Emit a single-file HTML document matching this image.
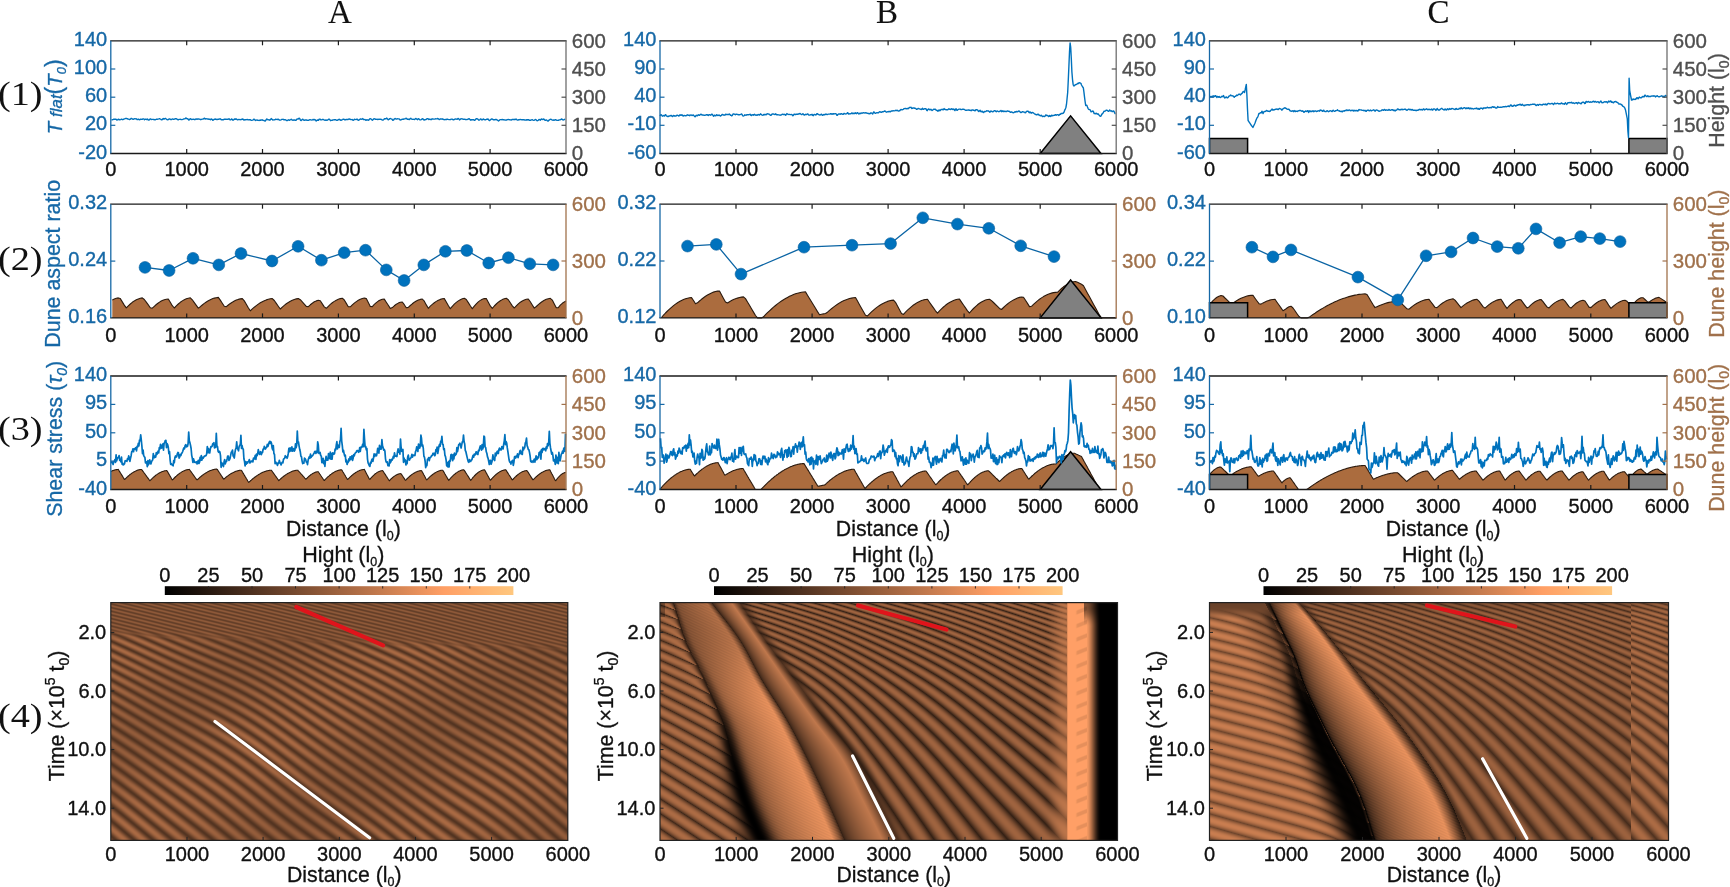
<!DOCTYPE html>
<html><head><meta charset="utf-8"><title>Dune figure</title>
<style>html,body{margin:0;padding:0;background:#fff;} #wrap{position:relative;width:1730px;height:887px;overflow:hidden;background:#fff;font-family:"Liberation Sans", sans-serif;} svg{position:absolute;left:0;top:0;}</style>
</head><body><div id="wrap">
<svg width="1730" height="887" viewBox="0 0 1730 887"><defs><filter id="fbl" x="-20%" y="-20%" width="140%" height="140%"><feGaussianBlur stdDeviation="3"/></filter><clipPath id="cpB"><rect x="660" y="603" width="458" height="238"/></clipPath><clipPath id="cpC"><rect x="1210" y="603" width="458" height="238"/></clipPath></defs><defs><linearGradient id="fbs" gradientUnits="userSpaceOnUse" x1="0" y1="0" x2="-4.6" y2="8.4" spreadMethod="repeat"><stop offset="0" stop-color="rgb(159,99,63)"/><stop offset="0.35" stop-color="rgb(143,89,57)"/><stop offset="0.6" stop-color="rgb(76,47,30)"/><stop offset="0.8" stop-color="rgb(133,83,53)"/><stop offset="1" stop-color="rgb(159,99,63)"/></linearGradient></defs><rect x="110.8" y="602.6" width="457" height="237.8" fill="url(#fbs)"/><rect x="660" y="602.6" width="457.5" height="237.8" fill="url(#fbs)"/><rect x="1209.5" y="602.6" width="459" height="237.8" fill="url(#fbs)"/><g clip-path="url(#cpB)"><g filter="url(#fbl)"><polygon points="674,603 687,642 701,670 714,699 724,724 733,760 744,798 755,826 763,843 846,843 827,800 808,760 787,720 762,680 740,640 712,603" fill="rgb(216,135,86)" /><polygon points="712,603 740,640 762,680 787,720 808,760 827,800 846,843 900,843 878,800 855,756 825,720 795,680 765,640 740,603" fill="rgb(159,99,63)" /><polygon points="718,724 727,760 738,798 749,826 757,843 767,843 759,826 748,798 737,760 728,724" fill="rgb(25,15,10)" /></g><rect x="1065" y="603" width="23" height="238" fill="rgb(255,183,116)"/><defs><linearGradient id="fbg" x1="0" x2="1"><stop offset="0" stop-color="rgb(255,175,111)"/><stop offset="1" stop-color="#000"/></linearGradient></defs><rect x="1088" y="603" width="14" height="238" fill="url(#fbg)"/><rect x="1102" y="603" width="16" height="238" fill="#000"/></g><g clip-path="url(#cpC)"><g filter="url(#fbl)"><polygon points="1268,603 1282,630 1295,656 1306,685 1320,713 1332,738 1359,793 1375,843 1460,843 1438,793 1402,738 1358,683 1314,628 1292,603" fill="rgb(229,143,91)" /><polygon points="1262,603 1274,630 1285,656 1292,685 1300,713 1306,738 1327,793 1349,843 1375,843 1359,793 1332,738 1320,713 1306,685 1295,656 1282,630 1268,603" fill="rgb(15,9,6)" /></g></g></svg>
<canvas id="hmA" width="457" height="238" style="position:absolute;left:111px;top:603px;width:457px;height:238px"></canvas><canvas id="hmB" width="458" height="238" style="position:absolute;left:660px;top:603px;width:458px;height:238px"></canvas><canvas id="hmC" width="458" height="238" style="position:absolute;left:1210px;top:603px;width:458px;height:238px"></canvas>
<svg width="1730" height="887" viewBox="0 0 1730 887"><defs><linearGradient id="cop" x1="0" x2="1" y1="0" y2="0"><stop offset="0.0" stop-color="rgb(0,0,0)"/><stop offset="0.1" stop-color="rgb(31,19,12)"/><stop offset="0.2" stop-color="rgb(63,39,25)"/><stop offset="0.3" stop-color="rgb(95,59,38)"/><stop offset="0.4" stop-color="rgb(127,79,50)"/><stop offset="0.5" stop-color="rgb(159,99,63)"/><stop offset="0.6" stop-color="rgb(191,119,76)"/><stop offset="0.7" stop-color="rgb(223,139,88)"/><stop offset="0.8" stop-color="rgb(255,159,101)"/><stop offset="0.9" stop-color="rgb(255,179,114)"/><stop offset="1.0" stop-color="rgb(255,199,126)"/></linearGradient></defs>
<text x="340" y="23" font-size="33" text-anchor="middle" fill="#111" stroke="#111" stroke-width="0.1" font-family='"Liberation Serif", serif' >A</text>
<text x="887" y="23" font-size="33" text-anchor="middle" fill="#111" stroke="#111" stroke-width="0.1" font-family='"Liberation Serif", serif' >B</text>
<text x="1438.5" y="23" font-size="33" text-anchor="middle" fill="#111" stroke="#111" stroke-width="0.1" font-family='"Liberation Serif", serif' >C</text>
<text transform="translate(20.3,104.6) scale(1.16,1)" font-size="33" text-anchor="middle" fill="#111" font-family='"Liberation Serif", serif'>(1)</text>
<text transform="translate(20.3,269.7) scale(1.16,1)" font-size="33" text-anchor="middle" fill="#111" font-family='"Liberation Serif", serif'>(2)</text>
<text transform="translate(20.3,440.4) scale(1.16,1)" font-size="33" text-anchor="middle" fill="#111" font-family='"Liberation Serif", serif'>(3)</text>
<text transform="translate(20.3,727) scale(1.16,1)" font-size="33" text-anchor="middle" fill="#111" font-family='"Liberation Serif", serif'>(4)</text>
<polyline points="111.5,119.7 112.2,119.7 113,119.6 113.8,119.2 114.5,119.2 115.2,119.1 116,119.3 116.8,120.1 117.5,119.9 118.2,119.2 119,119.5 119.8,119.9 120.5,119.7 121.2,119.3 122,119.2 122.8,119.8 123.5,119.3 124.2,118.9 125,118.7 125.8,118.4 126.5,118.4 127.2,118.8 128,119 128.8,119.1 129.5,119.6 130.2,119.4 131,118.5 131.8,118.4 132.5,119.2 133.2,119.4 134,118.9 134.8,118.7 135.5,118.9 136.2,118.8 137,119.5 137.8,119.5 138.5,119.1 139.2,119.7 140,119.5 140.8,119.1 141.5,119.3 142.2,119.4 143,118.9 143.8,118.9 144.5,119.8 145.2,119.3 146,119.1 146.8,119.6 147.5,119.1 148.2,119.8 149,120.2 149.8,119.1 150.5,118.9 151.2,119.5 152,119.4 152.8,119.4 153.5,119.5 154.2,119.5 155,120 155.8,119.5 156.5,119.1 157.2,119.2 158,119.1 158.8,118.9 159.5,118.6 160.2,119 161,119.5 161.8,119.9 162.5,119.2 163.2,118.5 164,119.2 164.8,118.7 165.5,118.4 166.2,119 167,119.6 167.8,119.9 168.5,119.3 169.2,119 170,119 170.8,119.6 171.5,119.6 172.2,118.9 173,119.2 173.8,119.3 174.5,119.1 175.2,118.7 176,118.8 176.8,119 177.5,119.5 178.2,119.8 179,119.4 179.8,119.4 180.5,119.3 181.2,119.5 182,119.6 182.8,119.4 183.5,119 184.2,118.9 185,118.8 185.8,117.9 186.5,118.4 187.2,118.8 188,119 188.8,120.1 189.5,119.7 190.2,118.7 191,119.1 191.8,119.5 192.5,119.4 193.2,119.1 194,119.4 194.8,119.7 195.5,119.1 196.2,118.9 197,119.3 197.8,118.9 198.5,119 199.2,119.1 200,119.3 200.8,119.7 201.5,119.4 202.2,119.1 203,119.1 203.8,118.6 204.5,118.2 205.2,119.1 206,118.7 206.8,118.9 207.5,119 208.2,119 209,119.3 209.8,119.3 210.5,119.7 211.2,118.9 212,119.3 212.8,120.3 213.5,119.9 214.2,119.3 215,119.3 215.8,119 216.5,119.5 217.2,119.6 218,119.2 218.8,119.2 219.5,119 220.2,118.8 221,119.5 221.8,119.9 222.5,119.8 223.2,119.8 224,119.3 224.8,119.2 225.5,119.2 226.2,119.3 227,119.4 227.8,119.3 228.5,119 229.2,118.8 230,119.9 230.8,119.9 231.5,119 232.2,119.3 233,120.2 233.8,119.6 234.5,119 235.2,119.3 236,118.8 236.8,119.3 237.5,119.9 238.2,119.7 239,119.4 239.8,119.6 240.5,119.7 241.2,119.5 242,119.3 242.8,118.9 243.5,119.8 244.2,120 245,119.7 245.8,119.8 246.5,119.6 247.2,119.4 248,119.8 248.8,119.9 249.5,119.6 250.2,119.7 251,120.2 251.8,120.4 252.5,120.2 253.2,119.8 254,119.1 254.8,119.7 255.5,120.5 256.2,120.1 257,120 257.8,120.3 258.5,120.4 259.2,120.5 260,120 260.8,120.2 261.5,120 262.2,119.8 263,120.4 263.8,120.4 264.5,120.9 265.2,121.1 266,120 266.8,118.9 267.5,119.6 268.2,119.9 269,119.6 269.8,120.2 270.5,119.7 271.2,118.6 272,119.3 272.8,120.1 273.5,119.9 274.2,119.9 275,119.7 275.8,119.1 276.5,119.4 277.2,119.6 278,119.1 278.8,119.6 279.5,120.1 280.2,120.1 281,119.8 281.8,119.4 282.5,119.4 283.2,119.3 284,119.8 284.8,119.8 285.5,119.8 286.2,120.2 287,120.8 287.8,120.2 288.5,119.8 289.2,120.3 290,120 290.8,119.5 291.5,119.3 292.2,120.1 293,120.2 293.8,120 294.5,119.9 295.2,120.3 296,120.4 296.8,119.2 297.5,119 298.2,119.1 299,118.2 299.8,118.7 300.5,120.3 301.2,120.5 302,119.6 302.8,119.2 303.5,120 304.2,120.4 305,120 305.8,120 306.5,120 307.2,120.3 308,120.4 308.8,120.2 309.5,119.7 310.2,119.8 311,119.9 311.8,120.1 312.5,119.9 313.2,119.4 314,119.9 314.8,119.5 315.5,120.1 316.2,121 317,120.2 317.8,120 318.5,120.3 319.2,119.1 320,119.1 320.8,119.9 321.5,119.9 322.2,119.5 323,119.4 323.8,119.7 324.5,120.2 325.2,120.4 326,119.9 326.8,120.4 327.5,120.2 328.2,119.5 329,119 329.8,119.7 330.5,120.7 331.2,120.4 332,120.3 332.8,120 333.5,119.9 334.2,119.7 335,119.6 335.8,119.7 336.5,120.3 337.2,120.4 338,119.9 338.8,119.5 339.5,119.3 340.2,120 341,120.4 341.8,119.9 342.5,119.6 343.2,119.2 344,119.2 344.8,119.9 345.5,119.8 346.2,119.4 347,119.5 347.8,119.6 348.5,119.1 349.2,119 350,119.2 350.8,119.6 351.5,119.6 352.2,119.5 353,120.3 353.8,120 354.5,119.2 355.2,119.4 356,119.6 356.8,119.2 357.5,119.3 358.2,120.4 359,120.1 359.8,119.3 360.5,119 361.2,119.2 362,119.1 362.8,118.6 363.5,119.5 364.2,119.6 365,119.5 365.8,120.3 366.5,120 367.2,119.7 368,120.3 368.8,120 369.5,119.1 370.2,118.7 371,118.9 371.8,119.9 372.5,120.2 373.2,119.4 374,118.7 374.8,118.9 375.5,119.3 376.2,119.4 377,119.3 377.8,119.5 378.5,119.3 379.2,119.2 380,119.4 380.8,119.3 381.5,119.4 382.2,120.1 383,120.1 383.8,119.5 384.5,118.7 385.2,118.8 386,118.7 386.8,118.1 387.5,119.1 388.2,119.8 389,119.4 389.8,118.6 390.5,118.5 391.2,118.9 392,119.2 392.8,120.2 393.5,120.1 394.2,119 395,118.5 395.8,118.8 396.5,119.1 397.2,118.8 398,118.9 398.8,118.9 399.5,119.2 400.2,120 401,119.9 401.8,119.4 402.5,119.2 403.2,119.3 404,119 404.8,118.9 405.5,118.6 406.2,118.2 407,119 407.8,119.4 408.5,119.2 409.2,119.6 410,118.9 410.8,118.3 411.5,119 412.2,119.4 413,119.2 413.8,119.4 414.5,119.6 415.2,118.9 416,118.5 416.8,119.2 417.5,119.7 418.2,118.7 419,119 419.8,119.9 420.5,119.9 421.2,119.6 422,119 422.8,118.7 423.5,119.7 424.2,120.1 425,119.7 425.8,119.6 426.5,119.1 427.2,118.7 428,118.6 428.8,119.5 429.5,119.2 430.2,119.2 431,119.8 431.8,119 432.5,118.8 433.2,119 434,119.1 434.8,119.1 435.5,118.8 436.2,118.9 437,118.9 437.8,118.5 438.5,118.9 439.2,119.6 440,119.1 440.8,118.8 441.5,119.1 442.2,118.8 443,119.3 443.8,119.5 444.5,119.7 445.2,119.6 446,119.3 446.8,119.5 447.5,119.1 448.2,119.4 449,119.6 449.8,119.6 450.5,119.6 451.2,119.1 452,119.1 452.8,119.5 453.5,119.8 454.2,119.5 455,119.2 455.8,118.9 456.5,119.1 457.2,119.4 458,118.5 458.8,118.9 459.5,119.9 460.2,119.4 461,118.7 461.8,118.9 462.5,118.9 463.2,119.3 464,119.4 464.8,119.1 465.5,119.6 466.2,119.6 467,119.5 467.8,119.4 468.5,118.9 469.2,118.6 470,119.7 470.8,120.2 471.5,119.6 472.2,119.8 473,119.7 473.8,119.8 474.5,120.4 475.2,120 476,118.8 476.8,118.8 477.5,118.9 478.2,119.5 479,120.3 479.8,119.7 480.5,118.9 481.2,119.2 482,120.1 482.8,119.3 483.5,119 484.2,119.6 485,119.8 485.8,119.8 486.5,119.3 487.2,119.2 488,119 488.8,120 489.5,120.6 490.2,120 491,119.4 491.8,118.9 492.5,119.1 493.2,119.7 494,119.8 494.8,119.8 495.5,119.5 496.2,119.5 497,119.9 497.8,120.3 498.5,121 499.2,120.5 500,119.6 500.8,119.6 501.5,119.7 502.2,119.5 503,119.7 503.8,119.6 504.5,119.8 505.2,120.1 506,120 506.8,120 507.5,119.6 508.2,119.4 509,119.6 509.8,119.7 510.5,119.9 511.2,120.1 512,119.5 512.8,119.5 513.5,119.5 514.2,119.3 515,119.7 515.8,119.2 516.5,119.3 517.2,120.1 518,120 518.8,119.8 519.5,119.7 520.2,119.5 521,119.6 521.8,119.7 522.5,119.8 523.2,119.6 524,119.7 524.8,120.1 525.5,120 526.2,119.8 527,120 527.8,119.6 528.5,119.6 529.2,120.2 530,120.2 530.8,120.2 531.5,119.9 532.2,119.7 533,120.1 533.8,120.4 534.5,120.2 535.2,119.5 536,119.6 536.8,120.6 537.5,120.7 538.2,120.4 539,119.5 539.8,119.7 540.5,120.2 541.2,119 542,119.2 542.8,119.6 543.5,119 544.2,119.3 545,120.2 545.8,120.2 546.5,119.9 547.2,120.6 548,121.1 548.8,120.4 549.5,119.8 550.2,119.4 551,119.2 551.8,119.8 552.5,120.2 553.2,120 554,120.3 554.8,119.9 555.5,119.6 556.2,120.1 557,120.3 557.8,120.4 558.5,120.3 559.2,119.9 560,119.8 560.8,119.6 561.5,118.9 562.2,119.4 563,120 563.8,119.9 564.5,119.3 565.2,119.1" fill="none" stroke="#0072BD" stroke-width="1.4" stroke-linejoin="round" />
<line x1="110.2" y1="40.8" x2="566.6" y2="40.8" stroke="#1a1a1a" stroke-width="1.3"/>
<line x1="110.2" y1="153.5" x2="566.6" y2="153.5" stroke="#1a1a1a" stroke-width="1.3"/>
<line x1="110.8" y1="40.8" x2="110.8" y2="153.5" stroke="#1668a6" stroke-width="1.3"/>
<line x1="566" y1="40.8" x2="566" y2="153.5" stroke="#6e6e6e" stroke-width="1.3"/>
<text x="110.8" y="176.1" font-size="20" text-anchor="middle" fill="#111" stroke="#111" stroke-width="0.35" font-family='"Liberation Sans", sans-serif' >0</text>
<line x1="186.7" y1="153.5" x2="186.7" y2="149" stroke="#1a1a1a" stroke-width="1.2"/>
<line x1="186.7" y1="40.8" x2="186.7" y2="45.3" stroke="#1a1a1a" stroke-width="1.2"/>
<text x="186.7" y="176.1" font-size="20" text-anchor="middle" fill="#111" stroke="#111" stroke-width="0.35" font-family='"Liberation Sans", sans-serif' >1000</text>
<line x1="262.5" y1="153.5" x2="262.5" y2="149" stroke="#1a1a1a" stroke-width="1.2"/>
<line x1="262.5" y1="40.8" x2="262.5" y2="45.3" stroke="#1a1a1a" stroke-width="1.2"/>
<text x="262.5" y="176.1" font-size="20" text-anchor="middle" fill="#111" stroke="#111" stroke-width="0.35" font-family='"Liberation Sans", sans-serif' >2000</text>
<line x1="338.4" y1="153.5" x2="338.4" y2="149" stroke="#1a1a1a" stroke-width="1.2"/>
<line x1="338.4" y1="40.8" x2="338.4" y2="45.3" stroke="#1a1a1a" stroke-width="1.2"/>
<text x="338.4" y="176.1" font-size="20" text-anchor="middle" fill="#111" stroke="#111" stroke-width="0.35" font-family='"Liberation Sans", sans-serif' >3000</text>
<line x1="414.3" y1="153.5" x2="414.3" y2="149" stroke="#1a1a1a" stroke-width="1.2"/>
<line x1="414.3" y1="40.8" x2="414.3" y2="45.3" stroke="#1a1a1a" stroke-width="1.2"/>
<text x="414.3" y="176.1" font-size="20" text-anchor="middle" fill="#111" stroke="#111" stroke-width="0.35" font-family='"Liberation Sans", sans-serif' >4000</text>
<line x1="490.1" y1="153.5" x2="490.1" y2="149" stroke="#1a1a1a" stroke-width="1.2"/>
<line x1="490.1" y1="40.8" x2="490.1" y2="45.3" stroke="#1a1a1a" stroke-width="1.2"/>
<text x="490.1" y="176.1" font-size="20" text-anchor="middle" fill="#111" stroke="#111" stroke-width="0.35" font-family='"Liberation Sans", sans-serif' >5000</text>
<text x="566" y="176.1" font-size="20" text-anchor="middle" fill="#111" stroke="#111" stroke-width="0.35" font-family='"Liberation Sans", sans-serif' >6000</text>
<text x="107.2" y="45.8" font-size="20" text-anchor="end" fill="#1668a6" stroke="#1668a6" stroke-width="0.35" font-family='"Liberation Sans", sans-serif' >140</text>
<line x1="110.8" y1="69" x2="115.3" y2="69" stroke="#1668a6" stroke-width="1.2"/>
<text x="107.2" y="74" font-size="20" text-anchor="end" fill="#1668a6" stroke="#1668a6" stroke-width="0.35" font-family='"Liberation Sans", sans-serif' >100</text>
<line x1="110.8" y1="97.2" x2="115.3" y2="97.2" stroke="#1668a6" stroke-width="1.2"/>
<text x="107.2" y="102.2" font-size="20" text-anchor="end" fill="#1668a6" stroke="#1668a6" stroke-width="0.35" font-family='"Liberation Sans", sans-serif' >60</text>
<line x1="110.8" y1="125.3" x2="115.3" y2="125.3" stroke="#1668a6" stroke-width="1.2"/>
<text x="107.2" y="130.3" font-size="20" text-anchor="end" fill="#1668a6" stroke="#1668a6" stroke-width="0.35" font-family='"Liberation Sans", sans-serif' >20</text>
<text x="107.2" y="158.5" font-size="20" text-anchor="end" fill="#1668a6" stroke="#1668a6" stroke-width="0.35" font-family='"Liberation Sans", sans-serif' >-20</text>
<text x="571.8" y="47.6" font-size="20.5" text-anchor="start" fill="#4f4f4f" stroke="#4f4f4f" stroke-width="0.35" font-family='"Liberation Sans", sans-serif' >600</text>
<line x1="566" y1="69" x2="561.5" y2="69" stroke="#4f4f4f" stroke-width="1.2"/>
<text x="571.8" y="75.8" font-size="20.5" text-anchor="start" fill="#4f4f4f" stroke="#4f4f4f" stroke-width="0.35" font-family='"Liberation Sans", sans-serif' >450</text>
<line x1="566" y1="97.2" x2="561.5" y2="97.2" stroke="#4f4f4f" stroke-width="1.2"/>
<text x="571.8" y="104" font-size="20.5" text-anchor="start" fill="#4f4f4f" stroke="#4f4f4f" stroke-width="0.35" font-family='"Liberation Sans", sans-serif' >300</text>
<line x1="566" y1="125.3" x2="561.5" y2="125.3" stroke="#4f4f4f" stroke-width="1.2"/>
<text x="571.8" y="132.1" font-size="20.5" text-anchor="start" fill="#4f4f4f" stroke="#4f4f4f" stroke-width="0.35" font-family='"Liberation Sans", sans-serif' >150</text>
<text x="571.8" y="160.3" font-size="20.5" text-anchor="start" fill="#4f4f4f" stroke="#4f4f4f" stroke-width="0.35" font-family='"Liberation Sans", sans-serif' >0</text>
<path d="M1040.2,153.5 L1070.6,115.9 L1101,153.5 Z" fill="#808080" stroke="#000" stroke-width="1.5" stroke-linejoin="miter"/>
<polyline points="659.7,115.6 660.3,115.3 660.9,114.7 661.5,114.9 662.1,115.9 662.7,116.2 663.3,115.7 663.9,115.5 664.5,116 665.1,115 665.7,114.7 666.3,115.8 666.9,116.1 667.5,116.5 668.1,116.6 668.7,116.1 669.3,115.9 669.9,116 670.5,115.7 671.1,115.4 671.7,115.9 672.3,116.6 672.9,116.2 673.5,115.5 674.1,115.6 674.7,116.1 675.3,116 675.9,116 676.5,115.7 677.1,115.1 677.7,115.4 678.3,115.7 678.9,116.1 679.5,115.3 680.1,114.7 680.7,115.3 681.3,115.4 681.9,114.7 682.5,115.3 683.1,116 683.7,115.8 684.3,115.4 684.9,115.6 685.5,115.7 686.1,115.7 686.7,115.5 687.3,114.8 687.9,115.1 688.5,115.2 689.1,115.3 689.7,115.7 690.3,115.1 690.9,115 691.5,115.2 692.1,115.5 692.7,115.4 693.3,114.9 693.9,115.5 694.5,116.5 695.1,116.7 695.7,116 696.3,115.3 696.9,115.8 697.5,115.7 698.1,114.8 698.7,114.9 699.3,115.4 699.9,115.1 700.5,114.3 701.1,114.1 701.7,114.9 702.3,115.1 702.9,114.8 703.5,115.2 704.1,115.4 704.7,115.2 705.3,115.2 705.9,115 706.5,114.7 707.1,114.6 707.7,115.1 708.3,115.5 708.9,114.8 709.5,114.7 710.1,114.8 710.7,115.2 711.3,114.7 711.9,114.1 712.5,114.5 713.1,115.7 713.7,116.2 714.3,115.3 714.9,115.2 715.5,115.9 716.1,115.6 716.7,114.7 717.3,115.2 717.9,115.5 718.5,115.3 719.1,115 719.7,115.4 720.3,116.1 720.9,115.7 721.5,115.3 722.1,114.4 722.7,114.4 723.3,115 723.9,114.9 724.5,115.2 725.1,115 725.7,114.2 726.3,114.4 726.9,114.7 727.5,114.5 728.1,114.5 728.7,114.5 729.3,113.9 729.9,114.5 730.5,115.3 731.1,115.3 731.7,115.9 732.3,115.5 732.9,114.2 733.5,113.9 734.1,114.1 734.7,114.2 735.3,114.7 735.9,114.2 736.5,114.2 737.1,114.4 737.7,114.4 738.3,114.9 738.9,114.7 739.5,114.7 740.1,114.6 740.7,114.4 741.3,114 741.9,114.2 742.5,115.4 743.1,116.1 743.7,115.9 744.3,115.5 744.9,114.8 745.5,115.1 746.1,115.3 746.7,114.7 747.3,114.7 747.9,114.7 748.5,114.7 749.1,114.6 749.7,114.4 750.3,114.3 750.9,115.4 751.5,115.5 752.1,114.7 752.7,114.9 753.3,115.2 753.9,114.6 754.5,114.3 755.1,115 755.7,115.2 756.3,114.9 756.9,115.3 757.5,115 758.1,114.5 758.7,114.6 759.3,115.1 759.9,114.6 760.5,113.8 761.1,114.3 761.7,114.8 762.3,115.2 762.9,115.4 763.5,114.7 764.1,114.4 764.7,114.9 765.3,114.4 765.9,114.7 766.5,114.6 767.1,113.7 767.7,113.9 768.3,114.1 768.9,114 769.5,114.6 770.1,114.9 770.7,115.4 771.3,115.2 771.9,114.1 772.5,113.9 773.1,114.1 773.7,114 774.3,114.4 774.9,114.6 775.5,113.8 776.1,114.2 776.7,114.9 777.3,114.8 777.9,114.8 778.5,114.9 779.1,114.9 779.7,115.1 780.3,115.2 780.9,115 781.5,114.9 782.1,114.3 782.7,114.1 783.3,114.5 783.9,114.6 784.5,114.3 785.1,114.8 785.7,115.3 786.3,114.3 786.9,113.6 787.5,114 788.1,114.5 788.7,114.4 789.3,114.4 789.9,114.5 790.5,114.6 791.1,114.6 791.7,114.4 792.3,115 792.9,115.8 793.5,115.2 794.1,114.1 794.7,114.2 795.3,114.6 795.9,114.5 796.5,114.1 797.1,114.4 797.7,114.3 798.3,113.9 798.9,114.1 799.5,113.7 800.1,113.4 800.7,114 801.3,114.5 801.9,114.6 802.5,113.9 803.1,113.8 803.7,114.7 804.3,115.1 804.9,114.8 805.5,114.3 806.1,114.5 806.7,114.6 807.3,114 807.9,113.9 808.5,114.8 809.1,115.1 809.7,115 810.3,114.8 810.9,114.7 811.5,114.7 812.1,114.3 812.7,115.4 813.3,115.7 813.9,114.7 814.5,114.4 815.1,114.6 815.7,115 816.3,114.7 816.9,113.7 817.5,113.8 818.1,114.4 818.7,114.5 819.3,114.9 819.9,115 820.5,114.8 821.1,114.3 821.7,114.3 822.3,115.3 822.9,115.3 823.5,114.6 824.1,114.4 824.7,114.9 825.3,114.5 825.9,113.9 826.5,114.3 827.1,114.6 827.7,114.3 828.3,114.1 828.9,114.1 829.5,114.1 830.1,114.1 830.7,113.6 831.3,113.7 831.9,114.3 832.5,114 833.1,113.6 833.7,114.1 834.3,113.8 834.9,113.6 835.5,113.6 836.1,113.9 836.7,115.1 837.3,115.4 837.9,114.5 838.5,114 839.1,114.1 839.7,113.9 840.3,114.3 840.9,113.8 841.5,113.7 842.1,114.1 842.7,114.2 843.3,114.2 843.9,113.5 844.5,113.5 845.1,114 845.7,113.9 846.3,113.8 846.9,113.6 847.5,112.7 848.1,113.1 848.7,114.1 849.3,113.8 849.9,113.6 850.5,113.9 851.1,113.7 851.7,113 852.3,113.1 852.9,113.7 853.5,113.3 854.1,113.3 854.7,113.5 855.3,112.7 855.9,113.4 856.5,113.7 857.1,112.8 857.7,112.7 858.3,113.4 858.9,114 859.5,113.5 860.1,113.2 860.7,113.6 861.3,113.2 861.9,113 862.5,113.2 863.1,112.9 863.7,112.7 864.3,112.9 864.9,113.1 865.5,112.8 866.1,112.7 866.7,113.2 867.3,113.4 867.9,113.3 868.5,113.7 869.1,113.5 869.7,113.9 870.3,113.4 870.9,112.9 871.5,113 872.1,113.4 872.7,114 873.3,112.7 873.9,111.8 874.5,112.7 875.1,113.2 875.7,113.2 876.3,112.9 876.9,112.7 877.5,112.9 878.1,112.7 878.7,112.7 879.3,111.9 879.9,111.7 880.5,112.1 881.1,112.2 881.7,112.4 882.3,111.7 882.9,111.8 883.5,111.8 884.1,111.3 884.7,111 885.3,111.2 885.9,111.9 886.5,112.2 887.1,111.9 887.7,111.8 888.3,111.8 888.9,111.4 889.5,111.5 890.1,111.8 890.7,111.5 891.3,110.9 891.9,110.9 892.5,111 893.1,110.6 893.7,110.9 894.3,110.9 894.9,110.7 895.5,110.4 896.1,110.3 896.7,110.6 897.3,110.3 897.9,110.8 898.5,111 899.1,110.8 899.7,110.9 900.3,110 900.9,109.4 901.5,109.7 902.1,109.8 902.7,109.6 903.3,109.4 903.9,108.7 904.5,108.6 905.1,108.4 905.7,108.5 906.3,108.9 906.9,108.5 907.5,108.5 908.1,108.8 908.7,108.3 909.3,107.5 909.9,107.5 910.5,107.4 911.1,107.3 911.7,108.5 912.3,108.3 912.9,108 913.5,108 914.1,107.9 914.7,108.3 915.3,108.3 915.9,108.6 916.5,109.3 917.1,109.3 917.7,108.8 918.3,108.4 918.9,108.6 919.5,108.9 920.1,109.1 920.7,109.2 921.3,109.5 921.9,108.9 922.5,108.3 923.1,109.3 923.7,109.3 924.3,108.8 924.9,108.9 925.5,108.7 926.1,108.9 926.7,110.3 927.3,110.7 927.9,109.5 928.5,108.9 929.1,109.2 929.7,109.9 930.3,109.8 930.9,109.2 931.5,109.9 932.1,110.5 932.7,110.1 933.3,109.5 933.9,109.1 934.5,109.3 935.1,109.1 935.7,109.7 936.3,110.3 936.9,110.2 937.5,111 938.1,111.2 938.7,110.2 939.3,110 939.9,110.8 940.5,110.2 941.1,109.4 941.7,109.6 942.3,109.3 942.9,109.8 943.5,109.5 944.1,108.6 944.7,109.3 945.3,109.5 945.9,109.7 946.5,109.8 947.1,109.6 947.7,109.9 948.3,109.2 948.9,108.7 949.5,109.2 950.1,109.2 950.7,109.5 951.3,109.1 951.9,108.7 952.5,109.3 953.1,109.6 953.7,109 954.3,109.6 954.9,110.6 955.5,109.3 956.1,108.7 956.7,110.1 957.3,110.3 957.9,109.6 958.5,109.3 959.1,109.1 959.7,109.1 960.3,109.2 960.9,109.5 961.5,109.6 962.1,109.3 962.7,109.1 963.3,109.2 963.9,109.4 964.5,109.4 965.1,110.1 965.7,110.3 966.3,110.2 966.9,110.2 967.5,110.1 968.1,110 968.7,109.9 969.3,110.3 969.9,110.1 970.5,110.3 971.1,110.7 971.7,110.1 972.3,109.9 972.9,110 973.5,110.3 974.1,110.3 974.7,110.7 975.3,110.7 975.9,109.6 976.5,109.7 977.1,109.8 977.7,110.1 978.3,111.2 978.9,111.5 979.5,110.7 980.1,110.2 980.7,111.4 981.3,111.8 981.9,111.2 982.5,111.5 983.1,112.4 983.7,112.5 984.3,111.7 984.9,111.4 985.5,111.6 986.1,111.3 986.7,110.7 987.3,110.9 987.9,111 988.5,111 989.1,111.3 989.7,112.2 990.3,111.8 990.9,111 991.5,111.3 992.1,111.5 992.7,111.9 993.3,111.6 993.9,111 994.5,110.6 995.1,110.6 995.7,111.3 996.3,111.7 996.9,111.1 997.5,111 998.1,111.4 998.7,111.7 999.3,111.5 999.9,111.2 1000.5,110.8 1001.1,110.5 1001.7,111.7 1002.3,111.4 1002.9,110.7 1003.5,111.6 1004.1,111.6 1004.7,111.2 1005.3,111.3 1005.9,111.6 1006.5,111.6 1007.1,111 1007.7,111 1008.3,111.4 1008.9,111.2 1009.5,111.6 1010.1,112 1010.7,112.3 1011.3,111.9 1011.9,111.9 1012.5,112.5 1013.1,112.6 1013.7,112.7 1014.3,112.2 1014.9,111.7 1015.5,112.1 1016.1,111.7 1016.7,111.5 1017.3,111.8 1017.9,111.6 1018.5,111.2 1019.1,111 1019.7,111.6 1020.3,112.2 1020.9,112.6 1021.5,112.3 1022.1,111.9 1022.7,111.6 1023.3,111.8 1023.9,112.1 1024.5,112.1 1025.1,112.8 1025.7,112.6 1026.3,111.5 1026.9,111.3 1027.5,111.3 1028.1,111.2 1028.7,112.1 1029.3,112.7 1029.9,111.9 1030.5,112.1 1031.1,113.2 1031.7,113 1032.3,112.4 1032.9,112.6 1033.5,113 1034.1,113.5 1034.7,113.9 1035.3,114.3 1035.9,114.5 1036.5,114.8 1037.1,114.9 1037.7,114.1 1038.3,114.1 1038.9,115 1039.5,115.1 1040.1,115.6 1040.7,115.8 1041.3,115.3 1041.9,116 1042.5,116.6 1043.1,116.2 1043.7,116.3 1044.3,116.6 1044.9,116.4 1045.5,115.2 1046.1,114.9 1046.7,115.6 1047.3,115.5 1047.9,115.7 1048.5,116.5 1049.1,116.3 1049.7,115.5 1050.3,116.4 1050.9,116.5 1051.5,115.3 1052.1,115.4 1052.7,115.8 1053.3,115.4 1053.9,115.4 1054.5,115.4 1055.1,114.7 1055.7,114.8 1056.3,115.2 1056.9,114.8 1057.5,114.6 1058.1,114.6 1058.7,115.4 1059.3,115 1059.9,114.3 1060.5,114.3 1061.1,113.5 1061.7,113.4 1062.3,113.5 1062.9,113.4 1063.5,112.9 1064.1,112 1064.7,110.2 1065.3,109.1 1065.9,107.5 1066.5,104.2 1067.1,98.2 1067.7,92.2 1068.3,79.8 1068.9,66.3 1069.5,52 1070.1,42.9 1070.7,47.3 1071.3,58.5 1071.9,72 1072.5,79.3 1073.1,84.2 1073.7,85.9 1074.3,85.9 1074.9,85.1 1075.5,84.6 1076.1,84.5 1076.7,84.4 1077.3,83.7 1077.9,83.2 1078.5,83.5 1079.1,82.8 1079.7,82.6 1080.3,83.1 1080.9,83.3 1081.5,85 1082.1,86 1082.7,87.1 1083.3,87.7 1083.9,91.9 1084.5,96.9 1085.1,101.5 1085.7,105.5 1086.3,105.1 1086.9,105.4 1087.5,107.1 1088.1,108.6 1088.7,109.3 1089.3,109.5 1089.9,109.6 1090.5,110.4 1091.1,111.9 1091.7,111.7 1092.3,111.3 1092.9,111 1093.5,111.7 1094.1,113.5 1094.7,113.7 1095.3,113.5 1095.9,113.8 1096.5,113.3 1097.1,113.9 1097.7,114.2 1098.3,114 1098.9,114.9 1099.5,115.7 1100.1,116.1 1100.7,116.3 1101.3,115.4 1101.9,114.1 1102.5,113.6 1103.1,113 1103.7,111.7 1104.3,111.1 1104.9,111.2 1105.5,110.8 1106.1,110.3 1106.7,110.2 1107.3,110.5 1107.9,111 1108.5,111.4 1109.1,110.8 1109.7,110 1110.3,110.9 1110.9,111.1 1111.5,110.8 1112.1,111.5 1112.7,111.6 1113.3,110.9 1113.9,111.2 1114.5,112.4 1115.1,113.6 1115.7,113.6" fill="none" stroke="#0072BD" stroke-width="1.4" stroke-linejoin="round" />
<line x1="659.4" y1="40.8" x2="1116.8" y2="40.8" stroke="#1a1a1a" stroke-width="1.3"/>
<line x1="659.4" y1="153.5" x2="1116.8" y2="153.5" stroke="#1a1a1a" stroke-width="1.3"/>
<line x1="660" y1="40.8" x2="660" y2="153.5" stroke="#1668a6" stroke-width="1.3"/>
<line x1="1116.2" y1="40.8" x2="1116.2" y2="153.5" stroke="#6e6e6e" stroke-width="1.3"/>
<text x="660" y="176.1" font-size="20" text-anchor="middle" fill="#111" stroke="#111" stroke-width="0.35" font-family='"Liberation Sans", sans-serif' >0</text>
<line x1="736" y1="153.5" x2="736" y2="149" stroke="#1a1a1a" stroke-width="1.2"/>
<line x1="736" y1="40.8" x2="736" y2="45.3" stroke="#1a1a1a" stroke-width="1.2"/>
<text x="736" y="176.1" font-size="20" text-anchor="middle" fill="#111" stroke="#111" stroke-width="0.35" font-family='"Liberation Sans", sans-serif' >1000</text>
<line x1="812.1" y1="153.5" x2="812.1" y2="149" stroke="#1a1a1a" stroke-width="1.2"/>
<line x1="812.1" y1="40.8" x2="812.1" y2="45.3" stroke="#1a1a1a" stroke-width="1.2"/>
<text x="812.1" y="176.1" font-size="20" text-anchor="middle" fill="#111" stroke="#111" stroke-width="0.35" font-family='"Liberation Sans", sans-serif' >2000</text>
<line x1="888.1" y1="153.5" x2="888.1" y2="149" stroke="#1a1a1a" stroke-width="1.2"/>
<line x1="888.1" y1="40.8" x2="888.1" y2="45.3" stroke="#1a1a1a" stroke-width="1.2"/>
<text x="888.1" y="176.1" font-size="20" text-anchor="middle" fill="#111" stroke="#111" stroke-width="0.35" font-family='"Liberation Sans", sans-serif' >3000</text>
<line x1="964.1" y1="153.5" x2="964.1" y2="149" stroke="#1a1a1a" stroke-width="1.2"/>
<line x1="964.1" y1="40.8" x2="964.1" y2="45.3" stroke="#1a1a1a" stroke-width="1.2"/>
<text x="964.1" y="176.1" font-size="20" text-anchor="middle" fill="#111" stroke="#111" stroke-width="0.35" font-family='"Liberation Sans", sans-serif' >4000</text>
<line x1="1040.2" y1="153.5" x2="1040.2" y2="149" stroke="#1a1a1a" stroke-width="1.2"/>
<line x1="1040.2" y1="40.8" x2="1040.2" y2="45.3" stroke="#1a1a1a" stroke-width="1.2"/>
<text x="1040.2" y="176.1" font-size="20" text-anchor="middle" fill="#111" stroke="#111" stroke-width="0.35" font-family='"Liberation Sans", sans-serif' >5000</text>
<text x="1116.2" y="176.1" font-size="20" text-anchor="middle" fill="#111" stroke="#111" stroke-width="0.35" font-family='"Liberation Sans", sans-serif' >6000</text>
<text x="656.4" y="45.8" font-size="20" text-anchor="end" fill="#1668a6" stroke="#1668a6" stroke-width="0.35" font-family='"Liberation Sans", sans-serif' >140</text>
<line x1="660" y1="69" x2="664.5" y2="69" stroke="#1668a6" stroke-width="1.2"/>
<text x="656.4" y="74" font-size="20" text-anchor="end" fill="#1668a6" stroke="#1668a6" stroke-width="0.35" font-family='"Liberation Sans", sans-serif' >90</text>
<line x1="660" y1="97.2" x2="664.5" y2="97.2" stroke="#1668a6" stroke-width="1.2"/>
<text x="656.4" y="102.2" font-size="20" text-anchor="end" fill="#1668a6" stroke="#1668a6" stroke-width="0.35" font-family='"Liberation Sans", sans-serif' >40</text>
<line x1="660" y1="125.3" x2="664.5" y2="125.3" stroke="#1668a6" stroke-width="1.2"/>
<text x="656.4" y="130.3" font-size="20" text-anchor="end" fill="#1668a6" stroke="#1668a6" stroke-width="0.35" font-family='"Liberation Sans", sans-serif' >-10</text>
<text x="656.4" y="158.5" font-size="20" text-anchor="end" fill="#1668a6" stroke="#1668a6" stroke-width="0.35" font-family='"Liberation Sans", sans-serif' >-60</text>
<text x="1122" y="47.6" font-size="20.5" text-anchor="start" fill="#4f4f4f" stroke="#4f4f4f" stroke-width="0.35" font-family='"Liberation Sans", sans-serif' >600</text>
<line x1="1116.2" y1="69" x2="1111.7" y2="69" stroke="#4f4f4f" stroke-width="1.2"/>
<text x="1122" y="75.8" font-size="20.5" text-anchor="start" fill="#4f4f4f" stroke="#4f4f4f" stroke-width="0.35" font-family='"Liberation Sans", sans-serif' >450</text>
<line x1="1116.2" y1="97.2" x2="1111.7" y2="97.2" stroke="#4f4f4f" stroke-width="1.2"/>
<text x="1122" y="104" font-size="20.5" text-anchor="start" fill="#4f4f4f" stroke="#4f4f4f" stroke-width="0.35" font-family='"Liberation Sans", sans-serif' >300</text>
<line x1="1116.2" y1="125.3" x2="1111.7" y2="125.3" stroke="#4f4f4f" stroke-width="1.2"/>
<text x="1122" y="132.1" font-size="20.5" text-anchor="start" fill="#4f4f4f" stroke="#4f4f4f" stroke-width="0.35" font-family='"Liberation Sans", sans-serif' >150</text>
<text x="1122" y="160.3" font-size="20.5" text-anchor="start" fill="#4f4f4f" stroke="#4f4f4f" stroke-width="0.35" font-family='"Liberation Sans", sans-serif' >0</text>
<path d="M1209.5,153.5 L1209.5,138.5 L1247.6,138.5 L1247.6,153.5" fill="#808080" stroke="#000" stroke-width="1.5"/>
<path d="M1628.9,153.5 L1628.9,138.5 L1667,138.5 L1667,153.5" fill="#808080" stroke="#000" stroke-width="1.5"/>
<polyline points="1209.1,96.1 1209.7,96.3 1210.3,96.9 1210.9,96.5 1211.5,96.5 1212.1,97 1212.7,96.1 1213.3,95.8 1213.9,96.6 1214.5,96.5 1215.1,95.6 1215.7,95.7 1216.3,96.8 1216.9,97.4 1217.5,96.4 1218.1,96.8 1218.7,97.2 1219.3,96.6 1219.9,97.4 1220.5,97.5 1221.1,97.1 1221.7,96.3 1222.3,96.5 1222.9,96.7 1223.5,95.6 1224.1,96.9 1224.7,98 1225.3,97.7 1225.9,97.1 1226.5,97 1227.1,97.8 1227.7,97.8 1228.3,97.2 1228.9,96.1 1229.5,96 1230.1,95.6 1230.7,95 1231.3,95.7 1231.9,95.9 1232.5,95.8 1233.1,96 1233.7,96.7 1234.3,97.2 1234.9,96.4 1235.5,96.3 1236.1,95.9 1236.7,95.1 1237.3,95.5 1237.9,95 1238.5,94.4 1239.1,94.1 1239.7,94.1 1240.3,94.9 1240.9,94.4 1241.5,93.7 1242.1,93.3 1242.7,92.2 1243.3,91.5 1243.9,91.8 1244.5,92.5 1245.1,90 1245.7,87.2 1246.3,84.4 1246.9,95.2 1247.5,109.3 1248.1,120.5 1248.7,121.4 1249.3,122.3 1249.9,123.2 1250.5,124.1 1251.1,125 1251.7,125.8 1252.3,126.6 1252.9,127.4 1253.5,126.2 1254.1,125 1254.7,123.8 1255.3,122.3 1255.9,120.5 1256.5,119 1257.1,117.8 1257.7,117.1 1258.3,115.4 1258.9,113.5 1259.5,113.5 1260.1,112.9 1260.7,112.8 1261.3,112.9 1261.9,111.2 1262.5,112.2 1263.1,113.6 1263.7,112.1 1264.3,111.5 1264.9,111.6 1265.5,111.4 1266.1,110.8 1266.7,110.4 1267.3,111 1267.9,111.2 1268.5,111.3 1269.1,111.2 1269.7,111.5 1270.3,111.1 1270.9,110.2 1271.5,109.7 1272.1,109.1 1272.7,110.1 1273.3,110.1 1273.9,109.7 1274.5,109.9 1275.1,109.3 1275.7,109.1 1276.3,109.2 1276.9,109 1277.5,109.3 1278.1,109.6 1278.7,109.1 1279.3,108.5 1279.9,108.7 1280.5,108.9 1281.1,109.1 1281.7,110 1282.3,109.9 1282.9,108.9 1283.5,108.5 1284.1,108.1 1284.7,107.8 1285.3,107.9 1285.9,108.3 1286.5,108.7 1287.1,109.2 1287.7,109.4 1288.3,109.3 1288.9,109.2 1289.5,110 1290.1,110.8 1290.7,111 1291.3,111.2 1291.9,111.2 1292.5,110.8 1293.1,110.6 1293.7,111.7 1294.3,111 1294.9,110.6 1295.5,111.6 1296.1,111.4 1296.7,111.1 1297.3,111.5 1297.9,111 1298.5,110.8 1299.1,110.7 1299.7,110.4 1300.3,110.5 1300.9,110.7 1301.5,111.1 1302.1,111.3 1302.7,110.8 1303.3,111.4 1303.9,112.3 1304.5,111.9 1305.1,111.3 1305.7,111 1306.3,111.3 1306.9,111.5 1307.5,110.7 1308.1,110.8 1308.7,112.5 1309.3,111.5 1309.9,110.8 1310.5,111.6 1311.1,111.2 1311.7,111.6 1312.3,111.2 1312.9,110.7 1313.5,111.7 1314.1,111.5 1314.7,110.9 1315.3,111 1315.9,110.9 1316.5,111.5 1317.1,111.3 1317.7,111 1318.3,110.9 1318.9,110.8 1319.5,111.2 1320.1,110 1320.7,110.1 1321.3,110.6 1321.9,110.5 1322.5,111.4 1323.1,111.1 1323.7,110.2 1324.3,111.1 1324.9,111.5 1325.5,111.6 1326.1,111.6 1326.7,110.8 1327.3,110.6 1327.9,111.4 1328.5,111.7 1329.1,111.3 1329.7,110.9 1330.3,110.9 1330.9,110.7 1331.5,111.4 1332.1,111.6 1332.7,110.5 1333.3,110.3 1333.9,111 1334.5,111.4 1335.1,111.1 1335.7,110.6 1336.3,110.6 1336.9,110.3 1337.5,109.8 1338.1,110.7 1338.7,110.9 1339.3,110.8 1339.9,111.4 1340.5,111.5 1341.1,111.1 1341.7,111.6 1342.3,111.8 1342.9,110.9 1343.5,110.9 1344.1,111.2 1344.7,110.6 1345.3,110.5 1345.9,110.7 1346.5,110 1347.1,110 1347.7,110.6 1348.3,110.5 1348.9,110 1349.5,110 1350.1,110.6 1350.7,110.7 1351.3,110.3 1351.9,110.5 1352.5,110.5 1353.1,110.2 1353.7,111.1 1354.3,110.9 1354.9,110.2 1355.5,110.9 1356.1,110.9 1356.7,110.4 1357.3,110.6 1357.9,111.1 1358.5,110.2 1359.1,109.5 1359.7,110 1360.3,109.9 1360.9,109.9 1361.5,110 1362.1,110.4 1362.7,110.4 1363.3,110.3 1363.9,110.8 1364.5,110.5 1365.1,110.3 1365.7,111.2 1366.3,111.3 1366.9,110.4 1367.5,110.3 1368.1,110.2 1368.7,110.3 1369.3,110.9 1369.9,110.5 1370.5,110.1 1371.1,110.8 1371.7,110.7 1372.3,110.3 1372.9,110.1 1373.5,109.8 1374.1,110 1374.7,111 1375.3,111 1375.9,110.1 1376.5,110 1377.1,110.1 1377.7,110.5 1378.3,110.7 1378.9,111.2 1379.5,111.2 1380.1,110.9 1380.7,110.9 1381.3,110.6 1381.9,110 1382.5,109.8 1383.1,110.2 1383.7,110.2 1384.3,109.4 1384.9,109.8 1385.5,110.4 1386.1,110 1386.7,110 1387.3,110.1 1387.9,110.3 1388.5,109.9 1389.1,109.4 1389.7,110 1390.3,110.3 1390.9,110.1 1391.5,109.8 1392.1,109.7 1392.7,109.8 1393.3,110.5 1393.9,110.2 1394.5,110.3 1395.1,111 1395.7,110.2 1396.3,110.2 1396.9,109.8 1397.5,109 1398.1,109 1398.7,109.5 1399.3,109.8 1399.9,109.7 1400.5,109.9 1401.1,109.3 1401.7,109.4 1402.3,109.7 1402.9,109.3 1403.5,109.6 1404.1,109.4 1404.7,109.1 1405.3,109.1 1405.9,109.6 1406.5,110.1 1407.1,110.3 1407.7,109.8 1408.3,109.3 1408.9,109.3 1409.5,109.7 1410.1,109.3 1410.7,109.6 1411.3,110.1 1411.9,109.4 1412.5,109.7 1413.1,110.3 1413.7,110.3 1414.3,110.3 1414.9,110.2 1415.5,110.3 1416.1,110.7 1416.7,110.2 1417.3,110.3 1417.9,110.3 1418.5,109.9 1419.1,109.5 1419.7,109.3 1420.3,109.9 1420.9,109.5 1421.5,109.5 1422.1,110.1 1422.7,109.9 1423.3,109 1423.9,108.9 1424.5,109.9 1425.1,109.6 1425.7,109.4 1426.3,108.8 1426.9,109 1427.5,109.6 1428.1,109.7 1428.7,109.2 1429.3,109.2 1429.9,109.7 1430.5,109.7 1431.1,109.5 1431.7,109 1432.3,110.1 1432.9,110 1433.5,108.9 1434.1,109.1 1434.7,109 1435.3,109.5 1435.9,110.4 1436.5,109.7 1437.1,108.5 1437.7,109.2 1438.3,110.1 1438.9,110 1439.5,110 1440.1,109.4 1440.7,108.9 1441.3,108.7 1441.9,108.3 1442.5,109.1 1443.1,109.3 1443.7,109.8 1444.3,110 1444.9,109 1445.5,109.2 1446.1,110.1 1446.7,109.9 1447.3,108.9 1447.9,108.8 1448.5,109.7 1449.1,109.4 1449.7,108.6 1450.3,109.1 1450.9,109.4 1451.5,108.7 1452.1,108.5 1452.7,108.6 1453.3,108.8 1453.9,109.1 1454.5,109.4 1455.1,109.6 1455.7,108.6 1456.3,108.5 1456.9,109.3 1457.5,109.3 1458.1,109.4 1458.7,109 1459.3,108.3 1459.9,108.8 1460.5,108.7 1461.1,107.6 1461.7,108.4 1462.3,108.8 1462.9,108.4 1463.5,108.1 1464.1,107.7 1464.7,107.8 1465.3,108.1 1465.9,108.7 1466.5,108 1467.1,108.1 1467.7,108.5 1468.3,107.8 1468.9,108.4 1469.5,108.8 1470.1,108 1470.7,108.6 1471.3,108.9 1471.9,108.3 1472.5,108.6 1473.1,109 1473.7,108.8 1474.3,108.6 1474.9,108.5 1475.5,108.5 1476.1,108.5 1476.7,108 1477.3,108.9 1477.9,109.1 1478.5,108.5 1479.1,109.2 1479.7,109.2 1480.3,108.1 1480.9,108.2 1481.5,108.1 1482.1,108.2 1482.7,109.1 1483.3,108.4 1483.9,107.8 1484.5,108 1485.1,108.2 1485.7,107.8 1486.3,108 1486.9,107.6 1487.5,107.2 1488.1,107.7 1488.7,107.7 1489.3,107.9 1489.9,107.5 1490.5,107.5 1491.1,107.9 1491.7,107.4 1492.3,106.9 1492.9,106.6 1493.5,107.2 1494.1,107.2 1494.7,107 1495.3,107.7 1495.9,108 1496.5,108.1 1497.1,107.6 1497.7,106.6 1498.3,107 1498.9,107.4 1499.5,107.4 1500.1,107.2 1500.7,107.2 1501.3,107.4 1501.9,107.2 1502.5,107 1503.1,106.8 1503.7,106.7 1504.3,106.6 1504.9,106.8 1505.5,106.4 1506.1,106.6 1506.7,106.7 1507.3,106.4 1507.9,106.3 1508.5,105.9 1509.1,106.5 1509.7,106.5 1510.3,105.2 1510.9,105 1511.5,105.3 1512.1,106.3 1512.7,106.4 1513.3,105.9 1513.9,105.4 1514.5,105.1 1515.1,105.7 1515.7,106.1 1516.3,105.6 1516.9,105.1 1517.5,105.4 1518.1,104.8 1518.7,104.7 1519.3,104.9 1519.9,104.1 1520.5,104.4 1521.1,105.3 1521.7,105 1522.3,104.3 1522.9,104.9 1523.5,105.5 1524.1,105.3 1524.7,105.7 1525.3,105.1 1525.9,104.9 1526.5,105 1527.1,104.6 1527.7,104.7 1528.3,104.7 1528.9,105.1 1529.5,105.1 1530.1,104.6 1530.7,104.5 1531.3,104.6 1531.9,104.4 1532.5,104.1 1533.1,104.3 1533.7,104.3 1534.3,104.3 1534.9,104.2 1535.5,105 1536.1,105.6 1536.7,105.1 1537.3,104.5 1537.9,105.1 1538.5,105.3 1539.1,104.4 1539.7,104.4 1540.3,104.5 1540.9,104.9 1541.5,104.8 1542.1,105 1542.7,104.7 1543.3,104.1 1543.9,104.1 1544.5,104.5 1545.1,104.7 1545.7,104 1546.3,104.4 1546.9,104.9 1547.5,104.1 1548.1,103.5 1548.7,103.4 1549.3,103.6 1549.9,104 1550.5,103.8 1551.1,103.6 1551.7,103.5 1552.3,103.5 1552.9,103.8 1553.5,104.6 1554.1,103.7 1554.7,103.1 1555.3,103.6 1555.9,103.8 1556.5,103.6 1557.1,103.4 1557.7,103.3 1558.3,103.6 1558.9,104 1559.5,103.6 1560.1,103.7 1560.7,103.7 1561.3,103 1561.9,103.2 1562.5,103.9 1563.1,103.6 1563.7,103.8 1564.3,104.3 1564.9,103.5 1565.5,102.8 1566.1,103.7 1566.7,104.4 1567.3,103.6 1567.9,102.6 1568.5,102.6 1569.1,102.9 1569.7,102.5 1570.3,102.6 1570.9,102.7 1571.5,102.3 1572.1,103 1572.7,103.2 1573.3,102.8 1573.9,103.2 1574.5,103.5 1575.1,103.1 1575.7,102.8 1576.3,102.6 1576.9,103.2 1577.5,103.7 1578.1,102.6 1578.7,102.4 1579.3,103 1579.9,103.1 1580.5,103.5 1581.1,103.8 1581.7,102.9 1582.3,102.4 1582.9,102.1 1583.5,102.2 1584.1,102.6 1584.7,103.5 1585.3,103.4 1585.9,101.7 1586.5,101.4 1587.1,102.2 1587.7,101.9 1588.3,101.5 1588.9,101.8 1589.5,102.2 1590.1,102.3 1590.7,101.8 1591.3,102.1 1591.9,102.2 1592.5,101.7 1593.1,101.4 1593.7,101.3 1594.3,102 1594.9,101.7 1595.5,101.4 1596.1,102.2 1596.7,102.1 1597.3,101.9 1597.9,101.7 1598.5,102.1 1599.1,102.8 1599.7,102.5 1600.3,101.5 1600.9,101 1601.5,102 1602.1,102.9 1602.7,102.7 1603.3,102.5 1603.9,102.2 1604.5,101.7 1605.1,101.9 1605.7,102.1 1606.3,101.6 1606.9,101.8 1607.5,102.8 1608.1,102.1 1608.7,101.1 1609.3,101.6 1609.9,101.9 1610.5,100.9 1611.1,101.4 1611.7,102.3 1612.3,101.9 1612.9,102.6 1613.5,102.8 1614.1,101.8 1614.7,101.8 1615.3,101.7 1615.9,101.4 1616.5,102.2 1617.1,102.4 1617.7,102.4 1618.3,103.4 1618.9,104 1619.5,103.9 1620.1,104 1620.7,104.1 1621.3,104.7 1621.9,104.8 1622.5,105.9 1623.1,106.4 1623.7,106.6 1624.3,107.3 1624.9,108.2 1625.5,109.9 1626.1,112.9 1626.7,115.9 1627.3,118.9 1627.9,131.3 1628.5,137.8 1629.1,78.3 1629.7,90.3 1630.3,94 1630.9,97 1631.5,100 1632.1,100 1632.7,99.4 1633.3,98.9 1633.9,99.6 1634.5,99.4 1635.1,99 1635.7,99.4 1636.3,98.5 1636.9,97.6 1637.5,97.9 1638.1,98.8 1638.7,97.9 1639.3,97.1 1639.9,97.6 1640.5,97.7 1641.1,97.9 1641.7,97.4 1642.3,96.8 1642.9,96.4 1643.5,96.8 1644.1,96.9 1644.7,95.2 1645.3,95.3 1645.9,95.9 1646.5,96.5 1647.1,96.5 1647.7,95.8 1648.3,96.1 1648.9,96.7 1649.5,96.5 1650.1,96.3 1650.7,96.5 1651.3,96.1 1651.9,96 1652.5,96.1 1653.1,95.8 1653.7,96.2 1654.3,96 1654.9,96 1655.5,96.9 1656.1,96.5 1656.7,95.9 1657.3,95.8 1657.9,96.3 1658.5,96.7 1659.1,96.6 1659.7,96.7 1660.3,96.4 1660.9,96.2 1661.5,95.8 1662.1,96.1 1662.7,96.7 1663.3,96.3 1663.9,96.7 1664.5,97.1 1665.1,95.7 1665.7,95.5 1666.3,96 1666.9,96.3" fill="none" stroke="#0072BD" stroke-width="1.4" stroke-linejoin="round" />
<line x1="1208.9" y1="40.8" x2="1667.6" y2="40.8" stroke="#1a1a1a" stroke-width="1.3"/>
<line x1="1208.9" y1="153.5" x2="1667.6" y2="153.5" stroke="#1a1a1a" stroke-width="1.3"/>
<line x1="1209.5" y1="40.8" x2="1209.5" y2="153.5" stroke="#1668a6" stroke-width="1.3"/>
<line x1="1667" y1="40.8" x2="1667" y2="153.5" stroke="#6e6e6e" stroke-width="1.3"/>
<text x="1209.5" y="176.1" font-size="20" text-anchor="middle" fill="#111" stroke="#111" stroke-width="0.35" font-family='"Liberation Sans", sans-serif' >0</text>
<line x1="1285.8" y1="153.5" x2="1285.8" y2="149" stroke="#1a1a1a" stroke-width="1.2"/>
<line x1="1285.8" y1="40.8" x2="1285.8" y2="45.3" stroke="#1a1a1a" stroke-width="1.2"/>
<text x="1285.8" y="176.1" font-size="20" text-anchor="middle" fill="#111" stroke="#111" stroke-width="0.35" font-family='"Liberation Sans", sans-serif' >1000</text>
<line x1="1362" y1="153.5" x2="1362" y2="149" stroke="#1a1a1a" stroke-width="1.2"/>
<line x1="1362" y1="40.8" x2="1362" y2="45.3" stroke="#1a1a1a" stroke-width="1.2"/>
<text x="1362" y="176.1" font-size="20" text-anchor="middle" fill="#111" stroke="#111" stroke-width="0.35" font-family='"Liberation Sans", sans-serif' >2000</text>
<line x1="1438.2" y1="153.5" x2="1438.2" y2="149" stroke="#1a1a1a" stroke-width="1.2"/>
<line x1="1438.2" y1="40.8" x2="1438.2" y2="45.3" stroke="#1a1a1a" stroke-width="1.2"/>
<text x="1438.2" y="176.1" font-size="20" text-anchor="middle" fill="#111" stroke="#111" stroke-width="0.35" font-family='"Liberation Sans", sans-serif' >3000</text>
<line x1="1514.5" y1="153.5" x2="1514.5" y2="149" stroke="#1a1a1a" stroke-width="1.2"/>
<line x1="1514.5" y1="40.8" x2="1514.5" y2="45.3" stroke="#1a1a1a" stroke-width="1.2"/>
<text x="1514.5" y="176.1" font-size="20" text-anchor="middle" fill="#111" stroke="#111" stroke-width="0.35" font-family='"Liberation Sans", sans-serif' >4000</text>
<line x1="1590.8" y1="153.5" x2="1590.8" y2="149" stroke="#1a1a1a" stroke-width="1.2"/>
<line x1="1590.8" y1="40.8" x2="1590.8" y2="45.3" stroke="#1a1a1a" stroke-width="1.2"/>
<text x="1590.8" y="176.1" font-size="20" text-anchor="middle" fill="#111" stroke="#111" stroke-width="0.35" font-family='"Liberation Sans", sans-serif' >5000</text>
<text x="1667" y="176.1" font-size="20" text-anchor="middle" fill="#111" stroke="#111" stroke-width="0.35" font-family='"Liberation Sans", sans-serif' >6000</text>
<text x="1205.9" y="45.8" font-size="20" text-anchor="end" fill="#1668a6" stroke="#1668a6" stroke-width="0.35" font-family='"Liberation Sans", sans-serif' >140</text>
<line x1="1209.5" y1="69" x2="1214" y2="69" stroke="#1668a6" stroke-width="1.2"/>
<text x="1205.9" y="74" font-size="20" text-anchor="end" fill="#1668a6" stroke="#1668a6" stroke-width="0.35" font-family='"Liberation Sans", sans-serif' >90</text>
<line x1="1209.5" y1="97.2" x2="1214" y2="97.2" stroke="#1668a6" stroke-width="1.2"/>
<text x="1205.9" y="102.2" font-size="20" text-anchor="end" fill="#1668a6" stroke="#1668a6" stroke-width="0.35" font-family='"Liberation Sans", sans-serif' >40</text>
<line x1="1209.5" y1="125.3" x2="1214" y2="125.3" stroke="#1668a6" stroke-width="1.2"/>
<text x="1205.9" y="130.3" font-size="20" text-anchor="end" fill="#1668a6" stroke="#1668a6" stroke-width="0.35" font-family='"Liberation Sans", sans-serif' >-10</text>
<text x="1205.9" y="158.5" font-size="20" text-anchor="end" fill="#1668a6" stroke="#1668a6" stroke-width="0.35" font-family='"Liberation Sans", sans-serif' >-60</text>
<text x="1672.8" y="47.6" font-size="20.5" text-anchor="start" fill="#4f4f4f" stroke="#4f4f4f" stroke-width="0.35" font-family='"Liberation Sans", sans-serif' >600</text>
<line x1="1667" y1="69" x2="1662.5" y2="69" stroke="#4f4f4f" stroke-width="1.2"/>
<text x="1672.8" y="75.8" font-size="20.5" text-anchor="start" fill="#4f4f4f" stroke="#4f4f4f" stroke-width="0.35" font-family='"Liberation Sans", sans-serif' >450</text>
<line x1="1667" y1="97.2" x2="1662.5" y2="97.2" stroke="#4f4f4f" stroke-width="1.2"/>
<text x="1672.8" y="104" font-size="20.5" text-anchor="start" fill="#4f4f4f" stroke="#4f4f4f" stroke-width="0.35" font-family='"Liberation Sans", sans-serif' >300</text>
<line x1="1667" y1="125.3" x2="1662.5" y2="125.3" stroke="#4f4f4f" stroke-width="1.2"/>
<text x="1672.8" y="132.1" font-size="20.5" text-anchor="start" fill="#4f4f4f" stroke="#4f4f4f" stroke-width="0.35" font-family='"Liberation Sans", sans-serif' >150</text>
<text x="1672.8" y="160.3" font-size="20.5" text-anchor="start" fill="#4f4f4f" stroke="#4f4f4f" stroke-width="0.35" font-family='"Liberation Sans", sans-serif' >0</text>
<path d="M112.3,317.9 L112.3,299.9 L114.3,299 L116.3,298.3 L118.3,297.9 L120.3,298.6 L122.3,301.9 L124.3,305.1 L126.3,307.8 L128.3,305.8 L130.3,304 L132.3,302.3 L134.3,300.9 L136.3,299.8 L138.3,298.9 L140.3,298.2 L142.3,297.9 L144.3,299.5 L146.3,302.2 L148.3,304.9 L150.3,307.7 L152.3,308.2 L154.3,306.3 L156.3,304.5 L158.3,303 L160.3,301.6 L162.3,300.6 L164.3,299.7 L166.3,299.2 L168.3,299 L170.3,302.2 L172.3,305.7 L174.3,308 L176.3,305.9 L178.3,304 L180.3,302.3 L182.3,300.9 L184.3,299.7 L186.3,298.8 L188.3,298.2 L190.3,297.8 L192.3,299.8 L194.3,302.6 L196.3,305.4 L198.3,308.1 L200.3,306.7 L202.3,305 L204.3,303.4 L206.3,302 L208.3,300.7 L210.3,299.7 L212.3,298.8 L214.3,298.1 L216.3,297.7 L218.3,297.4 L220.3,300.1 L222.3,303.2 L224.3,306.3 L226.3,306.7 L228.3,305 L230.3,303.5 L232.3,302.2 L234.3,301.1 L236.3,300.1 L238.3,299.4 L240.3,298.9 L242.3,298.6 L244.3,300.9 L246.3,304.3 L248.3,307.7 L250.3,310.8 L252.3,308.9 L254.3,307.2 L256.3,305.6 L258.3,304.1 L260.3,302.8 L262.3,301.7 L264.3,300.7 L266.3,299.9 L268.3,299.3 L270.3,298.8 L272.3,298.6 L274.3,300.5 L276.3,303.4 L278.3,306.2 L280.3,309 L282.3,307.1 L284.3,305.4 L286.3,303.8 L288.3,302.5 L290.3,301.3 L292.3,300.3 L294.3,299.5 L296.3,298.9 L298.3,298.6 L300.3,299.7 L302.3,301.9 L304.3,304.2 L306.3,306.4 L308.3,306.7 L310.3,304.8 L312.3,303.2 L314.3,301.8 L316.3,300.9 L318.3,300.3 L320.3,300.8 L322.3,303.9 L324.3,306.9 L326.3,308.3 L328.3,306.3 L330.3,304.4 L332.3,302.8 L334.3,301.4 L336.3,300.2 L338.3,299.3 L340.3,298.6 L342.3,298.2 L344.3,300 L346.3,303.4 L348.3,306.7 L350.3,306.8 L352.3,304.8 L354.3,303.1 L356.3,301.6 L358.3,300.3 L360.3,299.2 L362.3,298.5 L364.3,298 L366.3,298.6 L368.3,302.5 L370.3,306.5 L372.3,306.6 L374.3,304.4 L376.3,302.6 L378.3,301.1 L380.3,300 L382.3,299.2 L384.3,299.1 L386.3,302.2 L388.3,305.3 L390.3,308.4 L392.3,307.6 L394.3,305.8 L396.3,304.3 L398.3,303.1 L400.3,302.3 L402.3,302 L404.3,304.7 L406.3,307.7 L408.3,307.4 L410.3,305.5 L412.3,303.8 L414.3,302.3 L416.3,301 L418.3,300.1 L420.3,299.4 L422.3,299 L424.3,301.2 L426.3,304.9 L428.3,308.3 L430.3,306.2 L432.3,304.4 L434.3,302.8 L436.3,301.4 L438.3,300.2 L440.3,299.4 L442.3,298.8 L444.3,298.6 L446.3,302 L448.3,305.5 L450.3,308.7 L452.3,306.3 L454.3,304.2 L456.3,302.4 L458.3,300.9 L460.3,299.7 L462.3,298.8 L464.3,298.3 L466.3,299.5 L468.3,302.6 L470.3,305.8 L472.3,308.7 L474.3,306.1 L476.3,303.8 L478.3,301.9 L480.3,300.4 L482.3,299.2 L484.3,298.5 L486.3,298.6 L488.3,302.2 L490.3,305.9 L492.3,308.3 L494.3,306 L496.3,304 L498.3,302.2 L500.3,300.8 L502.3,299.6 L504.3,298.8 L506.3,298.3 L508.3,299.7 L510.3,302.8 L512.3,305.9 L514.3,308 L516.3,305.8 L518.3,303.9 L520.3,302.3 L522.3,301 L524.3,300 L526.3,299.3 L528.3,299 L530.3,301.8 L532.3,305 L534.3,308.1 L536.3,306.5 L538.3,304.6 L540.3,303 L542.3,301.5 L544.3,300.3 L546.3,299.3 L548.3,298.7 L550.3,298.3 L552.3,300.1 L554.3,304 L556.3,307.8 L558.3,307.7 L560.3,305.2 L562.3,303.3 L564.3,301.9 L566,301 L566,317.9 Z" fill="#ab6c3e" stroke="none"/>
<path d="M112.3,299.9 L114.3,299 L116.3,298.3 L118.3,297.9 L120.3,298.6 L122.3,301.9 L124.3,305.1 L126.3,307.8 L128.3,305.8 L130.3,304 L132.3,302.3 L134.3,300.9 L136.3,299.8 L138.3,298.9 L140.3,298.2 L142.3,297.9 L144.3,299.5 L146.3,302.2 L148.3,304.9 L150.3,307.7 L152.3,308.2 L154.3,306.3 L156.3,304.5 L158.3,303 L160.3,301.6 L162.3,300.6 L164.3,299.7 L166.3,299.2 L168.3,299 L170.3,302.2 L172.3,305.7 L174.3,308 L176.3,305.9 L178.3,304 L180.3,302.3 L182.3,300.9 L184.3,299.7 L186.3,298.8 L188.3,298.2 L190.3,297.8 L192.3,299.8 L194.3,302.6 L196.3,305.4 L198.3,308.1 L200.3,306.7 L202.3,305 L204.3,303.4 L206.3,302 L208.3,300.7 L210.3,299.7 L212.3,298.8 L214.3,298.1 L216.3,297.7 L218.3,297.4 L220.3,300.1 L222.3,303.2 L224.3,306.3 L226.3,306.7 L228.3,305 L230.3,303.5 L232.3,302.2 L234.3,301.1 L236.3,300.1 L238.3,299.4 L240.3,298.9 L242.3,298.6 L244.3,300.9 L246.3,304.3 L248.3,307.7 L250.3,310.8 L252.3,308.9 L254.3,307.2 L256.3,305.6 L258.3,304.1 L260.3,302.8 L262.3,301.7 L264.3,300.7 L266.3,299.9 L268.3,299.3 L270.3,298.8 L272.3,298.6 L274.3,300.5 L276.3,303.4 L278.3,306.2 L280.3,309 L282.3,307.1 L284.3,305.4 L286.3,303.8 L288.3,302.5 L290.3,301.3 L292.3,300.3 L294.3,299.5 L296.3,298.9 L298.3,298.6 L300.3,299.7 L302.3,301.9 L304.3,304.2 L306.3,306.4 L308.3,306.7 L310.3,304.8 L312.3,303.2 L314.3,301.8 L316.3,300.9 L318.3,300.3 L320.3,300.8 L322.3,303.9 L324.3,306.9 L326.3,308.3 L328.3,306.3 L330.3,304.4 L332.3,302.8 L334.3,301.4 L336.3,300.2 L338.3,299.3 L340.3,298.6 L342.3,298.2 L344.3,300 L346.3,303.4 L348.3,306.7 L350.3,306.8 L352.3,304.8 L354.3,303.1 L356.3,301.6 L358.3,300.3 L360.3,299.2 L362.3,298.5 L364.3,298 L366.3,298.6 L368.3,302.5 L370.3,306.5 L372.3,306.6 L374.3,304.4 L376.3,302.6 L378.3,301.1 L380.3,300 L382.3,299.2 L384.3,299.1 L386.3,302.2 L388.3,305.3 L390.3,308.4 L392.3,307.6 L394.3,305.8 L396.3,304.3 L398.3,303.1 L400.3,302.3 L402.3,302 L404.3,304.7 L406.3,307.7 L408.3,307.4 L410.3,305.5 L412.3,303.8 L414.3,302.3 L416.3,301 L418.3,300.1 L420.3,299.4 L422.3,299 L424.3,301.2 L426.3,304.9 L428.3,308.3 L430.3,306.2 L432.3,304.4 L434.3,302.8 L436.3,301.4 L438.3,300.2 L440.3,299.4 L442.3,298.8 L444.3,298.6 L446.3,302 L448.3,305.5 L450.3,308.7 L452.3,306.3 L454.3,304.2 L456.3,302.4 L458.3,300.9 L460.3,299.7 L462.3,298.8 L464.3,298.3 L466.3,299.5 L468.3,302.6 L470.3,305.8 L472.3,308.7 L474.3,306.1 L476.3,303.8 L478.3,301.9 L480.3,300.4 L482.3,299.2 L484.3,298.5 L486.3,298.6 L488.3,302.2 L490.3,305.9 L492.3,308.3 L494.3,306 L496.3,304 L498.3,302.2 L500.3,300.8 L502.3,299.6 L504.3,298.8 L506.3,298.3 L508.3,299.7 L510.3,302.8 L512.3,305.9 L514.3,308 L516.3,305.8 L518.3,303.9 L520.3,302.3 L522.3,301 L524.3,300 L526.3,299.3 L528.3,299 L530.3,301.8 L532.3,305 L534.3,308.1 L536.3,306.5 L538.3,304.6 L540.3,303 L542.3,301.5 L544.3,300.3 L546.3,299.3 L548.3,298.7 L550.3,298.3 L552.3,300.1 L554.3,304 L556.3,307.8 L558.3,307.7 L560.3,305.2 L562.3,303.3 L564.3,301.9 L566,301" fill="none" stroke="#2b1a0e" stroke-width="1.1" stroke-linejoin="round"/>
<polyline points="145,267.4 169.1,270.5 193,258.3 218.8,264.9 241,253.5 272,261 298.1,246.3 321.4,260.2 344.2,252.7 365.5,250.2 386.3,269.9 404.1,280.5 423.8,264.9 445.4,251.3 466.8,250.5 488.7,263 508.4,257.7 529.8,263.8 553.1,264.9" fill="none" stroke="#0a64a4" stroke-width="1.3" stroke-linejoin="round" />
<circle cx="145" cy="267.4" r="5.9" fill="#0072BD" stroke="#0b5f9c" stroke-width="0.6"/>
<circle cx="169.1" cy="270.5" r="5.9" fill="#0072BD" stroke="#0b5f9c" stroke-width="0.6"/>
<circle cx="193" cy="258.3" r="5.9" fill="#0072BD" stroke="#0b5f9c" stroke-width="0.6"/>
<circle cx="218.8" cy="264.9" r="5.9" fill="#0072BD" stroke="#0b5f9c" stroke-width="0.6"/>
<circle cx="241" cy="253.5" r="5.9" fill="#0072BD" stroke="#0b5f9c" stroke-width="0.6"/>
<circle cx="272" cy="261" r="5.9" fill="#0072BD" stroke="#0b5f9c" stroke-width="0.6"/>
<circle cx="298.1" cy="246.3" r="5.9" fill="#0072BD" stroke="#0b5f9c" stroke-width="0.6"/>
<circle cx="321.4" cy="260.2" r="5.9" fill="#0072BD" stroke="#0b5f9c" stroke-width="0.6"/>
<circle cx="344.2" cy="252.7" r="5.9" fill="#0072BD" stroke="#0b5f9c" stroke-width="0.6"/>
<circle cx="365.5" cy="250.2" r="5.9" fill="#0072BD" stroke="#0b5f9c" stroke-width="0.6"/>
<circle cx="386.3" cy="269.9" r="5.9" fill="#0072BD" stroke="#0b5f9c" stroke-width="0.6"/>
<circle cx="404.1" cy="280.5" r="5.9" fill="#0072BD" stroke="#0b5f9c" stroke-width="0.6"/>
<circle cx="423.8" cy="264.9" r="5.9" fill="#0072BD" stroke="#0b5f9c" stroke-width="0.6"/>
<circle cx="445.4" cy="251.3" r="5.9" fill="#0072BD" stroke="#0b5f9c" stroke-width="0.6"/>
<circle cx="466.8" cy="250.5" r="5.9" fill="#0072BD" stroke="#0b5f9c" stroke-width="0.6"/>
<circle cx="488.7" cy="263" r="5.9" fill="#0072BD" stroke="#0b5f9c" stroke-width="0.6"/>
<circle cx="508.4" cy="257.7" r="5.9" fill="#0072BD" stroke="#0b5f9c" stroke-width="0.6"/>
<circle cx="529.8" cy="263.8" r="5.9" fill="#0072BD" stroke="#0b5f9c" stroke-width="0.6"/>
<circle cx="553.1" cy="264.9" r="5.9" fill="#0072BD" stroke="#0b5f9c" stroke-width="0.6"/>
<line x1="110.2" y1="204.2" x2="566.6" y2="204.2" stroke="#1a1a1a" stroke-width="1.3"/>
<line x1="110.2" y1="317.9" x2="566.6" y2="317.9" stroke="#1a1a1a" stroke-width="1.3"/>
<line x1="110.8" y1="204.2" x2="110.8" y2="317.9" stroke="#1668a6" stroke-width="1.3"/>
<line x1="566" y1="204.2" x2="566" y2="317.9" stroke="#a0714b" stroke-width="1.3"/>
<text x="110.8" y="341.5" font-size="20" text-anchor="middle" fill="#111" stroke="#111" stroke-width="0.35" font-family='"Liberation Sans", sans-serif' >0</text>
<line x1="186.7" y1="317.9" x2="186.7" y2="313.4" stroke="#1a1a1a" stroke-width="1.2"/>
<line x1="186.7" y1="204.2" x2="186.7" y2="208.7" stroke="#1a1a1a" stroke-width="1.2"/>
<text x="186.7" y="341.5" font-size="20" text-anchor="middle" fill="#111" stroke="#111" stroke-width="0.35" font-family='"Liberation Sans", sans-serif' >1000</text>
<line x1="262.5" y1="317.9" x2="262.5" y2="313.4" stroke="#1a1a1a" stroke-width="1.2"/>
<line x1="262.5" y1="204.2" x2="262.5" y2="208.7" stroke="#1a1a1a" stroke-width="1.2"/>
<text x="262.5" y="341.5" font-size="20" text-anchor="middle" fill="#111" stroke="#111" stroke-width="0.35" font-family='"Liberation Sans", sans-serif' >2000</text>
<line x1="338.4" y1="317.9" x2="338.4" y2="313.4" stroke="#1a1a1a" stroke-width="1.2"/>
<line x1="338.4" y1="204.2" x2="338.4" y2="208.7" stroke="#1a1a1a" stroke-width="1.2"/>
<text x="338.4" y="341.5" font-size="20" text-anchor="middle" fill="#111" stroke="#111" stroke-width="0.35" font-family='"Liberation Sans", sans-serif' >3000</text>
<line x1="414.3" y1="317.9" x2="414.3" y2="313.4" stroke="#1a1a1a" stroke-width="1.2"/>
<line x1="414.3" y1="204.2" x2="414.3" y2="208.7" stroke="#1a1a1a" stroke-width="1.2"/>
<text x="414.3" y="341.5" font-size="20" text-anchor="middle" fill="#111" stroke="#111" stroke-width="0.35" font-family='"Liberation Sans", sans-serif' >4000</text>
<line x1="490.1" y1="317.9" x2="490.1" y2="313.4" stroke="#1a1a1a" stroke-width="1.2"/>
<line x1="490.1" y1="204.2" x2="490.1" y2="208.7" stroke="#1a1a1a" stroke-width="1.2"/>
<text x="490.1" y="341.5" font-size="20" text-anchor="middle" fill="#111" stroke="#111" stroke-width="0.35" font-family='"Liberation Sans", sans-serif' >5000</text>
<text x="566" y="341.5" font-size="20" text-anchor="middle" fill="#111" stroke="#111" stroke-width="0.35" font-family='"Liberation Sans", sans-serif' >6000</text>
<text x="107.2" y="209.2" font-size="20" text-anchor="end" fill="#1668a6" stroke="#1668a6" stroke-width="0.35" font-family='"Liberation Sans", sans-serif' >0.32</text>
<line x1="110.8" y1="261.1" x2="115.3" y2="261.1" stroke="#1668a6" stroke-width="1.2"/>
<text x="107.2" y="266.1" font-size="20" text-anchor="end" fill="#1668a6" stroke="#1668a6" stroke-width="0.35" font-family='"Liberation Sans", sans-serif' >0.24</text>
<text x="107.2" y="322.9" font-size="20" text-anchor="end" fill="#1668a6" stroke="#1668a6" stroke-width="0.35" font-family='"Liberation Sans", sans-serif' >0.16</text>
<text x="571.8" y="211" font-size="20.5" text-anchor="start" fill="#a0714b" stroke="#a0714b" stroke-width="0.35" font-family='"Liberation Sans", sans-serif' >600</text>
<line x1="566" y1="261" x2="561.5" y2="261" stroke="#a0714b" stroke-width="1.2"/>
<text x="571.8" y="267.8" font-size="20.5" text-anchor="start" fill="#a0714b" stroke="#a0714b" stroke-width="0.35" font-family='"Liberation Sans", sans-serif' >300</text>
<text x="571.8" y="324.7" font-size="20.5" text-anchor="start" fill="#a0714b" stroke="#a0714b" stroke-width="0.35" font-family='"Liberation Sans", sans-serif' >0</text>
<path d="M661.5,317.9 L661.5,317.5 L663.5,315.2 L665.5,313 L667.5,311 L669.5,309.1 L671.5,307.3 L673.5,305.6 L675.5,304.1 L677.5,302.7 L679.5,301.5 L681.5,300.4 L683.5,299.5 L685.5,298.8 L687.5,298.2 L689.5,297.8 L691.5,297.6 L693.5,300.5 L695.5,303.8 L697.5,302.8 L699.5,301 L701.5,299.3 L703.5,297.7 L705.5,296.2 L707.5,295 L709.5,293.9 L711.5,292.9 L713.5,292.1 L715.5,291.5 L717.5,291.1 L719.5,291 L721.5,294.7 L723.5,298.4 L725.5,302 L727.5,303 L729.5,301.7 L731.5,300.6 L733.5,299.6 L735.5,298.8 L737.5,298.1 L739.5,297.5 L741.5,297.1 L743.5,296.9 L745.5,298.6 L747.5,302 L749.5,305.3 L751.5,308.7 L753.5,312.1 L755.5,315.5 L757.5,317.9 L759.5,317.9 L761.5,317.9 L763.5,316.8 L765.5,314.7 L767.5,312.7 L769.5,310.8 L771.5,309 L773.5,307.2 L775.5,305.5 L777.5,303.9 L779.5,302.4 L781.5,301 L783.5,299.7 L785.5,298.5 L787.5,297.4 L789.5,296.3 L791.5,295.4 L793.5,294.5 L795.5,293.8 L797.5,293.2 L799.5,292.7 L801.5,292.3 L803.5,292 L805.5,291.9 L807.5,295.2 L809.5,298.5 L811.5,301.8 L813.5,305 L815.5,308.3 L817.5,311.6 L819.5,314.7 L821.5,314.3 L823.5,313.9 L825.5,313.5 L827.5,312.2 L829.5,310.4 L831.5,308.7 L833.5,307.1 L835.5,305.6 L837.5,304.2 L839.5,302.9 L841.5,301.8 L843.5,300.8 L845.5,299.9 L847.5,299.2 L849.5,298.5 L851.5,298.1 L853.5,297.7 L855.5,297.6 L857.5,301.1 L859.5,304.7 L861.5,308.2 L863.5,311.7 L865.5,315.2 L867.5,315.9 L869.5,313.8 L871.5,311.9 L873.5,310.1 L875.5,308.4 L877.5,306.9 L879.5,305.5 L881.5,304.3 L883.5,303.2 L885.5,302.2 L887.5,301.4 L889.5,300.8 L891.5,300.4 L893.5,300.1 L895.5,302.3 L897.5,306 L899.5,309.7 L901.5,313.4 L903.5,314.4 L905.5,312.2 L907.5,310.2 L909.5,308.3 L911.5,306.6 L913.5,305 L915.5,303.7 L917.5,302.4 L919.5,301.4 L921.5,300.6 L923.5,299.9 L925.5,299.5 L927.5,299.3 L929.5,302.2 L931.5,305.1 L933.5,307.9 L935.5,310.8 L937.5,313.1 L939.5,310.9 L941.5,308.9 L943.5,307 L945.5,305.3 L947.5,303.8 L949.5,302.5 L951.5,301.4 L953.5,300.5 L955.5,299.8 L957.5,299.3 L959.5,299.1 L961.5,302.1 L963.5,305 L965.5,307.9 L967.5,310.9 L969.5,313 L971.5,310.6 L973.5,308.5 L975.5,306.6 L977.5,304.8 L979.5,303.3 L981.5,302 L983.5,300.9 L985.5,300 L987.5,299.5 L989.5,299.2 L991.5,300.6 L993.5,302.5 L995.5,304.5 L997.5,306.4 L999.5,308.4 L1001.5,309.5 L1003.5,307.5 L1005.5,305.7 L1007.5,304 L1009.5,302.4 L1011.5,301.1 L1013.5,299.9 L1015.5,298.9 L1017.5,298 L1019.5,297.4 L1021.5,297 L1023.5,297.2 L1025.5,300.3 L1027.5,303.4 L1029.5,306.6 L1031.5,306.3 L1033.5,304.4 L1035.5,302.6 L1037.5,300.9 L1039.5,299.3 L1041.5,297.9 L1043.5,296.6 L1045.5,295.5 L1047.5,294.5 L1049.5,293.7 L1051.5,293.1 L1053.5,292.6 L1055.5,292.4 L1057.5,292.3 L1059.5,290.3 L1061.5,288.5 L1063.5,286.8 L1065.5,285.4 L1067.5,284.2 L1069.5,283.2 L1071.5,282.4 L1073.5,281.8 L1075.5,281.5 L1077.5,282.2 L1079.5,283.2 L1081.5,284.2 L1083.5,285.8 L1085.5,289.5 L1087.5,293.2 L1089.5,296.8 L1091.5,300.5 L1093.5,304.2 L1095.5,307.8 L1097.5,311.5 L1099.5,315.2 L1101.5,317.9 L1103.5,317.9 L1105.5,317.9 L1107.5,317.9 L1109.5,317.9 L1111.5,317.9 L1113.5,317.9 L1115.5,317.9 L1116.2,317.9 L1116.2,317.9 Z" fill="#ab6c3e" stroke="none"/>
<path d="M661.5,317.5 L663.5,315.2 L665.5,313 L667.5,311 L669.5,309.1 L671.5,307.3 L673.5,305.6 L675.5,304.1 L677.5,302.7 L679.5,301.5 L681.5,300.4 L683.5,299.5 L685.5,298.8 L687.5,298.2 L689.5,297.8 L691.5,297.6 L693.5,300.5 L695.5,303.8 L697.5,302.8 L699.5,301 L701.5,299.3 L703.5,297.7 L705.5,296.2 L707.5,295 L709.5,293.9 L711.5,292.9 L713.5,292.1 L715.5,291.5 L717.5,291.1 L719.5,291 L721.5,294.7 L723.5,298.4 L725.5,302 L727.5,303 L729.5,301.7 L731.5,300.6 L733.5,299.6 L735.5,298.8 L737.5,298.1 L739.5,297.5 L741.5,297.1 L743.5,296.9 L745.5,298.6 L747.5,302 L749.5,305.3 L751.5,308.7 L753.5,312.1 L755.5,315.5 L757.5,317.9 L759.5,317.9 L761.5,317.9 L763.5,316.8 L765.5,314.7 L767.5,312.7 L769.5,310.8 L771.5,309 L773.5,307.2 L775.5,305.5 L777.5,303.9 L779.5,302.4 L781.5,301 L783.5,299.7 L785.5,298.5 L787.5,297.4 L789.5,296.3 L791.5,295.4 L793.5,294.5 L795.5,293.8 L797.5,293.2 L799.5,292.7 L801.5,292.3 L803.5,292 L805.5,291.9 L807.5,295.2 L809.5,298.5 L811.5,301.8 L813.5,305 L815.5,308.3 L817.5,311.6 L819.5,314.7 L821.5,314.3 L823.5,313.9 L825.5,313.5 L827.5,312.2 L829.5,310.4 L831.5,308.7 L833.5,307.1 L835.5,305.6 L837.5,304.2 L839.5,302.9 L841.5,301.8 L843.5,300.8 L845.5,299.9 L847.5,299.2 L849.5,298.5 L851.5,298.1 L853.5,297.7 L855.5,297.6 L857.5,301.1 L859.5,304.7 L861.5,308.2 L863.5,311.7 L865.5,315.2 L867.5,315.9 L869.5,313.8 L871.5,311.9 L873.5,310.1 L875.5,308.4 L877.5,306.9 L879.5,305.5 L881.5,304.3 L883.5,303.2 L885.5,302.2 L887.5,301.4 L889.5,300.8 L891.5,300.4 L893.5,300.1 L895.5,302.3 L897.5,306 L899.5,309.7 L901.5,313.4 L903.5,314.4 L905.5,312.2 L907.5,310.2 L909.5,308.3 L911.5,306.6 L913.5,305 L915.5,303.7 L917.5,302.4 L919.5,301.4 L921.5,300.6 L923.5,299.9 L925.5,299.5 L927.5,299.3 L929.5,302.2 L931.5,305.1 L933.5,307.9 L935.5,310.8 L937.5,313.1 L939.5,310.9 L941.5,308.9 L943.5,307 L945.5,305.3 L947.5,303.8 L949.5,302.5 L951.5,301.4 L953.5,300.5 L955.5,299.8 L957.5,299.3 L959.5,299.1 L961.5,302.1 L963.5,305 L965.5,307.9 L967.5,310.9 L969.5,313 L971.5,310.6 L973.5,308.5 L975.5,306.6 L977.5,304.8 L979.5,303.3 L981.5,302 L983.5,300.9 L985.5,300 L987.5,299.5 L989.5,299.2 L991.5,300.6 L993.5,302.5 L995.5,304.5 L997.5,306.4 L999.5,308.4 L1001.5,309.5 L1003.5,307.5 L1005.5,305.7 L1007.5,304 L1009.5,302.4 L1011.5,301.1 L1013.5,299.9 L1015.5,298.9 L1017.5,298 L1019.5,297.4 L1021.5,297 L1023.5,297.2 L1025.5,300.3 L1027.5,303.4 L1029.5,306.6 L1031.5,306.3 L1033.5,304.4 L1035.5,302.6 L1037.5,300.9 L1039.5,299.3 L1041.5,297.9 L1043.5,296.6 L1045.5,295.5 L1047.5,294.5 L1049.5,293.7 L1051.5,293.1 L1053.5,292.6 L1055.5,292.4 L1057.5,292.3 L1059.5,290.3 L1061.5,288.5 L1063.5,286.8 L1065.5,285.4 L1067.5,284.2 L1069.5,283.2 L1071.5,282.4 L1073.5,281.8 L1075.5,281.5 L1077.5,282.2 L1079.5,283.2 L1081.5,284.2 L1083.5,285.8 L1085.5,289.5 L1087.5,293.2 L1089.5,296.8 L1091.5,300.5 L1093.5,304.2 L1095.5,307.8 L1097.5,311.5 L1099.5,315.2 L1101.5,317.9 L1103.5,317.9 L1105.5,317.9 L1107.5,317.9 L1109.5,317.9 L1111.5,317.9 L1113.5,317.9 L1115.5,317.9 L1116.2,317.9" fill="none" stroke="#2b1a0e" stroke-width="1.1" stroke-linejoin="round"/>
<path d="M1040.2,317.9 L1070.6,280 L1101,317.9 Z" fill="#808080" stroke="#000" stroke-width="1.5" stroke-linejoin="miter"/>
<polyline points="687.5,246.1 716.3,244.4 741,274.1 804,247.2 852,245.2 890.6,243.6 922.8,217.8 957.4,224.1 988.8,228.3 1020.7,245.8 1054,256.6" fill="none" stroke="#0a64a4" stroke-width="1.3" stroke-linejoin="round" />
<circle cx="687.5" cy="246.1" r="5.9" fill="#0072BD" stroke="#0b5f9c" stroke-width="0.6"/>
<circle cx="716.3" cy="244.4" r="5.9" fill="#0072BD" stroke="#0b5f9c" stroke-width="0.6"/>
<circle cx="741" cy="274.1" r="5.9" fill="#0072BD" stroke="#0b5f9c" stroke-width="0.6"/>
<circle cx="804" cy="247.2" r="5.9" fill="#0072BD" stroke="#0b5f9c" stroke-width="0.6"/>
<circle cx="852" cy="245.2" r="5.9" fill="#0072BD" stroke="#0b5f9c" stroke-width="0.6"/>
<circle cx="890.6" cy="243.6" r="5.9" fill="#0072BD" stroke="#0b5f9c" stroke-width="0.6"/>
<circle cx="922.8" cy="217.8" r="5.9" fill="#0072BD" stroke="#0b5f9c" stroke-width="0.6"/>
<circle cx="957.4" cy="224.1" r="5.9" fill="#0072BD" stroke="#0b5f9c" stroke-width="0.6"/>
<circle cx="988.8" cy="228.3" r="5.9" fill="#0072BD" stroke="#0b5f9c" stroke-width="0.6"/>
<circle cx="1020.7" cy="245.8" r="5.9" fill="#0072BD" stroke="#0b5f9c" stroke-width="0.6"/>
<circle cx="1054" cy="256.6" r="5.9" fill="#0072BD" stroke="#0b5f9c" stroke-width="0.6"/>
<line x1="659.4" y1="204.2" x2="1116.8" y2="204.2" stroke="#1a1a1a" stroke-width="1.3"/>
<line x1="659.4" y1="317.9" x2="1116.8" y2="317.9" stroke="#1a1a1a" stroke-width="1.3"/>
<line x1="660" y1="204.2" x2="660" y2="317.9" stroke="#1668a6" stroke-width="1.3"/>
<line x1="1116.2" y1="204.2" x2="1116.2" y2="317.9" stroke="#a0714b" stroke-width="1.3"/>
<text x="660" y="341.5" font-size="20" text-anchor="middle" fill="#111" stroke="#111" stroke-width="0.35" font-family='"Liberation Sans", sans-serif' >0</text>
<line x1="736" y1="317.9" x2="736" y2="313.4" stroke="#1a1a1a" stroke-width="1.2"/>
<line x1="736" y1="204.2" x2="736" y2="208.7" stroke="#1a1a1a" stroke-width="1.2"/>
<text x="736" y="341.5" font-size="20" text-anchor="middle" fill="#111" stroke="#111" stroke-width="0.35" font-family='"Liberation Sans", sans-serif' >1000</text>
<line x1="812.1" y1="317.9" x2="812.1" y2="313.4" stroke="#1a1a1a" stroke-width="1.2"/>
<line x1="812.1" y1="204.2" x2="812.1" y2="208.7" stroke="#1a1a1a" stroke-width="1.2"/>
<text x="812.1" y="341.5" font-size="20" text-anchor="middle" fill="#111" stroke="#111" stroke-width="0.35" font-family='"Liberation Sans", sans-serif' >2000</text>
<line x1="888.1" y1="317.9" x2="888.1" y2="313.4" stroke="#1a1a1a" stroke-width="1.2"/>
<line x1="888.1" y1="204.2" x2="888.1" y2="208.7" stroke="#1a1a1a" stroke-width="1.2"/>
<text x="888.1" y="341.5" font-size="20" text-anchor="middle" fill="#111" stroke="#111" stroke-width="0.35" font-family='"Liberation Sans", sans-serif' >3000</text>
<line x1="964.1" y1="317.9" x2="964.1" y2="313.4" stroke="#1a1a1a" stroke-width="1.2"/>
<line x1="964.1" y1="204.2" x2="964.1" y2="208.7" stroke="#1a1a1a" stroke-width="1.2"/>
<text x="964.1" y="341.5" font-size="20" text-anchor="middle" fill="#111" stroke="#111" stroke-width="0.35" font-family='"Liberation Sans", sans-serif' >4000</text>
<line x1="1040.2" y1="317.9" x2="1040.2" y2="313.4" stroke="#1a1a1a" stroke-width="1.2"/>
<line x1="1040.2" y1="204.2" x2="1040.2" y2="208.7" stroke="#1a1a1a" stroke-width="1.2"/>
<text x="1040.2" y="341.5" font-size="20" text-anchor="middle" fill="#111" stroke="#111" stroke-width="0.35" font-family='"Liberation Sans", sans-serif' >5000</text>
<text x="1116.2" y="341.5" font-size="20" text-anchor="middle" fill="#111" stroke="#111" stroke-width="0.35" font-family='"Liberation Sans", sans-serif' >6000</text>
<text x="656.4" y="209.2" font-size="20" text-anchor="end" fill="#1668a6" stroke="#1668a6" stroke-width="0.35" font-family='"Liberation Sans", sans-serif' >0.32</text>
<line x1="660" y1="261" x2="664.5" y2="261" stroke="#1668a6" stroke-width="1.2"/>
<text x="656.4" y="266" font-size="20" text-anchor="end" fill="#1668a6" stroke="#1668a6" stroke-width="0.35" font-family='"Liberation Sans", sans-serif' >0.22</text>
<text x="656.4" y="322.9" font-size="20" text-anchor="end" fill="#1668a6" stroke="#1668a6" stroke-width="0.35" font-family='"Liberation Sans", sans-serif' >0.12</text>
<text x="1122" y="211" font-size="20.5" text-anchor="start" fill="#a0714b" stroke="#a0714b" stroke-width="0.35" font-family='"Liberation Sans", sans-serif' >600</text>
<line x1="1116.2" y1="261" x2="1111.7" y2="261" stroke="#a0714b" stroke-width="1.2"/>
<text x="1122" y="267.8" font-size="20.5" text-anchor="start" fill="#a0714b" stroke="#a0714b" stroke-width="0.35" font-family='"Liberation Sans", sans-serif' >300</text>
<text x="1122" y="324.7" font-size="20.5" text-anchor="start" fill="#a0714b" stroke="#a0714b" stroke-width="0.35" font-family='"Liberation Sans", sans-serif' >0</text>
<path d="M1211,317.9 L1211,302.9 L1213,300.7 L1215,298.8 L1217,297.3 L1219,296.2 L1221,295.5 L1223,296 L1225,298 L1227,299.9 L1229,301.8 L1231,303.8 L1233,303.1 L1235,301.7 L1237,300.5 L1239,299.3 L1241,298.3 L1243,297.4 L1245,296.7 L1247,296 L1249,295.6 L1251,295.3 L1253,295.4 L1255,298.2 L1257,301 L1259,303.7 L1261,304.1 L1263,302.9 L1265,301.9 L1267,301.1 L1269,300.4 L1271,299.8 L1273,299.5 L1275,299.3 L1277,302.2 L1279,305 L1281,307.9 L1283,310.7 L1285,309.6 L1287,308 L1289,306.8 L1291,306.2 L1293,308 L1295,310.8 L1297,313.7 L1299,316.5 L1301,317.9 L1303,317.9 L1305,317.9 L1307,317.9 L1309,317.4 L1311,315.9 L1313,314.5 L1315,313.2 L1317,311.8 L1319,310.5 L1321,309.3 L1323,308.1 L1325,306.9 L1327,305.8 L1329,304.8 L1331,303.7 L1333,302.8 L1335,301.8 L1337,300.9 L1339,300.1 L1341,299.3 L1343,298.6 L1345,297.9 L1347,297.2 L1349,296.6 L1351,296.1 L1353,295.6 L1355,295.1 L1357,294.8 L1359,294.4 L1361,294.2 L1363,294 L1365,293.9 L1367,294.5 L1369,297.8 L1371,301.2 L1373,304.5 L1375,307.6 L1377,306.7 L1379,305.8 L1381,305 L1383,304.2 L1385,303.5 L1387,302.9 L1389,302.4 L1391,302 L1393,301.6 L1395,301.3 L1397,301.1 L1399,301 L1401,302.9 L1403,304.9 L1405,306.8 L1407,308.8 L1409,309.2 L1411,307.5 L1413,305.9 L1415,304.5 L1417,303.3 L1419,302.2 L1421,301.2 L1423,300.5 L1425,299.9 L1427,299.5 L1429,299.3 L1431,302 L1433,304.6 L1435,307.3 L1437,307.7 L1439,305.9 L1441,304.2 L1443,302.8 L1445,301.6 L1447,300.6 L1449,299.7 L1451,299.2 L1453,298.8 L1455,300.1 L1457,302.6 L1459,305.2 L1461,307.6 L1463,305.9 L1465,304.4 L1467,303 L1469,301.9 L1471,300.9 L1473,300.1 L1475,299.6 L1477,299.3 L1479,301.2 L1481,303.9 L1483,306.6 L1485,308.1 L1487,306.3 L1489,304.6 L1491,303.2 L1493,301.9 L1495,300.9 L1497,300.1 L1499,299.6 L1501,299.3 L1503,302.4 L1505,305.7 L1507,308.3 L1509,306 L1511,304.1 L1513,302.5 L1515,301.1 L1517,300.1 L1519,299.5 L1521,299.9 L1523,302.6 L1525,305.3 L1527,307.9 L1529,306.9 L1531,304.9 L1533,303.2 L1535,301.8 L1537,300.7 L1539,299.9 L1541,299.5 L1543,301.6 L1545,304.3 L1547,306.9 L1549,307.9 L1551,305.9 L1553,304.1 L1555,302.6 L1557,301.4 L1559,300.4 L1561,299.7 L1563,299.4 L1565,301.2 L1567,303.9 L1569,306.6 L1571,308.1 L1573,306.1 L1575,304.3 L1577,302.8 L1579,301.6 L1581,300.8 L1583,300.2 L1585,301 L1587,304 L1589,307.1 L1591,307.6 L1593,305.6 L1595,304 L1597,302.5 L1599,301.3 L1601,300.4 L1603,299.8 L1605,299.5 L1607,302.4 L1609,305.7 L1611,308.4 L1613,306.5 L1615,304.9 L1617,303.4 L1619,302.2 L1621,301.2 L1623,300.5 L1625,300.2 L1627,301.3 L1629,303.6 L1631,305.9 L1633,304.5 L1635,302.1 L1637,300.1 L1639,298.7 L1641,297.7 L1643,297.7 L1645,299.5 L1647,301.4 L1649,302.3 L1651,300.7 L1653,299.4 L1655,298.4 L1657,297.8 L1659,297.4 L1661,298.6 L1663,299.9 L1665,301.3 L1667,302.6 L1667,317.9 Z" fill="#ab6c3e" stroke="none"/>
<path d="M1211,302.9 L1213,300.7 L1215,298.8 L1217,297.3 L1219,296.2 L1221,295.5 L1223,296 L1225,298 L1227,299.9 L1229,301.8 L1231,303.8 L1233,303.1 L1235,301.7 L1237,300.5 L1239,299.3 L1241,298.3 L1243,297.4 L1245,296.7 L1247,296 L1249,295.6 L1251,295.3 L1253,295.4 L1255,298.2 L1257,301 L1259,303.7 L1261,304.1 L1263,302.9 L1265,301.9 L1267,301.1 L1269,300.4 L1271,299.8 L1273,299.5 L1275,299.3 L1277,302.2 L1279,305 L1281,307.9 L1283,310.7 L1285,309.6 L1287,308 L1289,306.8 L1291,306.2 L1293,308 L1295,310.8 L1297,313.7 L1299,316.5 L1301,317.9 L1303,317.9 L1305,317.9 L1307,317.9 L1309,317.4 L1311,315.9 L1313,314.5 L1315,313.2 L1317,311.8 L1319,310.5 L1321,309.3 L1323,308.1 L1325,306.9 L1327,305.8 L1329,304.8 L1331,303.7 L1333,302.8 L1335,301.8 L1337,300.9 L1339,300.1 L1341,299.3 L1343,298.6 L1345,297.9 L1347,297.2 L1349,296.6 L1351,296.1 L1353,295.6 L1355,295.1 L1357,294.8 L1359,294.4 L1361,294.2 L1363,294 L1365,293.9 L1367,294.5 L1369,297.8 L1371,301.2 L1373,304.5 L1375,307.6 L1377,306.7 L1379,305.8 L1381,305 L1383,304.2 L1385,303.5 L1387,302.9 L1389,302.4 L1391,302 L1393,301.6 L1395,301.3 L1397,301.1 L1399,301 L1401,302.9 L1403,304.9 L1405,306.8 L1407,308.8 L1409,309.2 L1411,307.5 L1413,305.9 L1415,304.5 L1417,303.3 L1419,302.2 L1421,301.2 L1423,300.5 L1425,299.9 L1427,299.5 L1429,299.3 L1431,302 L1433,304.6 L1435,307.3 L1437,307.7 L1439,305.9 L1441,304.2 L1443,302.8 L1445,301.6 L1447,300.6 L1449,299.7 L1451,299.2 L1453,298.8 L1455,300.1 L1457,302.6 L1459,305.2 L1461,307.6 L1463,305.9 L1465,304.4 L1467,303 L1469,301.9 L1471,300.9 L1473,300.1 L1475,299.6 L1477,299.3 L1479,301.2 L1481,303.9 L1483,306.6 L1485,308.1 L1487,306.3 L1489,304.6 L1491,303.2 L1493,301.9 L1495,300.9 L1497,300.1 L1499,299.6 L1501,299.3 L1503,302.4 L1505,305.7 L1507,308.3 L1509,306 L1511,304.1 L1513,302.5 L1515,301.1 L1517,300.1 L1519,299.5 L1521,299.9 L1523,302.6 L1525,305.3 L1527,307.9 L1529,306.9 L1531,304.9 L1533,303.2 L1535,301.8 L1537,300.7 L1539,299.9 L1541,299.5 L1543,301.6 L1545,304.3 L1547,306.9 L1549,307.9 L1551,305.9 L1553,304.1 L1555,302.6 L1557,301.4 L1559,300.4 L1561,299.7 L1563,299.4 L1565,301.2 L1567,303.9 L1569,306.6 L1571,308.1 L1573,306.1 L1575,304.3 L1577,302.8 L1579,301.6 L1581,300.8 L1583,300.2 L1585,301 L1587,304 L1589,307.1 L1591,307.6 L1593,305.6 L1595,304 L1597,302.5 L1599,301.3 L1601,300.4 L1603,299.8 L1605,299.5 L1607,302.4 L1609,305.7 L1611,308.4 L1613,306.5 L1615,304.9 L1617,303.4 L1619,302.2 L1621,301.2 L1623,300.5 L1625,300.2 L1627,301.3 L1629,303.6 L1631,305.9 L1633,304.5 L1635,302.1 L1637,300.1 L1639,298.7 L1641,297.7 L1643,297.7 L1645,299.5 L1647,301.4 L1649,302.3 L1651,300.7 L1653,299.4 L1655,298.4 L1657,297.8 L1659,297.4 L1661,298.6 L1663,299.9 L1665,301.3 L1667,302.6" fill="none" stroke="#2b1a0e" stroke-width="1.1" stroke-linejoin="round"/>
<path d="M1209.5,317.9 L1209.5,302.7 L1247.6,302.7 L1247.6,317.9" fill="#808080" stroke="#000" stroke-width="1.5"/>
<path d="M1628.9,317.9 L1628.9,302.7 L1667,302.7 L1667,317.9" fill="#808080" stroke="#000" stroke-width="1.5"/>
<polyline points="1251.9,247.2 1273,256.9 1291,249.9 1357.9,277.1 1397.8,299.9 1426.1,255.8 1451.1,251.9 1473,238 1497.2,246.6 1518.3,248.3 1536,228.9 1559.6,242.7 1580.7,236.6 1599.8,238.6 1620.1,241.6" fill="none" stroke="#0a64a4" stroke-width="1.3" stroke-linejoin="round" />
<circle cx="1251.9" cy="247.2" r="5.9" fill="#0072BD" stroke="#0b5f9c" stroke-width="0.6"/>
<circle cx="1273" cy="256.9" r="5.9" fill="#0072BD" stroke="#0b5f9c" stroke-width="0.6"/>
<circle cx="1291" cy="249.9" r="5.9" fill="#0072BD" stroke="#0b5f9c" stroke-width="0.6"/>
<circle cx="1357.9" cy="277.1" r="5.9" fill="#0072BD" stroke="#0b5f9c" stroke-width="0.6"/>
<circle cx="1397.8" cy="299.9" r="5.9" fill="#0072BD" stroke="#0b5f9c" stroke-width="0.6"/>
<circle cx="1426.1" cy="255.8" r="5.9" fill="#0072BD" stroke="#0b5f9c" stroke-width="0.6"/>
<circle cx="1451.1" cy="251.9" r="5.9" fill="#0072BD" stroke="#0b5f9c" stroke-width="0.6"/>
<circle cx="1473" cy="238" r="5.9" fill="#0072BD" stroke="#0b5f9c" stroke-width="0.6"/>
<circle cx="1497.2" cy="246.6" r="5.9" fill="#0072BD" stroke="#0b5f9c" stroke-width="0.6"/>
<circle cx="1518.3" cy="248.3" r="5.9" fill="#0072BD" stroke="#0b5f9c" stroke-width="0.6"/>
<circle cx="1536" cy="228.9" r="5.9" fill="#0072BD" stroke="#0b5f9c" stroke-width="0.6"/>
<circle cx="1559.6" cy="242.7" r="5.9" fill="#0072BD" stroke="#0b5f9c" stroke-width="0.6"/>
<circle cx="1580.7" cy="236.6" r="5.9" fill="#0072BD" stroke="#0b5f9c" stroke-width="0.6"/>
<circle cx="1599.8" cy="238.6" r="5.9" fill="#0072BD" stroke="#0b5f9c" stroke-width="0.6"/>
<circle cx="1620.1" cy="241.6" r="5.9" fill="#0072BD" stroke="#0b5f9c" stroke-width="0.6"/>
<line x1="1208.9" y1="204.2" x2="1667.6" y2="204.2" stroke="#1a1a1a" stroke-width="1.3"/>
<line x1="1208.9" y1="317.9" x2="1667.6" y2="317.9" stroke="#1a1a1a" stroke-width="1.3"/>
<line x1="1209.5" y1="204.2" x2="1209.5" y2="317.9" stroke="#1668a6" stroke-width="1.3"/>
<line x1="1667" y1="204.2" x2="1667" y2="317.9" stroke="#a0714b" stroke-width="1.3"/>
<text x="1209.5" y="341.5" font-size="20" text-anchor="middle" fill="#111" stroke="#111" stroke-width="0.35" font-family='"Liberation Sans", sans-serif' >0</text>
<line x1="1285.8" y1="317.9" x2="1285.8" y2="313.4" stroke="#1a1a1a" stroke-width="1.2"/>
<line x1="1285.8" y1="204.2" x2="1285.8" y2="208.7" stroke="#1a1a1a" stroke-width="1.2"/>
<text x="1285.8" y="341.5" font-size="20" text-anchor="middle" fill="#111" stroke="#111" stroke-width="0.35" font-family='"Liberation Sans", sans-serif' >1000</text>
<line x1="1362" y1="317.9" x2="1362" y2="313.4" stroke="#1a1a1a" stroke-width="1.2"/>
<line x1="1362" y1="204.2" x2="1362" y2="208.7" stroke="#1a1a1a" stroke-width="1.2"/>
<text x="1362" y="341.5" font-size="20" text-anchor="middle" fill="#111" stroke="#111" stroke-width="0.35" font-family='"Liberation Sans", sans-serif' >2000</text>
<line x1="1438.2" y1="317.9" x2="1438.2" y2="313.4" stroke="#1a1a1a" stroke-width="1.2"/>
<line x1="1438.2" y1="204.2" x2="1438.2" y2="208.7" stroke="#1a1a1a" stroke-width="1.2"/>
<text x="1438.2" y="341.5" font-size="20" text-anchor="middle" fill="#111" stroke="#111" stroke-width="0.35" font-family='"Liberation Sans", sans-serif' >3000</text>
<line x1="1514.5" y1="317.9" x2="1514.5" y2="313.4" stroke="#1a1a1a" stroke-width="1.2"/>
<line x1="1514.5" y1="204.2" x2="1514.5" y2="208.7" stroke="#1a1a1a" stroke-width="1.2"/>
<text x="1514.5" y="341.5" font-size="20" text-anchor="middle" fill="#111" stroke="#111" stroke-width="0.35" font-family='"Liberation Sans", sans-serif' >4000</text>
<line x1="1590.8" y1="317.9" x2="1590.8" y2="313.4" stroke="#1a1a1a" stroke-width="1.2"/>
<line x1="1590.8" y1="204.2" x2="1590.8" y2="208.7" stroke="#1a1a1a" stroke-width="1.2"/>
<text x="1590.8" y="341.5" font-size="20" text-anchor="middle" fill="#111" stroke="#111" stroke-width="0.35" font-family='"Liberation Sans", sans-serif' >5000</text>
<text x="1667" y="341.5" font-size="20" text-anchor="middle" fill="#111" stroke="#111" stroke-width="0.35" font-family='"Liberation Sans", sans-serif' >6000</text>
<text x="1205.9" y="209.2" font-size="20" text-anchor="end" fill="#1668a6" stroke="#1668a6" stroke-width="0.35" font-family='"Liberation Sans", sans-serif' >0.34</text>
<line x1="1209.5" y1="261.1" x2="1214" y2="261.1" stroke="#1668a6" stroke-width="1.2"/>
<text x="1205.9" y="266.1" font-size="20" text-anchor="end" fill="#1668a6" stroke="#1668a6" stroke-width="0.35" font-family='"Liberation Sans", sans-serif' >0.22</text>
<text x="1205.9" y="322.9" font-size="20" text-anchor="end" fill="#1668a6" stroke="#1668a6" stroke-width="0.35" font-family='"Liberation Sans", sans-serif' >0.10</text>
<text x="1672.8" y="211" font-size="20.5" text-anchor="start" fill="#a0714b" stroke="#a0714b" stroke-width="0.35" font-family='"Liberation Sans", sans-serif' >600</text>
<line x1="1667" y1="261" x2="1662.5" y2="261" stroke="#a0714b" stroke-width="1.2"/>
<text x="1672.8" y="267.8" font-size="20.5" text-anchor="start" fill="#a0714b" stroke="#a0714b" stroke-width="0.35" font-family='"Liberation Sans", sans-serif' >300</text>
<text x="1672.8" y="324.7" font-size="20.5" text-anchor="start" fill="#a0714b" stroke="#a0714b" stroke-width="0.35" font-family='"Liberation Sans", sans-serif' >0</text>
<path d="M110.8,489.5 L110.8,471.5 L111.3,471.3 L111.8,471.1 L112.3,470.8 L112.8,470.6 L113.3,470.5 L113.8,470.3 L114.3,470.1 L114.8,470 L115.3,469.8 L115.8,469.7 L116.3,469.6 L116.8,469.6 L117.3,469.5 L117.8,469.5 L118.3,469.4 L118.8,470.3 L119.3,471.1 L119.8,471.9 L120.3,472.7 L120.8,473.5 L121.3,474.3 L121.8,475.1 L122.3,475.9 L122.8,476.7 L123.3,477.6 L123.8,478.4 L124.3,479.2 L124.8,479.4 L125.3,478.9 L125.8,478.4 L126.3,477.9 L126.8,477.4 L127.3,476.9 L127.8,476.5 L128.3,476 L128.8,475.6 L129.3,475.2 L129.8,474.7 L130.3,474.3 L130.8,474 L131.3,473.6 L131.8,473.2 L132.3,472.9 L132.8,472.6 L133.3,472.3 L133.8,472 L134.3,471.7 L134.8,471.4 L135.3,471.2 L135.8,470.9 L136.3,470.7 L136.8,470.5 L137.3,470.3 L137.8,470.1 L138.3,470 L138.8,469.8 L139.3,469.7 L139.8,469.6 L140.3,469.5 L140.8,469.5 L141.3,469.5 L141.8,469.7 L142.3,470.4 L142.8,471.1 L143.3,471.8 L143.8,472.5 L144.3,473.1 L144.8,473.8 L145.3,474.5 L145.8,475.2 L146.3,475.9 L146.8,476.6 L147.3,477.2 L147.8,477.9 L148.3,478.6 L148.8,479.3 L149.3,480 L149.8,480.7 L150.3,480.4 L150.8,479.8 L151.3,479.3 L151.8,478.8 L152.3,478.4 L152.8,477.9 L153.3,477.4 L153.8,477 L154.3,476.5 L154.8,476.1 L155.3,475.7 L155.8,475.3 L156.3,474.9 L156.8,474.6 L157.3,474.2 L157.8,473.9 L158.3,473.6 L158.8,473.3 L159.3,473 L159.8,472.7 L160.3,472.4 L160.8,472.2 L161.3,472 L161.8,471.8 L162.3,471.6 L162.8,471.4 L163.3,471.2 L163.8,471.1 L164.3,470.9 L164.8,470.8 L165.3,470.7 L165.8,470.7 L166.3,470.6 L166.8,470.6 L167.3,471.3 L167.8,472.1 L168.3,473 L168.8,473.9 L169.3,474.7 L169.8,475.6 L170.3,476.4 L170.8,477.3 L171.3,478.2 L171.8,479 L172.3,479.9 L172.8,479.6 L173.3,479.1 L173.8,478.5 L174.3,478 L174.8,477.5 L175.3,477 L175.8,476.5 L176.3,476.1 L176.8,475.6 L177.3,475.2 L177.8,474.8 L178.3,474.4 L178.8,474 L179.3,473.6 L179.8,473.2 L180.3,472.9 L180.8,472.6 L181.3,472.2 L181.8,471.9 L182.3,471.6 L182.8,471.4 L183.3,471.1 L183.8,470.9 L184.3,470.7 L184.8,470.5 L185.3,470.3 L185.8,470.1 L186.3,469.9 L186.8,469.8 L187.3,469.7 L187.8,469.6 L188.3,469.5 L188.8,469.5 L189.3,469.4 L189.8,470 L190.3,470.7 L190.8,471.4 L191.3,472.1 L191.8,472.8 L192.3,473.5 L192.8,474.2 L193.3,474.9 L193.8,475.6 L194.3,476.3 L194.8,477 L195.3,477.7 L195.8,478.4 L196.3,479.1 L196.8,479.8 L197.3,479.7 L197.8,479.3 L198.3,478.8 L198.8,478.3 L199.3,477.9 L199.8,477.4 L200.3,477 L200.8,476.6 L201.3,476.2 L201.8,475.8 L202.3,475.4 L202.8,475 L203.3,474.6 L203.8,474.3 L204.3,473.9 L204.8,473.6 L205.3,473.3 L205.8,473 L206.3,472.7 L206.8,472.4 L207.3,472.1 L207.8,471.8 L208.3,471.6 L208.8,471.3 L209.3,471.1 L209.8,470.8 L210.3,470.6 L210.8,470.4 L211.3,470.2 L211.8,470.1 L212.3,469.9 L212.8,469.8 L213.3,469.6 L213.8,469.5 L214.3,469.4 L214.8,469.3 L215.3,469.2 L215.8,469.1 L216.3,469.1 L216.8,469.1 L217.3,469.4 L217.8,470.2 L218.3,470.9 L218.8,471.7 L219.3,472.5 L219.8,473.2 L220.3,474 L220.8,474.8 L221.3,475.6 L221.8,476.3 L222.3,477.1 L222.8,477.9 L223.3,478.7 L223.8,479.2 L224.3,478.7 L224.8,478.3 L225.3,477.9 L225.8,477.4 L226.3,477 L226.8,476.6 L227.3,476.2 L227.8,475.9 L228.3,475.5 L228.8,475.1 L229.3,474.8 L229.8,474.4 L230.3,474.1 L230.8,473.8 L231.3,473.5 L231.8,473.2 L232.3,472.9 L232.8,472.7 L233.3,472.4 L233.8,472.2 L234.3,472 L234.8,471.7 L235.3,471.5 L235.8,471.3 L236.3,471.2 L236.8,471 L237.3,470.9 L237.8,470.7 L238.3,470.6 L238.8,470.5 L239.3,470.4 L239.8,470.3 L240.3,470.3 L240.8,470.2 L241.3,470.2 L241.8,470.9 L242.3,471.7 L242.8,472.6 L243.3,473.4 L243.8,474.2 L244.3,475.1 L244.8,475.9 L245.3,476.8 L245.8,477.6 L246.3,478.5 L246.8,479.3 L247.3,480.1 L247.8,481 L248.3,481.8 L248.8,482.4 L249.3,481.9 L249.8,481.4 L250.3,481 L250.8,480.5 L251.3,480.1 L251.8,479.6 L252.3,479.2 L252.8,478.8 L253.3,478.4 L253.8,478 L254.3,477.6 L254.8,477.2 L255.3,476.8 L255.8,476.5 L256.3,476.1 L256.8,475.8 L257.3,475.4 L257.8,475.1 L258.3,474.8 L258.8,474.5 L259.3,474.2 L259.8,473.9 L260.3,473.6 L260.8,473.3 L261.3,473.1 L261.8,472.8 L262.3,472.6 L262.8,472.3 L263.3,472.1 L263.8,471.9 L264.3,471.7 L264.8,471.5 L265.3,471.4 L265.8,471.2 L266.3,471 L266.8,470.9 L267.3,470.8 L267.8,470.7 L268.3,470.5 L268.8,470.5 L269.3,470.4 L269.8,470.3 L270.3,470.3 L270.8,470.2 L271.3,470.2 L271.8,470.8 L272.3,471.5 L272.8,472.2 L273.3,472.9 L273.8,473.6 L274.3,474.3 L274.8,475 L275.3,475.7 L275.8,476.4 L276.3,477.1 L276.8,477.8 L277.3,478.5 L277.8,479.2 L278.3,479.9 L278.8,480.6 L279.3,480.1 L279.8,479.6 L280.3,479.2 L280.8,478.7 L281.3,478.3 L281.8,477.8 L282.3,477.4 L282.8,477 L283.3,476.6 L283.8,476.2 L284.3,475.8 L284.8,475.5 L285.3,475.1 L285.8,474.8 L286.3,474.4 L286.8,474.1 L287.3,473.8 L287.8,473.5 L288.3,473.2 L288.8,472.9 L289.3,472.7 L289.8,472.4 L290.3,472.2 L290.8,471.9 L291.3,471.7 L291.8,471.5 L292.3,471.3 L292.8,471.1 L293.3,471 L293.8,470.8 L294.3,470.7 L294.8,470.6 L295.3,470.5 L295.8,470.4 L296.3,470.3 L296.8,470.3 L297.3,470.2 L297.8,470.2 L298.3,470.8 L298.8,471.3 L299.3,471.9 L299.8,472.4 L300.3,473 L300.8,473.6 L301.3,474.1 L301.8,474.7 L302.3,475.2 L302.8,475.8 L303.3,476.4 L303.8,476.9 L304.3,477.5 L304.8,478.1 L305.3,478.6 L305.8,479.2 L306.3,478.9 L306.8,478.3 L307.3,477.8 L307.8,477.3 L308.3,476.9 L308.8,476.4 L309.3,476 L309.8,475.6 L310.3,475.2 L310.8,474.8 L311.3,474.4 L311.8,474.1 L312.3,473.8 L312.8,473.5 L313.3,473.2 L313.8,472.9 L314.3,472.7 L314.8,472.5 L315.3,472.3 L315.8,472.1 L316.3,472 L316.8,471.9 L317.3,471.8 L317.8,471.7 L318.3,471.7 L318.8,472.5 L319.3,473.2 L319.8,474 L320.3,474.7 L320.8,475.5 L321.3,476.2 L321.8,477 L322.3,477.7 L322.8,478.5 L323.3,479.3 L323.8,480 L324.3,480.5 L324.8,480 L325.3,479.4 L325.8,478.9 L326.3,478.4 L326.8,477.9 L327.3,477.4 L327.8,476.9 L328.3,476.5 L328.8,476.1 L329.3,475.6 L329.8,475.2 L330.3,474.8 L330.8,474.4 L331.3,474.1 L331.8,473.7 L332.3,473.3 L332.8,473 L333.3,472.7 L333.8,472.4 L334.3,472.1 L334.8,471.8 L335.3,471.6 L335.8,471.3 L336.3,471.1 L336.8,470.9 L337.3,470.7 L337.8,470.5 L338.3,470.4 L338.8,470.3 L339.3,470.1 L339.8,470 L340.3,469.9 L340.8,469.9 L341.3,469.8 L341.8,470 L342.3,470.8 L342.8,471.7 L343.3,472.5 L343.8,473.3 L344.3,474.2 L344.8,475 L345.3,475.8 L345.8,476.7 L346.3,477.5 L346.8,478.3 L347.3,479.2 L347.8,479.4 L348.3,478.9 L348.8,478.4 L349.3,477.9 L349.8,477.4 L350.3,476.9 L350.8,476.4 L351.3,476 L351.8,475.5 L352.3,475.1 L352.8,474.7 L353.3,474.3 L353.8,473.9 L354.3,473.5 L354.8,473.2 L355.3,472.8 L355.8,472.5 L356.3,472.2 L356.8,471.9 L357.3,471.6 L357.8,471.3 L358.3,471.1 L358.8,470.9 L359.3,470.6 L359.8,470.4 L360.3,470.3 L360.8,470.1 L361.3,469.9 L361.8,469.8 L362.3,469.7 L362.8,469.6 L363.3,469.5 L363.8,469.5 L364.3,469.4 L364.8,470.2 L365.3,471.2 L365.8,472.2 L366.3,473.2 L366.8,474.2 L367.3,475.1 L367.8,476.1 L368.3,477.1 L368.8,478.1 L369.3,479.1 L369.8,479.4 L370.3,478.8 L370.8,478.2 L371.3,477.7 L371.8,477.1 L372.3,476.6 L372.8,476.1 L373.3,475.6 L373.8,475.1 L374.3,474.7 L374.8,474.2 L375.3,473.8 L375.8,473.4 L376.3,473.1 L376.8,472.7 L377.3,472.4 L377.8,472.1 L378.3,471.9 L378.8,471.6 L379.3,471.4 L379.8,471.2 L380.3,471 L380.8,470.9 L381.3,470.7 L381.8,470.7 L382.3,470.6 L382.8,470.7 L383.3,471.5 L383.8,472.3 L384.3,473.1 L384.8,473.8 L385.3,474.6 L385.8,475.4 L386.3,476.2 L386.8,476.9 L387.3,477.7 L387.8,478.5 L388.3,479.3 L388.8,480 L389.3,480.8 L389.8,480.3 L390.3,479.7 L390.8,479.2 L391.3,478.7 L391.8,478.3 L392.3,477.8 L392.8,477.4 L393.3,477 L393.8,476.6 L394.3,476.2 L394.8,475.9 L395.3,475.6 L395.8,475.3 L396.3,475 L396.8,474.7 L397.3,474.5 L397.8,474.3 L398.3,474.1 L398.8,474 L399.3,473.8 L399.8,473.7 L400.3,473.7 L400.8,473.6 L401.3,474.1 L401.8,474.8 L402.3,475.6 L402.8,476.3 L403.3,477.1 L403.8,477.8 L404.3,478.6 L404.8,479.4 L405.3,480.1 L405.8,480.1 L406.3,479.6 L406.8,479 L407.3,478.5 L407.8,478 L408.3,477.6 L408.8,477.1 L409.3,476.6 L409.8,476.2 L410.3,475.8 L410.8,475.4 L411.3,475 L411.8,474.6 L412.3,474.2 L412.8,473.9 L413.3,473.6 L413.8,473.3 L414.3,473 L414.8,472.7 L415.3,472.4 L415.8,472.1 L416.3,471.9 L416.8,471.7 L417.3,471.5 L417.8,471.3 L418.3,471.2 L418.8,471 L419.3,470.9 L419.8,470.8 L420.3,470.7 L420.8,470.6 L421.3,470.6 L421.8,471 L422.3,471.9 L422.8,472.8 L423.3,473.7 L423.8,474.7 L424.3,475.6 L424.8,476.5 L425.3,477.4 L425.8,478.4 L426.3,479.3 L426.8,479.9 L427.3,479.4 L427.8,478.9 L428.3,478.4 L428.8,477.9 L429.3,477.4 L429.8,476.9 L430.3,476.4 L430.8,476 L431.3,475.6 L431.8,475.2 L432.3,474.8 L432.8,474.4 L433.3,474 L433.8,473.7 L434.3,473.3 L434.8,473 L435.3,472.7 L435.8,472.4 L436.3,472.1 L436.8,471.9 L437.3,471.6 L437.8,471.4 L438.3,471.2 L438.8,471 L439.3,470.8 L439.8,470.7 L440.3,470.5 L440.8,470.4 L441.3,470.3 L441.8,470.3 L442.3,470.2 L442.8,470.2 L443.3,471.1 L443.8,471.9 L444.3,472.8 L444.8,473.7 L445.3,474.5 L445.8,475.4 L446.3,476.3 L446.8,477.1 L447.3,478 L447.8,478.9 L448.3,479.7 L448.8,480.3 L449.3,479.7 L449.8,479.1 L450.3,478.5 L450.8,477.9 L451.3,477.4 L451.8,476.9 L452.3,476.4 L452.8,475.9 L453.3,475.4 L453.8,474.9 L454.3,474.5 L454.8,474.1 L455.3,473.7 L455.8,473.3 L456.3,472.9 L456.8,472.6 L457.3,472.2 L457.8,471.9 L458.3,471.6 L458.8,471.3 L459.3,471.1 L459.8,470.9 L460.3,470.6 L460.8,470.5 L461.3,470.3 L461.8,470.1 L462.3,470 L462.8,469.9 L463.3,469.9 L463.8,469.8 L464.3,470.3 L464.8,471.1 L465.3,471.9 L465.8,472.7 L466.3,473.5 L466.8,474.3 L467.3,475 L467.8,475.8 L468.3,476.6 L468.8,477.4 L469.3,478.2 L469.8,479 L470.3,479.8 L470.8,480.3 L471.3,479.6 L471.8,479 L472.3,478.3 L472.8,477.7 L473.3,477.1 L473.8,476.6 L474.3,476 L474.8,475.5 L475.3,475 L475.8,474.5 L476.3,474 L476.8,473.6 L477.3,473.2 L477.8,472.8 L478.3,472.4 L478.8,472 L479.3,471.7 L479.8,471.4 L480.3,471.1 L480.8,470.9 L481.3,470.6 L481.8,470.4 L482.3,470.2 L482.8,470.1 L483.3,470 L483.8,469.9 L484.3,469.8 L484.8,470.2 L485.3,471.1 L485.8,472 L486.3,472.9 L486.8,473.8 L487.3,474.8 L487.8,475.7 L488.3,476.6 L488.8,477.5 L489.3,478.4 L489.8,479.3 L490.3,480.2 L490.8,479.9 L491.3,479.3 L491.8,478.7 L492.3,478.2 L492.8,477.6 L493.3,477.1 L493.8,476.6 L494.3,476.1 L494.8,475.6 L495.3,475.1 L495.8,474.7 L496.3,474.3 L496.8,473.9 L497.3,473.5 L497.8,473.1 L498.3,472.7 L498.8,472.4 L499.3,472.1 L499.8,471.8 L500.3,471.5 L500.8,471.2 L501.3,471 L501.8,470.8 L502.3,470.6 L502.8,470.4 L503.3,470.2 L503.8,470.1 L504.3,470 L504.8,469.9 L505.3,469.8 L505.8,469.8 L506.3,470.6 L506.8,471.4 L507.3,472.1 L507.8,472.9 L508.3,473.7 L508.8,474.5 L509.3,475.2 L509.8,476 L510.3,476.8 L510.8,477.6 L511.3,478.3 L511.8,479.1 L512.3,479.9 L512.8,479.6 L513.3,479 L513.8,478.5 L514.3,477.9 L514.8,477.4 L515.3,476.9 L515.8,476.5 L516.3,476 L516.8,475.5 L517.3,475.1 L517.8,474.7 L518.3,474.3 L518.8,473.9 L519.3,473.6 L519.8,473.2 L520.3,472.9 L520.8,472.6 L521.3,472.3 L521.8,472.1 L522.3,471.8 L522.8,471.6 L523.3,471.4 L523.8,471.2 L524.3,471 L524.8,470.9 L525.3,470.8 L525.8,470.7 L526.3,470.6 L526.8,470.6 L527.3,471.1 L527.8,471.8 L528.3,472.6 L528.8,473.4 L529.3,474.2 L529.8,475 L530.3,475.8 L530.8,476.6 L531.3,477.4 L531.8,478.1 L532.3,478.9 L532.8,479.7 L533.3,479.7 L533.8,479.2 L534.3,478.7 L534.8,478.2 L535.3,477.7 L535.8,477.2 L536.3,476.7 L536.8,476.3 L537.3,475.8 L537.8,475.4 L538.3,475 L538.8,474.6 L539.3,474.2 L539.8,473.8 L540.3,473.5 L540.8,473.1 L541.3,472.8 L541.8,472.5 L542.3,472.2 L542.8,471.9 L543.3,471.7 L543.8,471.4 L544.3,471.2 L544.8,471 L545.3,470.8 L545.8,470.6 L546.3,470.4 L546.8,470.3 L547.3,470.2 L547.8,470 L548.3,470 L548.8,469.9 L549.3,469.8 L549.8,469.8 L550.3,470.8 L550.8,471.8 L551.3,472.7 L551.8,473.7 L552.3,474.6 L552.8,475.6 L553.3,476.6 L553.8,477.5 L554.3,478.5 L554.8,479.4 L555.3,480.4 L555.8,480.7 L556.3,480 L556.8,479.3 L557.3,478.6 L557.8,478 L558.3,477.4 L558.8,476.9 L559.3,476.3 L559.8,475.8 L560.3,475.4 L560.8,474.9 L561.3,474.5 L561.8,474.1 L562.3,473.8 L562.8,473.5 L563.3,473.2 L563.8,473 L564.3,472.8 L564.8,472.6 L565.3,472.5 L565.8,472.5 L565.8,489.5 Z" fill="#ab6c3e" stroke="none"/>
<path d="M110.8,471.5 L111.3,471.3 L111.8,471.1 L112.3,470.8 L112.8,470.6 L113.3,470.5 L113.8,470.3 L114.3,470.1 L114.8,470 L115.3,469.8 L115.8,469.7 L116.3,469.6 L116.8,469.6 L117.3,469.5 L117.8,469.5 L118.3,469.4 L118.8,470.3 L119.3,471.1 L119.8,471.9 L120.3,472.7 L120.8,473.5 L121.3,474.3 L121.8,475.1 L122.3,475.9 L122.8,476.7 L123.3,477.6 L123.8,478.4 L124.3,479.2 L124.8,479.4 L125.3,478.9 L125.8,478.4 L126.3,477.9 L126.8,477.4 L127.3,476.9 L127.8,476.5 L128.3,476 L128.8,475.6 L129.3,475.2 L129.8,474.7 L130.3,474.3 L130.8,474 L131.3,473.6 L131.8,473.2 L132.3,472.9 L132.8,472.6 L133.3,472.3 L133.8,472 L134.3,471.7 L134.8,471.4 L135.3,471.2 L135.8,470.9 L136.3,470.7 L136.8,470.5 L137.3,470.3 L137.8,470.1 L138.3,470 L138.8,469.8 L139.3,469.7 L139.8,469.6 L140.3,469.5 L140.8,469.5 L141.3,469.5 L141.8,469.7 L142.3,470.4 L142.8,471.1 L143.3,471.8 L143.8,472.5 L144.3,473.1 L144.8,473.8 L145.3,474.5 L145.8,475.2 L146.3,475.9 L146.8,476.6 L147.3,477.2 L147.8,477.9 L148.3,478.6 L148.8,479.3 L149.3,480 L149.8,480.7 L150.3,480.4 L150.8,479.8 L151.3,479.3 L151.8,478.8 L152.3,478.4 L152.8,477.9 L153.3,477.4 L153.8,477 L154.3,476.5 L154.8,476.1 L155.3,475.7 L155.8,475.3 L156.3,474.9 L156.8,474.6 L157.3,474.2 L157.8,473.9 L158.3,473.6 L158.8,473.3 L159.3,473 L159.8,472.7 L160.3,472.4 L160.8,472.2 L161.3,472 L161.8,471.8 L162.3,471.6 L162.8,471.4 L163.3,471.2 L163.8,471.1 L164.3,470.9 L164.8,470.8 L165.3,470.7 L165.8,470.7 L166.3,470.6 L166.8,470.6 L167.3,471.3 L167.8,472.1 L168.3,473 L168.8,473.9 L169.3,474.7 L169.8,475.6 L170.3,476.4 L170.8,477.3 L171.3,478.2 L171.8,479 L172.3,479.9 L172.8,479.6 L173.3,479.1 L173.8,478.5 L174.3,478 L174.8,477.5 L175.3,477 L175.8,476.5 L176.3,476.1 L176.8,475.6 L177.3,475.2 L177.8,474.8 L178.3,474.4 L178.8,474 L179.3,473.6 L179.8,473.2 L180.3,472.9 L180.8,472.6 L181.3,472.2 L181.8,471.9 L182.3,471.6 L182.8,471.4 L183.3,471.1 L183.8,470.9 L184.3,470.7 L184.8,470.5 L185.3,470.3 L185.8,470.1 L186.3,469.9 L186.8,469.8 L187.3,469.7 L187.8,469.6 L188.3,469.5 L188.8,469.5 L189.3,469.4 L189.8,470 L190.3,470.7 L190.8,471.4 L191.3,472.1 L191.8,472.8 L192.3,473.5 L192.8,474.2 L193.3,474.9 L193.8,475.6 L194.3,476.3 L194.8,477 L195.3,477.7 L195.8,478.4 L196.3,479.1 L196.8,479.8 L197.3,479.7 L197.8,479.3 L198.3,478.8 L198.8,478.3 L199.3,477.9 L199.8,477.4 L200.3,477 L200.8,476.6 L201.3,476.2 L201.8,475.8 L202.3,475.4 L202.8,475 L203.3,474.6 L203.8,474.3 L204.3,473.9 L204.8,473.6 L205.3,473.3 L205.8,473 L206.3,472.7 L206.8,472.4 L207.3,472.1 L207.8,471.8 L208.3,471.6 L208.8,471.3 L209.3,471.1 L209.8,470.8 L210.3,470.6 L210.8,470.4 L211.3,470.2 L211.8,470.1 L212.3,469.9 L212.8,469.8 L213.3,469.6 L213.8,469.5 L214.3,469.4 L214.8,469.3 L215.3,469.2 L215.8,469.1 L216.3,469.1 L216.8,469.1 L217.3,469.4 L217.8,470.2 L218.3,470.9 L218.8,471.7 L219.3,472.5 L219.8,473.2 L220.3,474 L220.8,474.8 L221.3,475.6 L221.8,476.3 L222.3,477.1 L222.8,477.9 L223.3,478.7 L223.8,479.2 L224.3,478.7 L224.8,478.3 L225.3,477.9 L225.8,477.4 L226.3,477 L226.8,476.6 L227.3,476.2 L227.8,475.9 L228.3,475.5 L228.8,475.1 L229.3,474.8 L229.8,474.4 L230.3,474.1 L230.8,473.8 L231.3,473.5 L231.8,473.2 L232.3,472.9 L232.8,472.7 L233.3,472.4 L233.8,472.2 L234.3,472 L234.8,471.7 L235.3,471.5 L235.8,471.3 L236.3,471.2 L236.8,471 L237.3,470.9 L237.8,470.7 L238.3,470.6 L238.8,470.5 L239.3,470.4 L239.8,470.3 L240.3,470.3 L240.8,470.2 L241.3,470.2 L241.8,470.9 L242.3,471.7 L242.8,472.6 L243.3,473.4 L243.8,474.2 L244.3,475.1 L244.8,475.9 L245.3,476.8 L245.8,477.6 L246.3,478.5 L246.8,479.3 L247.3,480.1 L247.8,481 L248.3,481.8 L248.8,482.4 L249.3,481.9 L249.8,481.4 L250.3,481 L250.8,480.5 L251.3,480.1 L251.8,479.6 L252.3,479.2 L252.8,478.8 L253.3,478.4 L253.8,478 L254.3,477.6 L254.8,477.2 L255.3,476.8 L255.8,476.5 L256.3,476.1 L256.8,475.8 L257.3,475.4 L257.8,475.1 L258.3,474.8 L258.8,474.5 L259.3,474.2 L259.8,473.9 L260.3,473.6 L260.8,473.3 L261.3,473.1 L261.8,472.8 L262.3,472.6 L262.8,472.3 L263.3,472.1 L263.8,471.9 L264.3,471.7 L264.8,471.5 L265.3,471.4 L265.8,471.2 L266.3,471 L266.8,470.9 L267.3,470.8 L267.8,470.7 L268.3,470.5 L268.8,470.5 L269.3,470.4 L269.8,470.3 L270.3,470.3 L270.8,470.2 L271.3,470.2 L271.8,470.8 L272.3,471.5 L272.8,472.2 L273.3,472.9 L273.8,473.6 L274.3,474.3 L274.8,475 L275.3,475.7 L275.8,476.4 L276.3,477.1 L276.8,477.8 L277.3,478.5 L277.8,479.2 L278.3,479.9 L278.8,480.6 L279.3,480.1 L279.8,479.6 L280.3,479.2 L280.8,478.7 L281.3,478.3 L281.8,477.8 L282.3,477.4 L282.8,477 L283.3,476.6 L283.8,476.2 L284.3,475.8 L284.8,475.5 L285.3,475.1 L285.8,474.8 L286.3,474.4 L286.8,474.1 L287.3,473.8 L287.8,473.5 L288.3,473.2 L288.8,472.9 L289.3,472.7 L289.8,472.4 L290.3,472.2 L290.8,471.9 L291.3,471.7 L291.8,471.5 L292.3,471.3 L292.8,471.1 L293.3,471 L293.8,470.8 L294.3,470.7 L294.8,470.6 L295.3,470.5 L295.8,470.4 L296.3,470.3 L296.8,470.3 L297.3,470.2 L297.8,470.2 L298.3,470.8 L298.8,471.3 L299.3,471.9 L299.8,472.4 L300.3,473 L300.8,473.6 L301.3,474.1 L301.8,474.7 L302.3,475.2 L302.8,475.8 L303.3,476.4 L303.8,476.9 L304.3,477.5 L304.8,478.1 L305.3,478.6 L305.8,479.2 L306.3,478.9 L306.8,478.3 L307.3,477.8 L307.8,477.3 L308.3,476.9 L308.8,476.4 L309.3,476 L309.8,475.6 L310.3,475.2 L310.8,474.8 L311.3,474.4 L311.8,474.1 L312.3,473.8 L312.8,473.5 L313.3,473.2 L313.8,472.9 L314.3,472.7 L314.8,472.5 L315.3,472.3 L315.8,472.1 L316.3,472 L316.8,471.9 L317.3,471.8 L317.8,471.7 L318.3,471.7 L318.8,472.5 L319.3,473.2 L319.8,474 L320.3,474.7 L320.8,475.5 L321.3,476.2 L321.8,477 L322.3,477.7 L322.8,478.5 L323.3,479.3 L323.8,480 L324.3,480.5 L324.8,480 L325.3,479.4 L325.8,478.9 L326.3,478.4 L326.8,477.9 L327.3,477.4 L327.8,476.9 L328.3,476.5 L328.8,476.1 L329.3,475.6 L329.8,475.2 L330.3,474.8 L330.8,474.4 L331.3,474.1 L331.8,473.7 L332.3,473.3 L332.8,473 L333.3,472.7 L333.8,472.4 L334.3,472.1 L334.8,471.8 L335.3,471.6 L335.8,471.3 L336.3,471.1 L336.8,470.9 L337.3,470.7 L337.8,470.5 L338.3,470.4 L338.8,470.3 L339.3,470.1 L339.8,470 L340.3,469.9 L340.8,469.9 L341.3,469.8 L341.8,470 L342.3,470.8 L342.8,471.7 L343.3,472.5 L343.8,473.3 L344.3,474.2 L344.8,475 L345.3,475.8 L345.8,476.7 L346.3,477.5 L346.8,478.3 L347.3,479.2 L347.8,479.4 L348.3,478.9 L348.8,478.4 L349.3,477.9 L349.8,477.4 L350.3,476.9 L350.8,476.4 L351.3,476 L351.8,475.5 L352.3,475.1 L352.8,474.7 L353.3,474.3 L353.8,473.9 L354.3,473.5 L354.8,473.2 L355.3,472.8 L355.8,472.5 L356.3,472.2 L356.8,471.9 L357.3,471.6 L357.8,471.3 L358.3,471.1 L358.8,470.9 L359.3,470.6 L359.8,470.4 L360.3,470.3 L360.8,470.1 L361.3,469.9 L361.8,469.8 L362.3,469.7 L362.8,469.6 L363.3,469.5 L363.8,469.5 L364.3,469.4 L364.8,470.2 L365.3,471.2 L365.8,472.2 L366.3,473.2 L366.8,474.2 L367.3,475.1 L367.8,476.1 L368.3,477.1 L368.8,478.1 L369.3,479.1 L369.8,479.4 L370.3,478.8 L370.8,478.2 L371.3,477.7 L371.8,477.1 L372.3,476.6 L372.8,476.1 L373.3,475.6 L373.8,475.1 L374.3,474.7 L374.8,474.2 L375.3,473.8 L375.8,473.4 L376.3,473.1 L376.8,472.7 L377.3,472.4 L377.8,472.1 L378.3,471.9 L378.8,471.6 L379.3,471.4 L379.8,471.2 L380.3,471 L380.8,470.9 L381.3,470.7 L381.8,470.7 L382.3,470.6 L382.8,470.7 L383.3,471.5 L383.8,472.3 L384.3,473.1 L384.8,473.8 L385.3,474.6 L385.8,475.4 L386.3,476.2 L386.8,476.9 L387.3,477.7 L387.8,478.5 L388.3,479.3 L388.8,480 L389.3,480.8 L389.8,480.3 L390.3,479.7 L390.8,479.2 L391.3,478.7 L391.8,478.3 L392.3,477.8 L392.8,477.4 L393.3,477 L393.8,476.6 L394.3,476.2 L394.8,475.9 L395.3,475.6 L395.8,475.3 L396.3,475 L396.8,474.7 L397.3,474.5 L397.8,474.3 L398.3,474.1 L398.8,474 L399.3,473.8 L399.8,473.7 L400.3,473.7 L400.8,473.6 L401.3,474.1 L401.8,474.8 L402.3,475.6 L402.8,476.3 L403.3,477.1 L403.8,477.8 L404.3,478.6 L404.8,479.4 L405.3,480.1 L405.8,480.1 L406.3,479.6 L406.8,479 L407.3,478.5 L407.8,478 L408.3,477.6 L408.8,477.1 L409.3,476.6 L409.8,476.2 L410.3,475.8 L410.8,475.4 L411.3,475 L411.8,474.6 L412.3,474.2 L412.8,473.9 L413.3,473.6 L413.8,473.3 L414.3,473 L414.8,472.7 L415.3,472.4 L415.8,472.1 L416.3,471.9 L416.8,471.7 L417.3,471.5 L417.8,471.3 L418.3,471.2 L418.8,471 L419.3,470.9 L419.8,470.8 L420.3,470.7 L420.8,470.6 L421.3,470.6 L421.8,471 L422.3,471.9 L422.8,472.8 L423.3,473.7 L423.8,474.7 L424.3,475.6 L424.8,476.5 L425.3,477.4 L425.8,478.4 L426.3,479.3 L426.8,479.9 L427.3,479.4 L427.8,478.9 L428.3,478.4 L428.8,477.9 L429.3,477.4 L429.8,476.9 L430.3,476.4 L430.8,476 L431.3,475.6 L431.8,475.2 L432.3,474.8 L432.8,474.4 L433.3,474 L433.8,473.7 L434.3,473.3 L434.8,473 L435.3,472.7 L435.8,472.4 L436.3,472.1 L436.8,471.9 L437.3,471.6 L437.8,471.4 L438.3,471.2 L438.8,471 L439.3,470.8 L439.8,470.7 L440.3,470.5 L440.8,470.4 L441.3,470.3 L441.8,470.3 L442.3,470.2 L442.8,470.2 L443.3,471.1 L443.8,471.9 L444.3,472.8 L444.8,473.7 L445.3,474.5 L445.8,475.4 L446.3,476.3 L446.8,477.1 L447.3,478 L447.8,478.9 L448.3,479.7 L448.8,480.3 L449.3,479.7 L449.8,479.1 L450.3,478.5 L450.8,477.9 L451.3,477.4 L451.8,476.9 L452.3,476.4 L452.8,475.9 L453.3,475.4 L453.8,474.9 L454.3,474.5 L454.8,474.1 L455.3,473.7 L455.8,473.3 L456.3,472.9 L456.8,472.6 L457.3,472.2 L457.8,471.9 L458.3,471.6 L458.8,471.3 L459.3,471.1 L459.8,470.9 L460.3,470.6 L460.8,470.5 L461.3,470.3 L461.8,470.1 L462.3,470 L462.8,469.9 L463.3,469.9 L463.8,469.8 L464.3,470.3 L464.8,471.1 L465.3,471.9 L465.8,472.7 L466.3,473.5 L466.8,474.3 L467.3,475 L467.8,475.8 L468.3,476.6 L468.8,477.4 L469.3,478.2 L469.8,479 L470.3,479.8 L470.8,480.3 L471.3,479.6 L471.8,479 L472.3,478.3 L472.8,477.7 L473.3,477.1 L473.8,476.6 L474.3,476 L474.8,475.5 L475.3,475 L475.8,474.5 L476.3,474 L476.8,473.6 L477.3,473.2 L477.8,472.8 L478.3,472.4 L478.8,472 L479.3,471.7 L479.8,471.4 L480.3,471.1 L480.8,470.9 L481.3,470.6 L481.8,470.4 L482.3,470.2 L482.8,470.1 L483.3,470 L483.8,469.9 L484.3,469.8 L484.8,470.2 L485.3,471.1 L485.8,472 L486.3,472.9 L486.8,473.8 L487.3,474.8 L487.8,475.7 L488.3,476.6 L488.8,477.5 L489.3,478.4 L489.8,479.3 L490.3,480.2 L490.8,479.9 L491.3,479.3 L491.8,478.7 L492.3,478.2 L492.8,477.6 L493.3,477.1 L493.8,476.6 L494.3,476.1 L494.8,475.6 L495.3,475.1 L495.8,474.7 L496.3,474.3 L496.8,473.9 L497.3,473.5 L497.8,473.1 L498.3,472.7 L498.8,472.4 L499.3,472.1 L499.8,471.8 L500.3,471.5 L500.8,471.2 L501.3,471 L501.8,470.8 L502.3,470.6 L502.8,470.4 L503.3,470.2 L503.8,470.1 L504.3,470 L504.8,469.9 L505.3,469.8 L505.8,469.8 L506.3,470.6 L506.8,471.4 L507.3,472.1 L507.8,472.9 L508.3,473.7 L508.8,474.5 L509.3,475.2 L509.8,476 L510.3,476.8 L510.8,477.6 L511.3,478.3 L511.8,479.1 L512.3,479.9 L512.8,479.6 L513.3,479 L513.8,478.5 L514.3,477.9 L514.8,477.4 L515.3,476.9 L515.8,476.5 L516.3,476 L516.8,475.5 L517.3,475.1 L517.8,474.7 L518.3,474.3 L518.8,473.9 L519.3,473.6 L519.8,473.2 L520.3,472.9 L520.8,472.6 L521.3,472.3 L521.8,472.1 L522.3,471.8 L522.8,471.6 L523.3,471.4 L523.8,471.2 L524.3,471 L524.8,470.9 L525.3,470.8 L525.8,470.7 L526.3,470.6 L526.8,470.6 L527.3,471.1 L527.8,471.8 L528.3,472.6 L528.8,473.4 L529.3,474.2 L529.8,475 L530.3,475.8 L530.8,476.6 L531.3,477.4 L531.8,478.1 L532.3,478.9 L532.8,479.7 L533.3,479.7 L533.8,479.2 L534.3,478.7 L534.8,478.2 L535.3,477.7 L535.8,477.2 L536.3,476.7 L536.8,476.3 L537.3,475.8 L537.8,475.4 L538.3,475 L538.8,474.6 L539.3,474.2 L539.8,473.8 L540.3,473.5 L540.8,473.1 L541.3,472.8 L541.8,472.5 L542.3,472.2 L542.8,471.9 L543.3,471.7 L543.8,471.4 L544.3,471.2 L544.8,471 L545.3,470.8 L545.8,470.6 L546.3,470.4 L546.8,470.3 L547.3,470.2 L547.8,470 L548.3,470 L548.8,469.9 L549.3,469.8 L549.8,469.8 L550.3,470.8 L550.8,471.8 L551.3,472.7 L551.8,473.7 L552.3,474.6 L552.8,475.6 L553.3,476.6 L553.8,477.5 L554.3,478.5 L554.8,479.4 L555.3,480.4 L555.8,480.7 L556.3,480 L556.8,479.3 L557.3,478.6 L557.8,478 L558.3,477.4 L558.8,476.9 L559.3,476.3 L559.8,475.8 L560.3,475.4 L560.8,474.9 L561.3,474.5 L561.8,474.1 L562.3,473.8 L562.8,473.5 L563.3,473.2 L563.8,473 L564.3,472.8 L564.8,472.6 L565.3,472.5 L565.8,472.5" fill="none" stroke="#2b1a0e" stroke-width="1.1" stroke-linejoin="round"/>
<polyline points="111.3,463.3 111.9,461.9 112.5,462.6 113.1,464.5 113.7,462 114.3,461.4 114.9,459.6 115.5,462.4 116.1,454.8 116.7,460.8 117.3,458.6 117.9,457.6 118.5,457.5 119.1,455.6 119.7,460.4 120.3,459.2 120.9,461.9 121.5,457 122.1,464.3 122.7,463.3 123.3,464.9 123.9,464.5 124.5,463.8 125.1,460.9 125.7,460.7 126.3,461 126.9,461.3 127.5,458.6 128.1,459.6 128.7,455.9 129.3,457.7 129.9,461.3 130.5,458.4 131.1,455.7 131.7,451.8 132.3,451.4 132.9,448.9 133.5,451.7 134.1,448.9 134.7,449.2 135.3,448.2 135.9,447.6 136.5,450.9 137.1,446.4 137.7,446.9 138.3,443.3 138.9,445.8 139.5,440.1 140.1,440.6 140.7,434.9 141.3,440 141.9,446.2 142.5,453.7 143.1,450.1 143.7,455.6 144.3,456.7 144.9,457.4 145.5,462.9 146.1,462.6 146.7,461.8 147.3,466.6 147.9,460.7 148.5,464.8 149.1,463.3 149.7,459.8 150.3,462 150.9,464 151.5,461.8 152.1,460.5 152.7,459.9 153.3,453.5 153.9,457.7 154.5,457.7 155.1,456 155.7,457.1 156.3,452.6 156.9,454.5 157.5,452.9 158.1,451.1 158.7,453 159.3,447.6 159.9,448.9 160.5,444.4 161.1,447.7 161.7,448.1 162.3,445.1 162.9,444 163.5,450.2 164.1,443.5 164.7,442.1 165.3,440.5 165.9,440.3 166.5,447.7 167.1,443.5 167.7,444.8 168.3,447.5 168.9,453.6 169.5,451.5 170.1,459.8 170.7,464.3 171.3,463.6 171.9,464.8 172.5,465.1 173.1,465.8 173.7,460.7 174.3,462.6 174.9,457.6 175.5,456 176.1,457.1 176.7,456.7 177.3,453.8 177.9,452.5 178.5,453 179.1,458.2 179.7,456.9 180.3,454.6 180.9,455.6 181.5,453.4 182.1,452.8 182.7,451.5 183.3,449.4 183.9,447.9 184.5,448.8 185.1,445.6 185.7,444.7 186.3,446.9 186.9,445.4 187.5,446.4 188.1,443.5 188.7,432 189.3,440.9 189.9,442.6 190.5,445.2 191.1,448.5 191.7,455.3 192.3,458.2 192.9,462.5 193.5,458.8 194.1,460.9 194.7,462.3 195.3,462.6 195.9,462.2 196.5,461.8 197.1,463.9 197.7,462 198.3,460.3 198.9,463.5 199.5,462.3 200.1,457.3 200.7,460.5 201.3,455.6 201.9,460.1 202.5,457.3 203.1,458.3 203.7,457.2 204.3,456.2 204.9,456.2 205.5,455.6 206.1,455.6 206.7,453.7 207.3,446.5 207.9,452.6 208.5,448.7 209.1,452.8 209.7,453 210.3,449.1 210.9,446.7 211.5,446.8 212.1,446.4 212.7,443.9 213.3,443.4 213.9,442.7 214.5,447.8 215.1,444.9 215.7,447.4 216.3,433.3 216.9,445.9 217.5,446.5 218.1,451.3 218.7,452.3 219.3,451.3 219.9,452.1 220.5,455.6 221.1,467.3 221.7,462.5 222.3,463.8 222.9,465.6 223.5,466.5 224.1,461.7 224.7,459.6 225.3,463.8 225.9,461.8 226.5,461.5 227.1,458.9 227.7,456 228.3,456.1 228.9,460.3 229.5,459.7 230.1,458.2 230.7,455.2 231.3,452.2 231.9,451.8 232.5,450 233.1,455.7 233.7,456.7 234.3,458 234.9,452.9 235.5,449.3 236.1,448.1 236.7,441.8 237.3,448.5 237.9,449.1 238.5,450.8 239.1,446.7 239.7,445.2 240.3,444.8 240.9,435.4 241.5,448.5 242.1,445.7 242.7,448.8 243.3,449 243.9,458.8 244.5,461.4 245.1,465.9 245.7,461.7 246.3,464.1 246.9,462 247.5,463.1 248.1,461.5 248.7,461.5 249.3,459.6 249.9,463 250.5,462 251.1,461.1 251.7,461.5 252.3,460.7 252.9,461.9 253.5,458.2 254.1,459 254.7,457.8 255.3,455.3 255.9,459.5 256.5,454 257.1,455.8 257.7,453.6 258.3,449.7 258.9,452.1 259.5,454.4 260.1,452.7 260.7,451.7 261.3,454.7 261.9,452.9 262.5,452.5 263.1,449.1 263.7,449.3 264.3,446.3 264.9,447.7 265.5,449 266.1,447.7 266.7,447.3 267.3,444.4 267.9,446.5 268.5,444.5 269.1,442.4 269.7,441.3 270.3,443.5 270.9,441.7 271.5,443.2 272.1,448 272.7,449.8 273.3,445.5 273.9,453.5 274.5,454.5 275.1,463.7 275.7,462 276.3,463 276.9,463.9 277.5,465.4 278.1,462.8 278.7,463.4 279.3,460.3 279.9,462.5 280.5,463.3 281.1,464.9 281.7,463.1 282.3,462.1 282.9,462.8 283.5,459.2 284.1,458.8 284.7,458.1 285.3,455.7 285.9,457.1 286.5,456.8 287.1,458.3 287.7,456.5 288.3,453.2 288.9,448.4 289.5,451.6 290.1,447.8 290.7,450.8 291.3,450.9 291.9,446.9 292.5,451.2 293.1,450.6 293.7,448.6 294.3,451.1 294.9,450.1 295.5,443.9 296.1,447.7 296.7,445.4 297.3,431.1 297.9,442.9 298.5,442 299.1,446.1 299.7,449.3 300.3,451.8 300.9,456.2 301.5,456.9 302.1,461.1 302.7,463.6 303.3,462.7 303.9,463 304.5,458.2 305.1,458.6 305.7,459.6 306.3,462.1 306.9,462 307.5,464.6 308.1,460.3 308.7,458.3 309.3,456.7 309.9,458.2 310.5,454.2 311.1,457.4 311.7,456 312.3,455.9 312.9,455.2 313.5,454.1 314.1,453.3 314.7,451.5 315.3,451.3 315.9,453.4 316.5,451.2 317.1,452.7 317.7,441.9 318.3,445 318.9,453.5 319.5,453.2 320.1,452.4 320.7,455.7 321.3,456.2 321.9,462.7 322.5,461.8 323.1,458.4 323.7,463.7 324.3,461.2 324.9,466.5 325.5,459.7 326.1,456.4 326.7,460.2 327.3,460.2 327.9,460.2 328.5,453.7 329.1,456.6 329.7,458.6 330.3,452.1 330.9,459.2 331.5,453.5 332.1,459.1 332.7,452.9 333.3,453 333.9,454.2 334.5,453.6 335.1,449.1 335.7,449.9 336.3,445 336.9,441.7 337.5,448.9 338.1,445.2 338.7,445.4 339.3,447.5 339.9,441.2 340.5,439.7 341.1,428.3 341.7,441 342.3,445.6 342.9,451.8 343.5,450.3 344.1,453.6 344.7,456 345.3,455.2 345.9,461.8 346.5,460.1 347.1,464.4 347.7,462.5 348.3,462.2 348.9,458.8 349.5,460.6 350.1,456.8 350.7,459.3 351.3,457.3 351.9,455.8 352.5,460.5 353.1,458.3 353.7,454.5 354.3,455.9 354.9,453.6 355.5,452.7 356.1,452.5 356.7,450.9 357.3,450.5 357.9,450.5 358.5,452.3 359.1,451.9 359.7,447.6 360.3,451.3 360.9,447.1 361.5,447.4 362.1,446.8 362.7,444.1 363.3,446.7 363.9,429.4 364.5,438.7 365.1,446.9 365.7,446.5 366.3,449.9 366.9,448.6 367.5,459.1 368.1,462.9 368.7,464.1 369.3,465.7 369.9,466.4 370.5,462.3 371.1,463.1 371.7,459.9 372.3,459 372.9,461.4 373.5,458.2 374.1,453.9 374.7,456.5 375.3,454.2 375.9,454.8 376.5,455.8 377.1,452.9 377.7,448.3 378.3,449.1 378.9,453.1 379.5,445.4 380.1,448 380.7,449.2 381.3,448.9 381.9,439.7 382.5,445.8 383.1,447.6 383.7,450.1 384.3,449.5 384.9,451.1 385.5,458.8 386.1,461.9 386.7,462.4 387.3,461.9 387.9,465.6 388.5,465.3 389.1,465.9 389.7,459.5 390.3,462.9 390.9,461.7 391.5,459.4 392.1,460.1 392.7,458.8 393.3,456.4 393.9,457.9 394.5,452.9 395.1,456.1 395.7,455.9 396.3,456.2 396.9,456.6 397.5,451.9 398.1,448.9 398.7,452.1 399.3,450.8 399.9,454.2 400.5,439.1 401.1,447.5 401.7,451.4 402.3,450.4 402.9,449.4 403.5,462.3 404.1,458.1 404.7,461.5 405.3,460 405.9,465 406.5,461.1 407.1,463.7 407.7,456.9 408.3,455.1 408.9,459.7 409.5,460 410.1,458.6 410.7,458.3 411.3,456.7 411.9,454.4 412.5,457.1 413.1,455.1 413.7,455.5 414.3,455.1 414.9,455.5 415.5,451.7 416.1,450.5 416.7,446.9 417.3,449.1 417.9,451.5 418.5,444.1 419.1,444.6 419.7,448.1 420.3,445.7 420.9,435.2 421.5,438.5 422.1,446.1 422.7,444.9 423.3,448.4 423.9,456.3 424.5,457.3 425.1,461 425.7,467.6 426.3,464.8 426.9,465.5 427.5,459.2 428.1,459 428.7,457.6 429.3,460.6 429.9,457.6 430.5,457.7 431.1,456.6 431.7,455.5 432.3,455.4 432.9,453.4 433.5,454.4 434.1,453.2 434.7,455.7 435.3,454.7 435.9,449.7 436.5,451.2 437.1,447.2 437.7,453.5 438.3,450.4 438.9,446.5 439.5,444.4 440.1,446.3 440.7,441.1 441.3,442.1 441.9,436.4 442.5,444.4 443.1,444.4 443.7,449.6 444.3,448.7 444.9,455.2 445.5,456.6 446.1,460 446.7,465.8 447.3,462.9 447.9,467 448.5,461.7 449.1,466.9 449.7,460.3 450.3,461.1 450.9,454.9 451.5,454.3 452.1,458.2 452.7,460.6 453.3,454.6 453.9,458.9 454.5,453.1 455.1,455.4 455.7,454.6 456.3,454 456.9,447.6 457.5,451.6 458.1,448.5 458.7,444.7 459.3,444.6 459.9,443.2 460.5,445.1 461.1,448 461.7,444.8 462.3,441.8 462.9,441.6 463.5,435.1 464.1,441.8 464.7,444 465.3,450.5 465.9,451.7 466.5,454.5 467.1,457.1 467.7,459.6 468.3,461.9 468.9,462.3 469.5,459.7 470.1,461.1 470.7,461.4 471.3,460.1 471.9,459.7 472.5,457.3 473.1,455.3 473.7,457.2 474.3,454.2 474.9,455.1 475.5,454.1 476.1,451.8 476.7,452 477.3,454.4 477.9,454.5 478.5,450.4 479.1,450.8 479.7,448 480.3,445.9 480.9,447.1 481.5,450.1 482.1,444.7 482.7,449 483.3,447 483.9,436.2 484.5,436.8 485.1,447 485.7,447.6 486.3,451.8 486.9,453.5 487.5,456.9 488.1,458.4 488.7,461.4 489.3,464.5 489.9,460.6 490.5,460.3 491.1,464.2 491.7,462.4 492.3,460.3 492.9,454.8 493.5,459.3 494.1,458.8 494.7,460.5 495.3,453 495.9,455.9 496.5,454.3 497.1,451.5 497.7,451.1 498.3,453.5 498.9,449.5 499.5,448.1 500.1,450 500.7,449 501.3,449.8 501.9,446.5 502.5,448.5 503.1,448.8 503.7,444.1 504.3,440.8 504.9,434.7 505.5,444.7 506.1,441.7 506.7,443 507.3,447.9 507.9,451.6 508.5,455.8 509.1,460 509.7,462.1 510.3,462.1 510.9,464.1 511.5,461.4 512.1,462.3 512.7,460.3 513.3,465.4 513.9,462.4 514.5,457 515.1,456.5 515.7,458 516.3,456.2 516.9,456.5 517.5,453.9 518.1,457.6 518.7,454.9 519.3,453.9 519.9,451.1 520.5,450.4 521.1,453.8 521.7,452.7 522.3,454.4 522.9,447.2 523.5,450 524.1,448.3 524.7,447.9 525.3,442.9 525.9,442 526.5,438.1 527.1,445.7 527.7,447.1 528.3,449.5 528.9,449.8 529.5,452.4 530.1,455.8 530.7,461.3 531.3,462.1 531.9,461 532.5,461.1 533.1,462.3 533.7,460.5 534.3,459.2 534.9,462.1 535.5,458.9 536.1,455.8 536.7,459.6 537.3,459 537.9,456.8 538.5,457.8 539.1,452.5 539.7,454.7 540.3,451.3 540.9,459.1 541.5,449.5 542.1,452.3 542.7,448.5 543.3,448.3 543.9,449.8 544.5,449.4 545.1,448.4 545.7,450.8 546.3,446.9 546.9,448.5 547.5,443.6 548.1,445.8 548.7,443 549.3,431.3 549.9,443.3 550.5,447.7 551.1,451 551.7,454.1 552.3,452.5 552.9,455.4 553.5,460.8 554.1,459.6 554.7,460.9 555.3,464.4 555.9,455 556.5,459 557.1,463 557.7,457.4 558.3,463.7 558.9,452.4 559.5,459.3 560.1,460.8 560.7,457.5 561.3,454.2 561.9,453.4 562.5,451.2 563.1,453.1 563.7,448.6 564.3,447.7 564.9,451.5 565.5,433.7" fill="none" stroke="#0072BD" stroke-width="1.7" stroke-linejoin="round" />
<line x1="110.2" y1="376" x2="566.6" y2="376" stroke="#1a1a1a" stroke-width="1.3"/>
<line x1="110.2" y1="489.5" x2="566.6" y2="489.5" stroke="#1a1a1a" stroke-width="1.3"/>
<line x1="110.8" y1="376" x2="110.8" y2="489.5" stroke="#1668a6" stroke-width="1.3"/>
<line x1="566" y1="376" x2="566" y2="489.5" stroke="#a0714b" stroke-width="1.3"/>
<text x="110.8" y="513.1" font-size="20" text-anchor="middle" fill="#111" stroke="#111" stroke-width="0.35" font-family='"Liberation Sans", sans-serif' >0</text>
<line x1="186.7" y1="489.5" x2="186.7" y2="485" stroke="#1a1a1a" stroke-width="1.2"/>
<line x1="186.7" y1="376" x2="186.7" y2="380.5" stroke="#1a1a1a" stroke-width="1.2"/>
<text x="186.7" y="513.1" font-size="20" text-anchor="middle" fill="#111" stroke="#111" stroke-width="0.35" font-family='"Liberation Sans", sans-serif' >1000</text>
<line x1="262.5" y1="489.5" x2="262.5" y2="485" stroke="#1a1a1a" stroke-width="1.2"/>
<line x1="262.5" y1="376" x2="262.5" y2="380.5" stroke="#1a1a1a" stroke-width="1.2"/>
<text x="262.5" y="513.1" font-size="20" text-anchor="middle" fill="#111" stroke="#111" stroke-width="0.35" font-family='"Liberation Sans", sans-serif' >2000</text>
<line x1="338.4" y1="489.5" x2="338.4" y2="485" stroke="#1a1a1a" stroke-width="1.2"/>
<line x1="338.4" y1="376" x2="338.4" y2="380.5" stroke="#1a1a1a" stroke-width="1.2"/>
<text x="338.4" y="513.1" font-size="20" text-anchor="middle" fill="#111" stroke="#111" stroke-width="0.35" font-family='"Liberation Sans", sans-serif' >3000</text>
<line x1="414.3" y1="489.5" x2="414.3" y2="485" stroke="#1a1a1a" stroke-width="1.2"/>
<line x1="414.3" y1="376" x2="414.3" y2="380.5" stroke="#1a1a1a" stroke-width="1.2"/>
<text x="414.3" y="513.1" font-size="20" text-anchor="middle" fill="#111" stroke="#111" stroke-width="0.35" font-family='"Liberation Sans", sans-serif' >4000</text>
<line x1="490.1" y1="489.5" x2="490.1" y2="485" stroke="#1a1a1a" stroke-width="1.2"/>
<line x1="490.1" y1="376" x2="490.1" y2="380.5" stroke="#1a1a1a" stroke-width="1.2"/>
<text x="490.1" y="513.1" font-size="20" text-anchor="middle" fill="#111" stroke="#111" stroke-width="0.35" font-family='"Liberation Sans", sans-serif' >5000</text>
<text x="566" y="513.1" font-size="20" text-anchor="middle" fill="#111" stroke="#111" stroke-width="0.35" font-family='"Liberation Sans", sans-serif' >6000</text>
<text x="107.2" y="381" font-size="20" text-anchor="end" fill="#1668a6" stroke="#1668a6" stroke-width="0.35" font-family='"Liberation Sans", sans-serif' >140</text>
<line x1="110.8" y1="404.4" x2="115.3" y2="404.4" stroke="#1668a6" stroke-width="1.2"/>
<text x="107.2" y="409.4" font-size="20" text-anchor="end" fill="#1668a6" stroke="#1668a6" stroke-width="0.35" font-family='"Liberation Sans", sans-serif' >95</text>
<line x1="110.8" y1="432.8" x2="115.3" y2="432.8" stroke="#1668a6" stroke-width="1.2"/>
<text x="107.2" y="437.8" font-size="20" text-anchor="end" fill="#1668a6" stroke="#1668a6" stroke-width="0.35" font-family='"Liberation Sans", sans-serif' >50</text>
<line x1="110.8" y1="461.1" x2="115.3" y2="461.1" stroke="#1668a6" stroke-width="1.2"/>
<text x="107.2" y="466.1" font-size="20" text-anchor="end" fill="#1668a6" stroke="#1668a6" stroke-width="0.35" font-family='"Liberation Sans", sans-serif' >5</text>
<text x="107.2" y="494.5" font-size="20" text-anchor="end" fill="#1668a6" stroke="#1668a6" stroke-width="0.35" font-family='"Liberation Sans", sans-serif' >-40</text>
<text x="571.8" y="382.8" font-size="20.5" text-anchor="start" fill="#a0714b" stroke="#a0714b" stroke-width="0.35" font-family='"Liberation Sans", sans-serif' >600</text>
<line x1="566" y1="404.4" x2="561.5" y2="404.4" stroke="#a0714b" stroke-width="1.2"/>
<text x="571.8" y="411.2" font-size="20.5" text-anchor="start" fill="#a0714b" stroke="#a0714b" stroke-width="0.35" font-family='"Liberation Sans", sans-serif' >450</text>
<line x1="566" y1="432.8" x2="561.5" y2="432.8" stroke="#a0714b" stroke-width="1.2"/>
<text x="571.8" y="439.6" font-size="20.5" text-anchor="start" fill="#a0714b" stroke="#a0714b" stroke-width="0.35" font-family='"Liberation Sans", sans-serif' >300</text>
<line x1="566" y1="461.1" x2="561.5" y2="461.1" stroke="#a0714b" stroke-width="1.2"/>
<text x="571.8" y="467.9" font-size="20.5" text-anchor="start" fill="#a0714b" stroke="#a0714b" stroke-width="0.35" font-family='"Liberation Sans", sans-serif' >150</text>
<text x="571.8" y="496.3" font-size="20.5" text-anchor="start" fill="#a0714b" stroke="#a0714b" stroke-width="0.35" font-family='"Liberation Sans", sans-serif' >0</text>
<path d="M660,489.5 L660,489.1 L660.5,488.5 L661,488 L661.5,487.4 L662,486.8 L662.5,486.3 L663,485.7 L663.5,485.2 L664,484.6 L664.5,484.1 L665,483.6 L665.5,483.1 L666,482.6 L666.5,482.1 L667,481.6 L667.5,481.1 L668,480.7 L668.5,480.2 L669,479.8 L669.5,479.3 L670,478.9 L670.5,478.5 L671,478 L671.5,477.6 L672,477.2 L672.5,476.9 L673,476.5 L673.5,476.1 L674,475.7 L674.5,475.4 L675,475 L675.5,474.7 L676,474.4 L676.5,474 L677,473.7 L677.5,473.4 L678,473.1 L678.5,472.9 L679,472.6 L679.5,472.3 L680,472.1 L680.5,471.8 L681,471.6 L681.5,471.4 L682,471.2 L682.5,471 L683,470.8 L683.5,470.6 L684,470.4 L684.5,470.2 L685,470.1 L685.5,470 L686,469.8 L686.5,469.7 L687,469.6 L687.5,469.5 L688,469.4 L688.5,469.4 L689,469.3 L689.5,469.3 L690,469.3 L690.5,469.7 L691,470.6 L691.5,471.4 L692,472.2 L692.5,473 L693,473.8 L693.5,474.6 L694,475.4 L694.5,476 L695,475.5 L695.5,475 L696,474.5 L696.5,474 L697,473.5 L697.5,473.1 L698,472.6 L698.5,472.2 L699,471.7 L699.5,471.3 L700,470.9 L700.5,470.5 L701,470.1 L701.5,469.7 L702,469.3 L702.5,468.9 L703,468.6 L703.5,468.2 L704,467.9 L704.5,467.6 L705,467.2 L705.5,466.9 L706,466.6 L706.5,466.3 L707,466 L707.5,465.8 L708,465.5 L708.5,465.2 L709,465 L709.5,464.8 L710,464.6 L710.5,464.3 L711,464.1 L711.5,464 L712,463.8 L712.5,463.6 L713,463.5 L713.5,463.3 L714,463.2 L714.5,463.1 L715,463 L715.5,462.9 L716,462.8 L716.5,462.7 L717,462.7 L717.5,462.7 L718,462.6 L718.5,463.6 L719,464.5 L719.5,465.4 L720,466.3 L720.5,467.2 L721,468.1 L721.5,469.1 L722,470 L722.5,470.9 L723,471.8 L723.5,472.7 L724,473.7 L724.5,474.6 L725,475.2 L725.5,474.9 L726,474.6 L726.5,474.3 L727,474 L727.5,473.7 L728,473.4 L728.5,473.1 L729,472.8 L729.5,472.5 L730,472.3 L730.5,472 L731,471.8 L731.5,471.5 L732,471.3 L732.5,471.1 L733,470.8 L733.5,470.6 L734,470.4 L734.5,470.2 L735,470.1 L735.5,469.9 L736,469.7 L736.5,469.6 L737,469.4 L737.5,469.3 L738,469.2 L738.5,469.1 L739,469 L739.5,468.9 L740,468.8 L740.5,468.7 L741,468.6 L741.5,468.6 L742,468.5 L742.5,468.5 L743,468.5 L743.5,469.3 L744,470.2 L744.5,471 L745,471.9 L745.5,472.7 L746,473.6 L746.5,474.4 L747,475.3 L747.5,476.1 L748,477 L748.5,477.8 L749,478.7 L749.5,479.5 L750,480.4 L750.5,481.2 L751,482 L751.5,482.9 L752,483.7 L752.5,484.6 L753,485.4 L753.5,486.3 L754,487.1 L754.5,488 L755,488.8 L755.5,489.5 L756,489.5 L756.5,489.5 L757,489.5 L757.5,489.5 L758,489.5 L758.5,489.5 L759,489.5 L759.5,489.5 L760,489.5 L760.5,489.5 L761,489.5 L761.5,489 L762,488.4 L762.5,487.9 L763,487.4 L763.5,486.9 L764,486.3 L764.5,485.8 L765,485.3 L765.5,484.8 L766,484.3 L766.5,483.8 L767,483.4 L767.5,482.9 L768,482.4 L768.5,481.9 L769,481.5 L769.5,481 L770,480.6 L770.5,480.1 L771,479.7 L771.5,479.2 L772,478.8 L772.5,478.4 L773,478 L773.5,477.5 L774,477.1 L774.5,476.7 L775,476.3 L775.5,475.9 L776,475.6 L776.5,475.2 L777,474.8 L777.5,474.4 L778,474.1 L778.5,473.7 L779,473.3 L779.5,473 L780,472.7 L780.5,472.3 L781,472 L781.5,471.7 L782,471.3 L782.5,471 L783,470.7 L783.5,470.4 L784,470.1 L784.5,469.8 L785,469.5 L785.5,469.3 L786,469 L786.5,468.7 L787,468.5 L787.5,468.2 L788,468 L788.5,467.7 L789,467.5 L789.5,467.2 L790,467 L790.5,466.8 L791,466.6 L791.5,466.4 L792,466.2 L792.5,466 L793,465.8 L793.5,465.6 L794,465.5 L794.5,465.3 L795,465.1 L795.5,465 L796,464.8 L796.5,464.7 L797,464.6 L797.5,464.4 L798,464.3 L798.5,464.2 L799,464.1 L799.5,464 L800,463.9 L800.5,463.9 L801,463.8 L801.5,463.7 L802,463.7 L802.5,463.6 L803,463.6 L803.5,463.6 L804,463.6 L804.5,464.4 L805,465.2 L805.5,466 L806,466.9 L806.5,467.7 L807,468.5 L807.5,469.3 L808,470.1 L808.5,470.9 L809,471.7 L809.5,472.6 L810,473.4 L810.5,474.2 L811,475 L811.5,475.8 L812,476.6 L812.5,477.5 L813,478.3 L813.5,479.1 L814,479.9 L814.5,480.7 L815,481.5 L815.5,482.4 L816,483.2 L816.5,484 L817,484.8 L817.5,485.6 L818,486.3 L818.5,486.2 L819,486.1 L819.5,486 L820,485.9 L820.5,485.8 L821,485.7 L821.5,485.6 L822,485.5 L822.5,485.4 L823,485.3 L823.5,485.2 L824,485.1 L824.5,485 L825,484.8 L825.5,484.3 L826,483.8 L826.5,483.4 L827,482.9 L827.5,482.4 L828,482 L828.5,481.6 L829,481.1 L829.5,480.7 L830,480.3 L830.5,479.9 L831,479.5 L831.5,479.1 L832,478.7 L832.5,478.3 L833,477.9 L833.5,477.6 L834,477.2 L834.5,476.9 L835,476.5 L835.5,476.2 L836,475.8 L836.5,475.5 L837,475.2 L837.5,474.9 L838,474.6 L838.5,474.3 L839,474 L839.5,473.7 L840,473.4 L840.5,473.2 L841,472.9 L841.5,472.7 L842,472.4 L842.5,472.2 L843,472 L843.5,471.8 L844,471.5 L844.5,471.3 L845,471.1 L845.5,471 L846,470.8 L846.5,470.6 L847,470.5 L847.5,470.3 L848,470.2 L848.5,470 L849,469.9 L849.5,469.8 L850,469.7 L850.5,469.6 L851,469.5 L851.5,469.4 L852,469.4 L852.5,469.3 L853,469.3 L853.5,469.3 L854,469.3 L854.5,470.1 L855,471 L855.5,471.9 L856,472.8 L856.5,473.6 L857,474.5 L857.5,475.4 L858,476.3 L858.5,477.2 L859,478 L859.5,478.9 L860,479.8 L860.5,480.7 L861,481.5 L861.5,482.4 L862,483.3 L862.5,484.2 L863,485 L863.5,485.9 L864,486.8 L864.5,487.7 L865,488.6 L865.5,488 L866,487.5 L866.5,487 L867,486.4 L867.5,485.9 L868,485.4 L868.5,484.9 L869,484.4 L869.5,484 L870,483.5 L870.5,483 L871,482.6 L871.5,482.1 L872,481.7 L872.5,481.3 L873,480.9 L873.5,480.4 L874,480 L874.5,479.7 L875,479.3 L875.5,478.9 L876,478.5 L876.5,478.2 L877,477.8 L877.5,477.5 L878,477.1 L878.5,476.8 L879,476.5 L879.5,476.2 L880,475.9 L880.5,475.6 L881,475.3 L881.5,475 L882,474.8 L882.5,474.5 L883,474.3 L883.5,474.1 L884,473.8 L884.5,473.6 L885,473.4 L885.5,473.2 L886,473.1 L886.5,472.9 L887,472.7 L887.5,472.6 L888,472.4 L888.5,472.3 L889,472.2 L889.5,472.1 L890,472 L890.5,471.9 L891,471.8 L891.5,471.8 L892,471.7 L892.5,471.7 L893,472.1 L893.5,473 L894,473.9 L894.5,474.9 L895,475.8 L895.5,476.7 L896,477.6 L896.5,478.5 L897,479.5 L897.5,480.4 L898,481.3 L898.5,482.2 L899,483.2 L899.5,484.1 L900,485 L900.5,485.9 L901,486.9 L901.5,486.6 L902,486 L902.5,485.5 L903,484.9 L903.5,484.4 L904,483.8 L904.5,483.3 L905,482.8 L905.5,482.3 L906,481.8 L906.5,481.3 L907,480.8 L907.5,480.4 L908,479.9 L908.5,479.5 L909,479.1 L909.5,478.6 L910,478.2 L910.5,477.8 L911,477.4 L911.5,477 L912,476.7 L912.5,476.3 L913,476 L913.5,475.6 L914,475.3 L914.5,475 L915,474.7 L915.5,474.4 L916,474.1 L916.5,473.8 L917,473.5 L917.5,473.3 L918,473 L918.5,472.8 L919,472.6 L919.5,472.4 L920,472.2 L920.5,472 L921,471.9 L921.5,471.7 L922,471.6 L922.5,471.4 L923,471.3 L923.5,471.2 L924,471.1 L924.5,471.1 L925,471 L925.5,471 L926,471 L926.5,471.7 L927,472.4 L927.5,473.1 L928,473.8 L928.5,474.5 L929,475.2 L929.5,476 L930,476.7 L930.5,477.4 L931,478.1 L931.5,478.8 L932,479.5 L932.5,480.2 L933,481 L933.5,481.7 L934,482.4 L934.5,483.1 L935,483.8 L935.5,484.5 L936,484.7 L936.5,484.2 L937,483.6 L937.5,483.1 L938,482.5 L938.5,482 L939,481.5 L939.5,481 L940,480.5 L940.5,480 L941,479.5 L941.5,479.1 L942,478.6 L942.5,478.2 L943,477.8 L943.5,477.4 L944,477 L944.5,476.6 L945,476.2 L945.5,475.8 L946,475.5 L946.5,475.1 L947,474.8 L947.5,474.5 L948,474.1 L948.5,473.9 L949,473.6 L949.5,473.3 L950,473 L950.5,472.8 L951,472.5 L951.5,472.3 L952,472.1 L952.5,471.9 L953,471.7 L953.5,471.6 L954,471.4 L954.5,471.3 L955,471.2 L955.5,471.1 L956,471 L956.5,470.9 L957,470.8 L957.5,470.8 L958,470.8 L958.5,471.5 L959,472.2 L959.5,473 L960,473.7 L960.5,474.4 L961,475.2 L961.5,475.9 L962,476.6 L962.5,477.4 L963,478.1 L963.5,478.8 L964,479.5 L964.5,480.3 L965,481 L965.5,481.7 L966,482.5 L966.5,483.2 L967,483.9 L967.5,484.7 L968,484.6 L968.5,484 L969,483.4 L969.5,482.8 L970,482.3 L970.5,481.7 L971,481.2 L971.5,480.6 L972,480.1 L972.5,479.6 L973,479.1 L973.5,478.6 L974,478.2 L974.5,477.7 L975,477.3 L975.5,476.9 L976,476.4 L976.5,476 L977,475.7 L977.5,475.3 L978,474.9 L978.5,474.6 L979,474.2 L979.5,473.9 L980,473.6 L980.5,473.3 L981,473 L981.5,472.8 L982,472.5 L982.5,472.3 L983,472.1 L983.5,471.9 L984,471.7 L984.5,471.5 L985,471.3 L985.5,471.2 L986,471.1 L986.5,471 L987,470.9 L987.5,470.8 L988,470.8 L988.5,470.8 L989,471.3 L989.5,471.7 L990,472.2 L990.5,472.7 L991,473.2 L991.5,473.7 L992,474.2 L992.5,474.7 L993,475.1 L993.5,475.6 L994,476.1 L994.5,476.6 L995,477.1 L995.5,477.6 L996,478.1 L996.5,478.5 L997,479 L997.5,479.5 L998,480 L998.5,480.5 L999,481 L999.5,481.5 L1000,481.1 L1000.5,480.6 L1001,480.1 L1001.5,479.6 L1002,479.1 L1002.5,478.6 L1003,478.2 L1003.5,477.7 L1004,477.3 L1004.5,476.8 L1005,476.4 L1005.5,476 L1006,475.6 L1006.5,475.2 L1007,474.8 L1007.5,474.4 L1008,474 L1008.5,473.7 L1009,473.3 L1009.5,473 L1010,472.7 L1010.5,472.4 L1011,472.1 L1011.5,471.8 L1012,471.5 L1012.5,471.2 L1013,471 L1013.5,470.7 L1014,470.5 L1014.5,470.3 L1015,470.1 L1015.5,469.9 L1016,469.7 L1016.5,469.5 L1017,469.3 L1017.5,469.2 L1018,469 L1018.5,468.9 L1019,468.8 L1019.5,468.7 L1020,468.6 L1020.5,468.6 L1021,468.5 L1021.5,468.5 L1022,468.8 L1022.5,469.6 L1023,470.4 L1023.5,471.2 L1024,471.9 L1024.5,472.7 L1025,473.5 L1025.5,474.3 L1026,475.1 L1026.5,475.8 L1027,476.6 L1027.5,477.4 L1028,478.2 L1028.5,479 L1029,479 L1029.5,478.5 L1030,477.9 L1030.5,477.4 L1031,477 L1031.5,476.5 L1032,476 L1032.5,475.5 L1033,475.1 L1033.5,474.6 L1034,474.2 L1034.5,473.7 L1035,473.3 L1035.5,472.9 L1036,472.5 L1036.5,472.1 L1037,471.7 L1037.5,471.3 L1038,470.9 L1038.5,470.6 L1039,470.2 L1039.5,469.9 L1040,469.5 L1040.5,469.2 L1041,468.9 L1041.5,468.6 L1042,468.3 L1042.5,468 L1043,467.7 L1043.5,467.4 L1044,467.2 L1044.5,466.9 L1045,466.7 L1045.5,466.4 L1046,466.2 L1046.5,466 L1047,465.8 L1047.5,465.6 L1048,465.4 L1048.5,465.2 L1049,465 L1049.5,464.9 L1050,464.7 L1050.5,464.6 L1051,464.5 L1051.5,464.4 L1052,464.3 L1052.5,464.2 L1053,464.1 L1053.5,464.1 L1054,464 L1054.5,464 L1055,464 L1055.5,464 L1056,464 L1056.5,463.4 L1057,462.9 L1057.5,462.4 L1058,462 L1058.5,461.5 L1059,461 L1059.5,460.6 L1060,460.1 L1060.5,459.7 L1061,459.3 L1061.5,458.9 L1062,458.5 L1062.5,458.1 L1063,457.8 L1063.5,457.4 L1064,457.1 L1064.5,456.7 L1065,456.4 L1065.5,456.1 L1066,455.8 L1066.5,455.6 L1067,455.3 L1067.5,455.1 L1068,454.8 L1068.5,454.6 L1069,454.4 L1069.5,454.2 L1070,454 L1070.5,453.9 L1071,453.7 L1071.5,453.6 L1072,453.5 L1072.5,453.4 L1073,453.3 L1073.5,453.2 L1074,453.2 L1074.5,453.2 L1075,453.4 L1075.5,453.7 L1076,453.9 L1076.5,454.2 L1077,454.4 L1077.5,454.6 L1078,454.9 L1078.5,455.1 L1079,455.4 L1079.5,455.6 L1080,455.9 L1080.5,456.1 L1081,456.3 L1081.5,456.6 L1082,457.5 L1082.5,458.4 L1083,459.3 L1083.5,460.2 L1084,461.2 L1084.5,462.1 L1085,463 L1085.5,463.9 L1086,464.8 L1086.5,465.7 L1087,466.6 L1087.5,467.6 L1088,468.5 L1088.5,469.4 L1089,470.3 L1089.5,471.2 L1090,472.1 L1090.5,473 L1091,474 L1091.5,474.9 L1092,475.8 L1092.5,476.7 L1093,477.6 L1093.5,478.5 L1094,479.4 L1094.5,480.4 L1095,481.3 L1095.5,482.2 L1096,483.1 L1096.5,484 L1097,484.9 L1097.5,485.8 L1098,486.8 L1098.5,487.7 L1099,488.6 L1099.5,489.5 L1100,489.5 L1100.5,489.5 L1101,489.5 L1101.5,489.5 L1102,489.5 L1102.5,489.5 L1103,489.5 L1103.5,489.5 L1104,489.5 L1104.5,489.5 L1105,489.5 L1105.5,489.5 L1106,489.5 L1106.5,489.5 L1107,489.5 L1107.5,489.5 L1108,489.5 L1108.5,489.5 L1109,489.5 L1109.5,489.5 L1110,489.5 L1110.5,489.5 L1111,489.5 L1111.5,489.5 L1112,489.5 L1112.5,489.5 L1113,489.5 L1113.5,489.5 L1114,489.5 L1114.5,489.5 L1115,489.5 L1115.5,489.5 L1116,489.5 L1116,489.5 Z" fill="#ab6c3e" stroke="none"/>
<path d="M660,489.1 L660.5,488.5 L661,488 L661.5,487.4 L662,486.8 L662.5,486.3 L663,485.7 L663.5,485.2 L664,484.6 L664.5,484.1 L665,483.6 L665.5,483.1 L666,482.6 L666.5,482.1 L667,481.6 L667.5,481.1 L668,480.7 L668.5,480.2 L669,479.8 L669.5,479.3 L670,478.9 L670.5,478.5 L671,478 L671.5,477.6 L672,477.2 L672.5,476.9 L673,476.5 L673.5,476.1 L674,475.7 L674.5,475.4 L675,475 L675.5,474.7 L676,474.4 L676.5,474 L677,473.7 L677.5,473.4 L678,473.1 L678.5,472.9 L679,472.6 L679.5,472.3 L680,472.1 L680.5,471.8 L681,471.6 L681.5,471.4 L682,471.2 L682.5,471 L683,470.8 L683.5,470.6 L684,470.4 L684.5,470.2 L685,470.1 L685.5,470 L686,469.8 L686.5,469.7 L687,469.6 L687.5,469.5 L688,469.4 L688.5,469.4 L689,469.3 L689.5,469.3 L690,469.3 L690.5,469.7 L691,470.6 L691.5,471.4 L692,472.2 L692.5,473 L693,473.8 L693.5,474.6 L694,475.4 L694.5,476 L695,475.5 L695.5,475 L696,474.5 L696.5,474 L697,473.5 L697.5,473.1 L698,472.6 L698.5,472.2 L699,471.7 L699.5,471.3 L700,470.9 L700.5,470.5 L701,470.1 L701.5,469.7 L702,469.3 L702.5,468.9 L703,468.6 L703.5,468.2 L704,467.9 L704.5,467.6 L705,467.2 L705.5,466.9 L706,466.6 L706.5,466.3 L707,466 L707.5,465.8 L708,465.5 L708.5,465.2 L709,465 L709.5,464.8 L710,464.6 L710.5,464.3 L711,464.1 L711.5,464 L712,463.8 L712.5,463.6 L713,463.5 L713.5,463.3 L714,463.2 L714.5,463.1 L715,463 L715.5,462.9 L716,462.8 L716.5,462.7 L717,462.7 L717.5,462.7 L718,462.6 L718.5,463.6 L719,464.5 L719.5,465.4 L720,466.3 L720.5,467.2 L721,468.1 L721.5,469.1 L722,470 L722.5,470.9 L723,471.8 L723.5,472.7 L724,473.7 L724.5,474.6 L725,475.2 L725.5,474.9 L726,474.6 L726.5,474.3 L727,474 L727.5,473.7 L728,473.4 L728.5,473.1 L729,472.8 L729.5,472.5 L730,472.3 L730.5,472 L731,471.8 L731.5,471.5 L732,471.3 L732.5,471.1 L733,470.8 L733.5,470.6 L734,470.4 L734.5,470.2 L735,470.1 L735.5,469.9 L736,469.7 L736.5,469.6 L737,469.4 L737.5,469.3 L738,469.2 L738.5,469.1 L739,469 L739.5,468.9 L740,468.8 L740.5,468.7 L741,468.6 L741.5,468.6 L742,468.5 L742.5,468.5 L743,468.5 L743.5,469.3 L744,470.2 L744.5,471 L745,471.9 L745.5,472.7 L746,473.6 L746.5,474.4 L747,475.3 L747.5,476.1 L748,477 L748.5,477.8 L749,478.7 L749.5,479.5 L750,480.4 L750.5,481.2 L751,482 L751.5,482.9 L752,483.7 L752.5,484.6 L753,485.4 L753.5,486.3 L754,487.1 L754.5,488 L755,488.8 L755.5,489.5 L756,489.5 L756.5,489.5 L757,489.5 L757.5,489.5 L758,489.5 L758.5,489.5 L759,489.5 L759.5,489.5 L760,489.5 L760.5,489.5 L761,489.5 L761.5,489 L762,488.4 L762.5,487.9 L763,487.4 L763.5,486.9 L764,486.3 L764.5,485.8 L765,485.3 L765.5,484.8 L766,484.3 L766.5,483.8 L767,483.4 L767.5,482.9 L768,482.4 L768.5,481.9 L769,481.5 L769.5,481 L770,480.6 L770.5,480.1 L771,479.7 L771.5,479.2 L772,478.8 L772.5,478.4 L773,478 L773.5,477.5 L774,477.1 L774.5,476.7 L775,476.3 L775.5,475.9 L776,475.6 L776.5,475.2 L777,474.8 L777.5,474.4 L778,474.1 L778.5,473.7 L779,473.3 L779.5,473 L780,472.7 L780.5,472.3 L781,472 L781.5,471.7 L782,471.3 L782.5,471 L783,470.7 L783.5,470.4 L784,470.1 L784.5,469.8 L785,469.5 L785.5,469.3 L786,469 L786.5,468.7 L787,468.5 L787.5,468.2 L788,468 L788.5,467.7 L789,467.5 L789.5,467.2 L790,467 L790.5,466.8 L791,466.6 L791.5,466.4 L792,466.2 L792.5,466 L793,465.8 L793.5,465.6 L794,465.5 L794.5,465.3 L795,465.1 L795.5,465 L796,464.8 L796.5,464.7 L797,464.6 L797.5,464.4 L798,464.3 L798.5,464.2 L799,464.1 L799.5,464 L800,463.9 L800.5,463.9 L801,463.8 L801.5,463.7 L802,463.7 L802.5,463.6 L803,463.6 L803.5,463.6 L804,463.6 L804.5,464.4 L805,465.2 L805.5,466 L806,466.9 L806.5,467.7 L807,468.5 L807.5,469.3 L808,470.1 L808.5,470.9 L809,471.7 L809.5,472.6 L810,473.4 L810.5,474.2 L811,475 L811.5,475.8 L812,476.6 L812.5,477.5 L813,478.3 L813.5,479.1 L814,479.9 L814.5,480.7 L815,481.5 L815.5,482.4 L816,483.2 L816.5,484 L817,484.8 L817.5,485.6 L818,486.3 L818.5,486.2 L819,486.1 L819.5,486 L820,485.9 L820.5,485.8 L821,485.7 L821.5,485.6 L822,485.5 L822.5,485.4 L823,485.3 L823.5,485.2 L824,485.1 L824.5,485 L825,484.8 L825.5,484.3 L826,483.8 L826.5,483.4 L827,482.9 L827.5,482.4 L828,482 L828.5,481.6 L829,481.1 L829.5,480.7 L830,480.3 L830.5,479.9 L831,479.5 L831.5,479.1 L832,478.7 L832.5,478.3 L833,477.9 L833.5,477.6 L834,477.2 L834.5,476.9 L835,476.5 L835.5,476.2 L836,475.8 L836.5,475.5 L837,475.2 L837.5,474.9 L838,474.6 L838.5,474.3 L839,474 L839.5,473.7 L840,473.4 L840.5,473.2 L841,472.9 L841.5,472.7 L842,472.4 L842.5,472.2 L843,472 L843.5,471.8 L844,471.5 L844.5,471.3 L845,471.1 L845.5,471 L846,470.8 L846.5,470.6 L847,470.5 L847.5,470.3 L848,470.2 L848.5,470 L849,469.9 L849.5,469.8 L850,469.7 L850.5,469.6 L851,469.5 L851.5,469.4 L852,469.4 L852.5,469.3 L853,469.3 L853.5,469.3 L854,469.3 L854.5,470.1 L855,471 L855.5,471.9 L856,472.8 L856.5,473.6 L857,474.5 L857.5,475.4 L858,476.3 L858.5,477.2 L859,478 L859.5,478.9 L860,479.8 L860.5,480.7 L861,481.5 L861.5,482.4 L862,483.3 L862.5,484.2 L863,485 L863.5,485.9 L864,486.8 L864.5,487.7 L865,488.6 L865.5,488 L866,487.5 L866.5,487 L867,486.4 L867.5,485.9 L868,485.4 L868.5,484.9 L869,484.4 L869.5,484 L870,483.5 L870.5,483 L871,482.6 L871.5,482.1 L872,481.7 L872.5,481.3 L873,480.9 L873.5,480.4 L874,480 L874.5,479.7 L875,479.3 L875.5,478.9 L876,478.5 L876.5,478.2 L877,477.8 L877.5,477.5 L878,477.1 L878.5,476.8 L879,476.5 L879.5,476.2 L880,475.9 L880.5,475.6 L881,475.3 L881.5,475 L882,474.8 L882.5,474.5 L883,474.3 L883.5,474.1 L884,473.8 L884.5,473.6 L885,473.4 L885.5,473.2 L886,473.1 L886.5,472.9 L887,472.7 L887.5,472.6 L888,472.4 L888.5,472.3 L889,472.2 L889.5,472.1 L890,472 L890.5,471.9 L891,471.8 L891.5,471.8 L892,471.7 L892.5,471.7 L893,472.1 L893.5,473 L894,473.9 L894.5,474.9 L895,475.8 L895.5,476.7 L896,477.6 L896.5,478.5 L897,479.5 L897.5,480.4 L898,481.3 L898.5,482.2 L899,483.2 L899.5,484.1 L900,485 L900.5,485.9 L901,486.9 L901.5,486.6 L902,486 L902.5,485.5 L903,484.9 L903.5,484.4 L904,483.8 L904.5,483.3 L905,482.8 L905.5,482.3 L906,481.8 L906.5,481.3 L907,480.8 L907.5,480.4 L908,479.9 L908.5,479.5 L909,479.1 L909.5,478.6 L910,478.2 L910.5,477.8 L911,477.4 L911.5,477 L912,476.7 L912.5,476.3 L913,476 L913.5,475.6 L914,475.3 L914.5,475 L915,474.7 L915.5,474.4 L916,474.1 L916.5,473.8 L917,473.5 L917.5,473.3 L918,473 L918.5,472.8 L919,472.6 L919.5,472.4 L920,472.2 L920.5,472 L921,471.9 L921.5,471.7 L922,471.6 L922.5,471.4 L923,471.3 L923.5,471.2 L924,471.1 L924.5,471.1 L925,471 L925.5,471 L926,471 L926.5,471.7 L927,472.4 L927.5,473.1 L928,473.8 L928.5,474.5 L929,475.2 L929.5,476 L930,476.7 L930.5,477.4 L931,478.1 L931.5,478.8 L932,479.5 L932.5,480.2 L933,481 L933.5,481.7 L934,482.4 L934.5,483.1 L935,483.8 L935.5,484.5 L936,484.7 L936.5,484.2 L937,483.6 L937.5,483.1 L938,482.5 L938.5,482 L939,481.5 L939.5,481 L940,480.5 L940.5,480 L941,479.5 L941.5,479.1 L942,478.6 L942.5,478.2 L943,477.8 L943.5,477.4 L944,477 L944.5,476.6 L945,476.2 L945.5,475.8 L946,475.5 L946.5,475.1 L947,474.8 L947.5,474.5 L948,474.1 L948.5,473.9 L949,473.6 L949.5,473.3 L950,473 L950.5,472.8 L951,472.5 L951.5,472.3 L952,472.1 L952.5,471.9 L953,471.7 L953.5,471.6 L954,471.4 L954.5,471.3 L955,471.2 L955.5,471.1 L956,471 L956.5,470.9 L957,470.8 L957.5,470.8 L958,470.8 L958.5,471.5 L959,472.2 L959.5,473 L960,473.7 L960.5,474.4 L961,475.2 L961.5,475.9 L962,476.6 L962.5,477.4 L963,478.1 L963.5,478.8 L964,479.5 L964.5,480.3 L965,481 L965.5,481.7 L966,482.5 L966.5,483.2 L967,483.9 L967.5,484.7 L968,484.6 L968.5,484 L969,483.4 L969.5,482.8 L970,482.3 L970.5,481.7 L971,481.2 L971.5,480.6 L972,480.1 L972.5,479.6 L973,479.1 L973.5,478.6 L974,478.2 L974.5,477.7 L975,477.3 L975.5,476.9 L976,476.4 L976.5,476 L977,475.7 L977.5,475.3 L978,474.9 L978.5,474.6 L979,474.2 L979.5,473.9 L980,473.6 L980.5,473.3 L981,473 L981.5,472.8 L982,472.5 L982.5,472.3 L983,472.1 L983.5,471.9 L984,471.7 L984.5,471.5 L985,471.3 L985.5,471.2 L986,471.1 L986.5,471 L987,470.9 L987.5,470.8 L988,470.8 L988.5,470.8 L989,471.3 L989.5,471.7 L990,472.2 L990.5,472.7 L991,473.2 L991.5,473.7 L992,474.2 L992.5,474.7 L993,475.1 L993.5,475.6 L994,476.1 L994.5,476.6 L995,477.1 L995.5,477.6 L996,478.1 L996.5,478.5 L997,479 L997.5,479.5 L998,480 L998.5,480.5 L999,481 L999.5,481.5 L1000,481.1 L1000.5,480.6 L1001,480.1 L1001.5,479.6 L1002,479.1 L1002.5,478.6 L1003,478.2 L1003.5,477.7 L1004,477.3 L1004.5,476.8 L1005,476.4 L1005.5,476 L1006,475.6 L1006.5,475.2 L1007,474.8 L1007.5,474.4 L1008,474 L1008.5,473.7 L1009,473.3 L1009.5,473 L1010,472.7 L1010.5,472.4 L1011,472.1 L1011.5,471.8 L1012,471.5 L1012.5,471.2 L1013,471 L1013.5,470.7 L1014,470.5 L1014.5,470.3 L1015,470.1 L1015.5,469.9 L1016,469.7 L1016.5,469.5 L1017,469.3 L1017.5,469.2 L1018,469 L1018.5,468.9 L1019,468.8 L1019.5,468.7 L1020,468.6 L1020.5,468.6 L1021,468.5 L1021.5,468.5 L1022,468.8 L1022.5,469.6 L1023,470.4 L1023.5,471.2 L1024,471.9 L1024.5,472.7 L1025,473.5 L1025.5,474.3 L1026,475.1 L1026.5,475.8 L1027,476.6 L1027.5,477.4 L1028,478.2 L1028.5,479 L1029,479 L1029.5,478.5 L1030,477.9 L1030.5,477.4 L1031,477 L1031.5,476.5 L1032,476 L1032.5,475.5 L1033,475.1 L1033.5,474.6 L1034,474.2 L1034.5,473.7 L1035,473.3 L1035.5,472.9 L1036,472.5 L1036.5,472.1 L1037,471.7 L1037.5,471.3 L1038,470.9 L1038.5,470.6 L1039,470.2 L1039.5,469.9 L1040,469.5 L1040.5,469.2 L1041,468.9 L1041.5,468.6 L1042,468.3 L1042.5,468 L1043,467.7 L1043.5,467.4 L1044,467.2 L1044.5,466.9 L1045,466.7 L1045.5,466.4 L1046,466.2 L1046.5,466 L1047,465.8 L1047.5,465.6 L1048,465.4 L1048.5,465.2 L1049,465 L1049.5,464.9 L1050,464.7 L1050.5,464.6 L1051,464.5 L1051.5,464.4 L1052,464.3 L1052.5,464.2 L1053,464.1 L1053.5,464.1 L1054,464 L1054.5,464 L1055,464 L1055.5,464 L1056,464 L1056.5,463.4 L1057,462.9 L1057.5,462.4 L1058,462 L1058.5,461.5 L1059,461 L1059.5,460.6 L1060,460.1 L1060.5,459.7 L1061,459.3 L1061.5,458.9 L1062,458.5 L1062.5,458.1 L1063,457.8 L1063.5,457.4 L1064,457.1 L1064.5,456.7 L1065,456.4 L1065.5,456.1 L1066,455.8 L1066.5,455.6 L1067,455.3 L1067.5,455.1 L1068,454.8 L1068.5,454.6 L1069,454.4 L1069.5,454.2 L1070,454 L1070.5,453.9 L1071,453.7 L1071.5,453.6 L1072,453.5 L1072.5,453.4 L1073,453.3 L1073.5,453.2 L1074,453.2 L1074.5,453.2 L1075,453.4 L1075.5,453.7 L1076,453.9 L1076.5,454.2 L1077,454.4 L1077.5,454.6 L1078,454.9 L1078.5,455.1 L1079,455.4 L1079.5,455.6 L1080,455.9 L1080.5,456.1 L1081,456.3 L1081.5,456.6 L1082,457.5 L1082.5,458.4 L1083,459.3 L1083.5,460.2 L1084,461.2 L1084.5,462.1 L1085,463 L1085.5,463.9 L1086,464.8 L1086.5,465.7 L1087,466.6 L1087.5,467.6 L1088,468.5 L1088.5,469.4 L1089,470.3 L1089.5,471.2 L1090,472.1 L1090.5,473 L1091,474 L1091.5,474.9 L1092,475.8 L1092.5,476.7 L1093,477.6 L1093.5,478.5 L1094,479.4 L1094.5,480.4 L1095,481.3 L1095.5,482.2 L1096,483.1 L1096.5,484 L1097,484.9 L1097.5,485.8 L1098,486.8 L1098.5,487.7 L1099,488.6 L1099.5,489.5 L1100,489.5 L1100.5,489.5 L1101,489.5 L1101.5,489.5 L1102,489.5 L1102.5,489.5 L1103,489.5 L1103.5,489.5 L1104,489.5 L1104.5,489.5 L1105,489.5 L1105.5,489.5 L1106,489.5 L1106.5,489.5 L1107,489.5 L1107.5,489.5 L1108,489.5 L1108.5,489.5 L1109,489.5 L1109.5,489.5 L1110,489.5 L1110.5,489.5 L1111,489.5 L1111.5,489.5 L1112,489.5 L1112.5,489.5 L1113,489.5 L1113.5,489.5 L1114,489.5 L1114.5,489.5 L1115,489.5 L1115.5,489.5 L1116,489.5" fill="none" stroke="#2b1a0e" stroke-width="1.1" stroke-linejoin="round"/>
<path d="M1040.2,489.5 L1070.6,451.7 L1101,489.5 Z" fill="#808080" stroke="#000" stroke-width="1.5" stroke-linejoin="miter"/>
<polyline points="660.5,438.2 661.1,447.9 661.7,447.4 662.3,457.5 662.9,454.8 663.5,455.6 664.1,463.2 664.7,458 665.3,458.5 665.9,454.1 666.5,462.1 667.1,460.6 667.7,455.2 668.3,457.7 668.9,457.9 669.5,456.2 670.1,454.1 670.7,451.5 671.3,452 671.9,455.1 672.5,455.5 673.1,450.5 673.7,448.9 674.3,455 674.9,452.5 675.5,459.1 676.1,457.2 676.7,454.8 677.3,456 677.9,451 678.5,453.1 679.1,448.2 679.7,449.6 680.3,451.9 680.9,453.5 681.5,451.4 682.1,454.1 682.7,447.7 683.3,447.4 683.9,448.4 684.5,446.1 685.1,446.9 685.7,445.2 686.3,451.1 686.9,445.3 687.5,448.2 688.1,443.4 688.7,447.6 689.3,434.8 689.9,444.9 690.5,440.2 691.1,445.2 691.7,452.4 692.3,451.3 692.9,457 693.5,456.2 694.1,453.2 694.7,461.1 695.3,464.1 695.9,461.2 696.5,463.5 697.1,457.4 697.7,454 698.3,456.9 698.9,457 699.5,464.7 700.1,453.4 700.7,458.3 701.3,457.6 701.9,449.4 702.5,450.9 703.1,460.2 703.7,457.4 704.3,459.4 704.9,458.4 705.5,453.4 706.1,447.3 706.7,443.9 707.3,451.6 707.9,452.5 708.5,454.8 709.1,454.7 709.7,446.1 710.3,454.8 710.9,452.2 711.5,452.7 712.1,443.5 712.7,446.3 713.3,446.6 713.9,448 714.5,445 715.1,448 715.7,448.5 716.3,448.4 716.9,439.2 717.5,450.1 718.1,446.6 718.7,439.3 719.3,444.9 719.9,448.7 720.5,455.1 721.1,456.9 721.7,459.4 722.3,458.9 722.9,460.2 723.5,457.8 724.1,457.6 724.7,459.8 725.3,462.6 725.9,459.8 726.5,457.7 727.1,463.7 727.7,459.8 728.3,458.9 728.9,457.2 729.5,458.9 730.1,459.7 730.7,457.2 731.3,456.8 731.9,453.2 732.5,461.1 733.1,459.7 733.7,461.9 734.3,454.8 734.9,449.5 735.5,459.2 736.1,457.4 736.7,456.1 737.3,457.1 737.9,457.7 738.5,457.4 739.1,447.5 739.7,453.5 740.3,447.7 740.9,449.3 741.5,455.5 742.1,447.4 742.7,451 743.3,446.3 743.9,453.4 744.5,454.5 745.1,454.3 745.7,453.8 746.3,456.9 746.9,458.2 747.5,463.6 748.1,464.6 748.7,465.7 749.3,458.4 749.9,459.2 750.5,459.2 751.1,457 751.7,459.1 752.3,466.4 752.9,459.4 753.5,460.5 754.1,454.6 754.7,459.4 755.3,455.4 755.9,461 756.5,461.9 757.1,465.6 757.7,463.4 758.3,463.3 758.9,458.9 759.5,458.7 760.1,460 760.7,464.5 761.3,460.8 761.9,464.6 762.5,458.7 763.1,456 763.7,458.4 764.3,456.4 764.9,456.4 765.5,461.8 766.1,459 766.7,460.8 767.3,463.5 767.9,464.7 768.5,457.5 769.1,461.9 769.7,459 770.3,458.9 770.9,458.5 771.5,453.2 772.1,455.5 772.7,457.5 773.3,458.5 773.9,454.3 774.5,454.5 775.1,456.3 775.7,457.7 776.3,456.1 776.9,456.9 777.5,451.9 778.1,453 778.7,454.7 779.3,454.6 779.9,453.3 780.5,457.5 781.1,450.4 781.7,448.4 782.3,454.7 782.9,460.1 783.5,454.9 784.1,457.1 784.7,450.6 785.3,451.8 785.9,449.8 786.5,452.8 787.1,457.4 787.7,449.5 788.3,456.1 788.9,447.3 789.5,449.3 790.1,452.6 790.7,456.7 791.3,456.3 791.9,450.1 792.5,450.2 793.1,446.7 793.7,454.2 794.3,446.9 794.9,447 795.5,443.8 796.1,447.5 796.7,445.8 797.3,452.1 797.9,446.6 798.5,446.2 799.1,442 799.7,443.1 800.3,449.4 800.9,445 801.5,442.4 802.1,446.8 802.7,442.5 803.3,436.8 803.9,446.2 804.5,444.7 805.1,454.2 805.7,452.1 806.3,458.4 806.9,460.5 807.5,460.3 808.1,461.9 808.7,458.6 809.3,459.8 809.9,464.8 810.5,457.7 811.1,464.2 811.7,457 812.3,461.2 812.9,458.6 813.5,468.9 814.1,461 814.7,462.1 815.3,460.5 815.9,464.3 816.5,455.2 817.1,458.8 817.7,464.8 818.3,456.6 818.9,457.7 819.5,459.5 820.1,455.9 820.7,459.8 821.3,463.7 821.9,462.4 822.5,461.3 823.1,459.4 823.7,459.5 824.3,458 824.9,461.5 825.5,462 826.1,462 826.7,455.1 827.3,461.2 827.9,459.6 828.5,455.7 829.1,453.1 829.7,454.8 830.3,458 830.9,452.1 831.5,454.9 832.1,458.1 832.7,460.4 833.3,455 833.9,453.5 834.5,453.6 835.1,458.9 835.7,457.5 836.3,451.6 836.9,447.8 837.5,449.6 838.1,455.7 838.7,452.1 839.3,454.8 839.9,453 840.5,453.2 841.1,454 841.7,453 842.3,449.7 842.9,452.3 843.5,459.2 844.1,448.9 844.7,449.2 845.3,452.1 845.9,447.8 846.5,444.9 847.1,444.2 847.7,448.5 848.3,451.3 848.9,451.3 849.5,448.8 850.1,450.6 850.7,445 851.3,449.1 851.9,445.6 852.5,446.8 853.1,435.6 853.7,449.2 854.3,446 854.9,453.6 855.5,449.3 856.1,448.7 856.7,454.3 857.3,453.8 857.9,462.9 858.5,462.3 859.1,461.8 859.7,461.9 860.3,460.8 860.9,460.5 861.5,455.9 862.1,460.4 862.7,459.2 863.3,459.3 863.9,461.4 864.5,460.8 865.1,458.9 865.7,458 866.3,462.6 866.9,463.4 867.5,463.5 868.1,463.4 868.7,462.8 869.3,460 869.9,459 870.5,458.8 871.1,456.2 871.7,456.2 872.3,456.8 872.9,457.1 873.5,456.2 874.1,456.4 874.7,460.7 875.3,458.6 875.9,457.8 876.5,457.3 877.1,456.3 877.7,453.7 878.3,456.4 878.9,454.3 879.5,451.4 880.1,451 880.7,458.6 881.3,452.6 881.9,452.7 882.5,451.1 883.1,445 883.7,448.5 884.3,455.2 884.9,453 885.5,450.8 886.1,451.3 886.7,449 887.3,452.3 887.9,447.4 888.5,445.8 889.1,447.4 889.7,447 890.3,445.5 890.9,445.1 891.5,439.7 892.1,440.6 892.7,451.4 893.3,450.6 893.9,450 894.5,450.9 895.1,456.6 895.7,452.6 896.3,458.9 896.9,458.4 897.5,463.9 898.1,465.6 898.7,455.5 899.3,461.7 899.9,457.5 900.5,456 901.1,457.1 901.7,458.7 902.3,462.2 902.9,454.8 903.5,461.2 904.1,465 904.7,462.3 905.3,463.7 905.9,460.2 906.5,457 907.1,460.7 907.7,461.1 908.3,462.9 908.9,466.4 909.5,460.3 910.1,456.8 910.7,456.3 911.3,446.7 911.9,447 912.5,452.5 913.1,452.2 913.7,456.4 914.3,453.9 914.9,459.1 915.5,458.4 916.1,456.5 916.7,453.9 917.3,453.8 917.9,453.6 918.5,447.7 919.1,451.6 919.7,450.8 920.3,448.8 920.9,453.3 921.5,452.6 922.1,448.5 922.7,450.1 923.3,445.7 923.9,447.6 924.5,443.7 925.1,441 925.7,449.4 926.3,450.9 926.9,450.2 927.5,447.5 928.1,459.2 928.7,457.1 929.3,462.2 929.9,461.9 930.5,463.7 931.1,467.7 931.7,463.1 932.3,465.5 932.9,458.1 933.5,465.2 934.1,459 934.7,457.6 935.3,456.5 935.9,460.1 936.5,464.2 937.1,456.3 937.7,461.7 938.3,459 938.9,462.7 939.5,459.2 940.1,460.7 940.7,458.3 941.3,460.5 941.9,461.9 942.5,455.6 943.1,455.2 943.7,450.2 944.3,456.1 944.9,457.8 945.5,454.5 946.1,458.2 946.7,449.3 947.3,449.4 947.9,450.5 948.5,451.9 949.1,452.6 949.7,451.4 950.3,450.3 950.9,451.7 951.5,447.5 952.1,444.2 952.7,445 953.3,454 953.9,443.1 954.5,446.9 955.1,450.9 955.7,448 956.3,444.3 956.9,435 957.5,447.8 958.1,448 958.7,446.7 959.3,450.7 959.9,451.4 960.5,456 961.1,460.8 961.7,459.1 962.3,456.8 962.9,460.8 963.5,465.1 964.1,459.7 964.7,459.1 965.3,464.1 965.9,457.8 966.5,464.1 967.1,460.1 967.7,462.7 968.3,461.1 968.9,463.3 969.5,452.7 970.1,455.4 970.7,454.1 971.3,460.7 971.9,455.6 972.5,456.5 973.1,454.1 973.7,456.2 974.3,462.1 974.9,457 975.5,456.5 976.1,454.8 976.7,451.9 977.3,450.3 977.9,457.2 978.5,454.7 979.1,457.6 979.7,447.9 980.3,447.9 980.9,445.5 981.5,447.7 982.1,454.1 982.7,452.8 983.3,451.4 983.9,450.7 984.5,451.5 985.1,447.9 985.7,449.5 986.3,447.6 986.9,441.9 987.5,433 988.1,448.6 988.7,444.4 989.3,447.6 989.9,448.3 990.5,450.1 991.1,458.1 991.7,456.6 992.3,458 992.9,454.1 993.5,461.7 994.1,456.2 994.7,455.2 995.3,462.7 995.9,463.7 996.5,457.8 997.1,464.6 997.7,464.3 998.3,459.7 998.9,462.6 999.5,455.8 1000.1,457 1000.7,457 1001.3,458.1 1001.9,462.6 1002.5,456 1003.1,456.1 1003.7,454.9 1004.3,456.7 1004.9,453.8 1005.5,457.9 1006.1,453.8 1006.7,452.4 1007.3,453.4 1007.9,455.3 1008.5,452.8 1009.1,454.8 1009.7,457.7 1010.3,449.7 1010.9,454.1 1011.5,456.6 1012.1,451.6 1012.7,449.1 1013.3,448.3 1013.9,452 1014.5,453.3 1015.1,451.5 1015.7,452.4 1016.3,454.7 1016.9,452 1017.5,446.5 1018.1,449.2 1018.7,450.9 1019.3,449.6 1019.9,446.8 1020.5,444.7 1021.1,439.7 1021.7,442.5 1022.3,449.1 1022.9,450.3 1023.5,453.5 1024.1,452.3 1024.7,457.6 1025.3,458.9 1025.9,461 1026.5,465.9 1027.1,461.1 1027.7,461.9 1028.3,455.5 1028.9,459.9 1029.5,456.8 1030.1,461.2 1030.7,459.7 1031.3,460.6 1031.9,459.5 1032.5,458.8 1033.1,461.3 1033.7,458.6 1034.3,457.9 1034.9,459 1035.5,456.5 1036.1,457.8 1036.7,457.4 1037.3,454.1 1037.9,454.7 1038.5,457.4 1039.1,457.1 1039.7,454.2 1040.3,453 1040.9,457 1041.5,455.6 1042.1,456.1 1042.7,452.3 1043.3,452.7 1043.9,456.7 1044.5,453.1 1045.1,453.3 1045.7,456.2 1046.3,453.8 1046.9,450.9 1047.5,448.9 1048.1,444.8 1048.7,450 1049.3,448.9 1049.9,449.1 1050.5,445.5 1051.1,445.6 1051.7,446.3 1052.3,445.4 1052.9,448.6 1053.5,444.6 1054.1,427.8 1054.7,442.4 1055.3,442.5 1055.9,447.4 1056.5,462.7 1057.1,458.6 1057.7,457.2 1058.3,458.8 1058.9,457.3 1059.5,456.3 1060.1,456.4 1060.7,458.4 1061.3,462.8 1061.9,454.7 1062.5,459.5 1063.1,459.4 1063.7,454.7 1064.3,454.1 1064.9,450.6 1065.5,451.7 1066.1,449.6 1066.7,444.7 1067.3,443.2 1067.9,440.4 1068.5,432.7 1069.1,411.1 1069.7,393.7 1070.3,380.1 1070.9,385.4 1071.5,398 1072.1,408.3 1072.7,413.4 1073.3,422.8 1073.9,417.5 1074.5,414.6 1075.1,418.3 1075.7,415.6 1076.3,423.7 1076.9,425.2 1077.5,432.3 1078.1,436.7 1078.7,444.1 1079.3,443.2 1079.9,433 1080.5,428.2 1081.1,422.9 1081.7,426 1082.3,436.8 1082.9,435.8 1083.5,438.1 1084.1,446.4 1084.7,446.8 1085.3,446 1085.9,447.1 1086.5,447.3 1087.1,443.4 1087.7,446.7 1088.3,445.2 1088.9,449.5 1089.5,449.1 1090.1,453.3 1090.7,452.6 1091.3,450.7 1091.9,452.7 1092.5,448.4 1093.1,451.2 1093.7,452.3 1094.3,452.4 1094.9,446.5 1095.5,450.6 1096.1,452.3 1096.7,450.7 1097.3,453.1 1097.9,446.2 1098.5,454 1099.1,453.3 1099.7,458.3 1100.3,456.4 1100.9,454.5 1101.5,449.5 1102.1,449.8 1102.7,448.6 1103.3,450 1103.9,457.9 1104.5,455.8 1105.1,452.4 1105.7,453.3 1106.3,456.6 1106.9,462.5 1107.5,461.5 1108.1,462.5 1108.7,457.2 1109.3,462.4 1109.9,462.3 1110.5,461.1 1111.1,462.8 1111.7,461.7 1112.3,466 1112.9,465.4 1113.5,460.9 1114.1,460.5 1114.7,468.8 1115.3,465.4 1115.9,469.9" fill="none" stroke="#0072BD" stroke-width="1.7" stroke-linejoin="round" />
<line x1="659.4" y1="376" x2="1116.8" y2="376" stroke="#1a1a1a" stroke-width="1.3"/>
<line x1="659.4" y1="489.5" x2="1116.8" y2="489.5" stroke="#1a1a1a" stroke-width="1.3"/>
<line x1="660" y1="376" x2="660" y2="489.5" stroke="#1668a6" stroke-width="1.3"/>
<line x1="1116.2" y1="376" x2="1116.2" y2="489.5" stroke="#a0714b" stroke-width="1.3"/>
<text x="660" y="513.1" font-size="20" text-anchor="middle" fill="#111" stroke="#111" stroke-width="0.35" font-family='"Liberation Sans", sans-serif' >0</text>
<line x1="736" y1="489.5" x2="736" y2="485" stroke="#1a1a1a" stroke-width="1.2"/>
<line x1="736" y1="376" x2="736" y2="380.5" stroke="#1a1a1a" stroke-width="1.2"/>
<text x="736" y="513.1" font-size="20" text-anchor="middle" fill="#111" stroke="#111" stroke-width="0.35" font-family='"Liberation Sans", sans-serif' >1000</text>
<line x1="812.1" y1="489.5" x2="812.1" y2="485" stroke="#1a1a1a" stroke-width="1.2"/>
<line x1="812.1" y1="376" x2="812.1" y2="380.5" stroke="#1a1a1a" stroke-width="1.2"/>
<text x="812.1" y="513.1" font-size="20" text-anchor="middle" fill="#111" stroke="#111" stroke-width="0.35" font-family='"Liberation Sans", sans-serif' >2000</text>
<line x1="888.1" y1="489.5" x2="888.1" y2="485" stroke="#1a1a1a" stroke-width="1.2"/>
<line x1="888.1" y1="376" x2="888.1" y2="380.5" stroke="#1a1a1a" stroke-width="1.2"/>
<text x="888.1" y="513.1" font-size="20" text-anchor="middle" fill="#111" stroke="#111" stroke-width="0.35" font-family='"Liberation Sans", sans-serif' >3000</text>
<line x1="964.1" y1="489.5" x2="964.1" y2="485" stroke="#1a1a1a" stroke-width="1.2"/>
<line x1="964.1" y1="376" x2="964.1" y2="380.5" stroke="#1a1a1a" stroke-width="1.2"/>
<text x="964.1" y="513.1" font-size="20" text-anchor="middle" fill="#111" stroke="#111" stroke-width="0.35" font-family='"Liberation Sans", sans-serif' >4000</text>
<line x1="1040.2" y1="489.5" x2="1040.2" y2="485" stroke="#1a1a1a" stroke-width="1.2"/>
<line x1="1040.2" y1="376" x2="1040.2" y2="380.5" stroke="#1a1a1a" stroke-width="1.2"/>
<text x="1040.2" y="513.1" font-size="20" text-anchor="middle" fill="#111" stroke="#111" stroke-width="0.35" font-family='"Liberation Sans", sans-serif' >5000</text>
<text x="1116.2" y="513.1" font-size="20" text-anchor="middle" fill="#111" stroke="#111" stroke-width="0.35" font-family='"Liberation Sans", sans-serif' >6000</text>
<text x="656.4" y="381" font-size="20" text-anchor="end" fill="#1668a6" stroke="#1668a6" stroke-width="0.35" font-family='"Liberation Sans", sans-serif' >140</text>
<line x1="660" y1="404.4" x2="664.5" y2="404.4" stroke="#1668a6" stroke-width="1.2"/>
<text x="656.4" y="409.4" font-size="20" text-anchor="end" fill="#1668a6" stroke="#1668a6" stroke-width="0.35" font-family='"Liberation Sans", sans-serif' >95</text>
<line x1="660" y1="432.8" x2="664.5" y2="432.8" stroke="#1668a6" stroke-width="1.2"/>
<text x="656.4" y="437.8" font-size="20" text-anchor="end" fill="#1668a6" stroke="#1668a6" stroke-width="0.35" font-family='"Liberation Sans", sans-serif' >50</text>
<line x1="660" y1="461.1" x2="664.5" y2="461.1" stroke="#1668a6" stroke-width="1.2"/>
<text x="656.4" y="466.1" font-size="20" text-anchor="end" fill="#1668a6" stroke="#1668a6" stroke-width="0.35" font-family='"Liberation Sans", sans-serif' >5</text>
<text x="656.4" y="494.5" font-size="20" text-anchor="end" fill="#1668a6" stroke="#1668a6" stroke-width="0.35" font-family='"Liberation Sans", sans-serif' >-40</text>
<text x="1122" y="382.8" font-size="20.5" text-anchor="start" fill="#a0714b" stroke="#a0714b" stroke-width="0.35" font-family='"Liberation Sans", sans-serif' >600</text>
<line x1="1116.2" y1="404.4" x2="1111.7" y2="404.4" stroke="#a0714b" stroke-width="1.2"/>
<text x="1122" y="411.2" font-size="20.5" text-anchor="start" fill="#a0714b" stroke="#a0714b" stroke-width="0.35" font-family='"Liberation Sans", sans-serif' >450</text>
<line x1="1116.2" y1="432.8" x2="1111.7" y2="432.8" stroke="#a0714b" stroke-width="1.2"/>
<text x="1122" y="439.6" font-size="20.5" text-anchor="start" fill="#a0714b" stroke="#a0714b" stroke-width="0.35" font-family='"Liberation Sans", sans-serif' >300</text>
<line x1="1116.2" y1="461.1" x2="1111.7" y2="461.1" stroke="#a0714b" stroke-width="1.2"/>
<text x="1122" y="467.9" font-size="20.5" text-anchor="start" fill="#a0714b" stroke="#a0714b" stroke-width="0.35" font-family='"Liberation Sans", sans-serif' >150</text>
<text x="1122" y="496.3" font-size="20.5" text-anchor="start" fill="#a0714b" stroke="#a0714b" stroke-width="0.35" font-family='"Liberation Sans", sans-serif' >0</text>
<path d="M1209.5,489.5 L1209.5,474.6 L1210,474 L1210.5,473.4 L1211,472.8 L1211.5,472.3 L1212,471.8 L1212.5,471.3 L1213,470.9 L1213.5,470.4 L1214,470 L1214.5,469.6 L1215,469.3 L1215.5,468.9 L1216,468.6 L1216.5,468.3 L1217,468.1 L1217.5,467.8 L1218,467.6 L1218.5,467.4 L1219,467.3 L1219.5,467.1 L1220,467.1 L1220.5,467 L1221,467.2 L1221.5,467.7 L1222,468.1 L1222.5,468.6 L1223,469.1 L1223.5,469.6 L1224,470.1 L1224.5,470.6 L1225,471 L1225.5,471.5 L1226,472 L1226.5,472.5 L1227,473 L1227.5,473.5 L1228,473.9 L1228.5,474.4 L1229,474.9 L1229.5,475.4 L1230,475.9 L1230.5,475.5 L1231,475.1 L1231.5,474.8 L1232,474.4 L1232.5,474.1 L1233,473.7 L1233.5,473.4 L1234,473 L1234.5,472.7 L1235,472.4 L1235.5,472.1 L1236,471.8 L1236.5,471.5 L1237,471.2 L1237.5,471 L1238,470.7 L1238.5,470.4 L1239,470.2 L1239.5,469.9 L1240,469.7 L1240.5,469.5 L1241,469.3 L1241.5,469 L1242,468.8 L1242.5,468.6 L1243,468.5 L1243.5,468.3 L1244,468.1 L1244.5,468 L1245,467.8 L1245.5,467.7 L1246,467.5 L1246.5,467.4 L1247,467.3 L1247.5,467.2 L1248,467.1 L1248.5,467 L1249,467 L1249.5,466.9 L1250,466.9 L1250.5,466.8 L1251,466.8 L1251.5,467.1 L1252,467.8 L1252.5,468.5 L1253,469.1 L1253.5,469.8 L1254,470.5 L1254.5,471.2 L1255,471.9 L1255.5,472.6 L1256,473.3 L1256.5,474 L1257,474.7 L1257.5,475.3 L1258,476 L1258.5,476.3 L1259,476 L1259.5,475.7 L1260,475.4 L1260.5,475.1 L1261,474.8 L1261.5,474.5 L1262,474.3 L1262.5,474 L1263,473.8 L1263.5,473.5 L1264,473.3 L1264.5,473.1 L1265,472.9 L1265.5,472.7 L1266,472.5 L1266.5,472.3 L1267,472.2 L1267.5,472 L1268,471.8 L1268.5,471.7 L1269,471.6 L1269.5,471.5 L1270,471.4 L1270.5,471.3 L1271,471.2 L1271.5,471.1 L1272,471 L1272.5,471 L1273,471 L1273.5,471 L1274,471.7 L1274.5,472.4 L1275,473.1 L1275.5,473.8 L1276,474.5 L1276.5,475.2 L1277,475.9 L1277.5,476.6 L1278,477.3 L1278.5,478.1 L1279,478.8 L1279.5,479.5 L1280,480.2 L1280.5,480.9 L1281,481.6 L1281.5,482.3 L1282,482.8 L1282.5,482.2 L1283,481.7 L1283.5,481.2 L1284,480.8 L1284.5,480.4 L1285,480 L1285.5,479.6 L1286,479.3 L1286.5,479 L1287,478.7 L1287.5,478.4 L1288,478.2 L1288.5,478.1 L1289,477.9 L1289.5,477.8 L1290,477.8 L1290.5,478.2 L1291,478.9 L1291.5,479.6 L1292,480.3 L1292.5,481 L1293,481.7 L1293.5,482.4 L1294,483.1 L1294.5,483.8 L1295,484.6 L1295.5,485.3 L1296,486 L1296.5,486.7 L1297,487.4 L1297.5,488.1 L1298,488.8 L1298.5,489.5 L1299,489.5 L1299.5,489.5 L1300,489.5 L1300.5,489.5 L1301,489.5 L1301.5,489.5 L1302,489.5 L1302.5,489.5 L1303,489.5 L1303.5,489.5 L1304,489.5 L1304.5,489.5 L1305,489.5 L1305.5,489.5 L1306,489.5 L1306.5,489.5 L1307,489.4 L1307.5,489 L1308,488.6 L1308.5,488.3 L1309,487.9 L1309.5,487.5 L1310,487.2 L1310.5,486.8 L1311,486.5 L1311.5,486.1 L1312,485.8 L1312.5,485.4 L1313,485.1 L1313.5,484.8 L1314,484.4 L1314.5,484.1 L1315,483.8 L1315.5,483.4 L1316,483.1 L1316.5,482.8 L1317,482.5 L1317.5,482.2 L1318,481.8 L1318.5,481.5 L1319,481.2 L1319.5,480.9 L1320,480.6 L1320.5,480.3 L1321,480 L1321.5,479.7 L1322,479.4 L1322.5,479.1 L1323,478.8 L1323.5,478.6 L1324,478.3 L1324.5,478 L1325,477.7 L1325.5,477.5 L1326,477.2 L1326.5,476.9 L1327,476.6 L1327.5,476.4 L1328,476.1 L1328.5,475.9 L1329,475.6 L1329.5,475.4 L1330,475.1 L1330.5,474.9 L1331,474.6 L1331.5,474.4 L1332,474.1 L1332.5,473.9 L1333,473.7 L1333.5,473.5 L1334,473.2 L1334.5,473 L1335,472.8 L1335.5,472.6 L1336,472.4 L1336.5,472.1 L1337,471.9 L1337.5,471.7 L1338,471.5 L1338.5,471.3 L1339,471.1 L1339.5,470.9 L1340,470.7 L1340.5,470.6 L1341,470.4 L1341.5,470.2 L1342,470 L1342.5,469.8 L1343,469.7 L1343.5,469.5 L1344,469.3 L1344.5,469.2 L1345,469 L1345.5,468.9 L1346,468.7 L1346.5,468.5 L1347,468.4 L1347.5,468.3 L1348,468.1 L1348.5,468 L1349,467.8 L1349.5,467.7 L1350,467.6 L1350.5,467.5 L1351,467.3 L1351.5,467.2 L1352,467.1 L1352.5,467 L1353,466.9 L1353.5,466.8 L1354,466.7 L1354.5,466.6 L1355,466.5 L1355.5,466.4 L1356,466.3 L1356.5,466.2 L1357,466.2 L1357.5,466.1 L1358,466 L1358.5,466 L1359,465.9 L1359.5,465.8 L1360,465.8 L1360.5,465.7 L1361,465.7 L1361.5,465.6 L1362,465.6 L1362.5,465.6 L1363,465.5 L1363.5,465.5 L1364,465.5 L1364.5,465.5 L1365,465.5 L1365.5,466.1 L1366,467 L1366.5,467.8 L1367,468.6 L1367.5,469.5 L1368,470.3 L1368.5,471.1 L1369,472 L1369.5,472.8 L1370,473.6 L1370.5,474.5 L1371,475.3 L1371.5,476.1 L1372,477 L1372.5,477.8 L1373,478.6 L1373.5,479.2 L1374,479 L1374.5,478.8 L1375,478.5 L1375.5,478.3 L1376,478.1 L1376.5,477.8 L1377,477.6 L1377.5,477.4 L1378,477.2 L1378.5,477 L1379,476.8 L1379.5,476.6 L1380,476.4 L1380.5,476.2 L1381,476 L1381.5,475.8 L1382,475.7 L1382.5,475.5 L1383,475.3 L1383.5,475.2 L1384,475 L1384.5,474.9 L1385,474.7 L1385.5,474.6 L1386,474.4 L1386.5,474.3 L1387,474.2 L1387.5,474 L1388,473.9 L1388.5,473.8 L1389,473.7 L1389.5,473.6 L1390,473.5 L1390.5,473.4 L1391,473.3 L1391.5,473.2 L1392,473.1 L1392.5,473.1 L1393,473 L1393.5,472.9 L1394,472.9 L1394.5,472.8 L1395,472.8 L1395.5,472.7 L1396,472.7 L1396.5,472.7 L1397,472.7 L1397.5,472.7 L1398,473.1 L1398.5,473.5 L1399,474 L1399.5,474.5 L1400,475 L1400.5,475.5 L1401,476 L1401.5,476.5 L1402,477 L1402.5,477.5 L1403,477.9 L1403.5,478.4 L1404,478.9 L1404.5,479.4 L1405,479.9 L1405.5,480.4 L1406,480.9 L1406.5,481.4 L1407,481.3 L1407.5,480.8 L1408,480.4 L1408.5,480 L1409,479.5 L1409.5,479.1 L1410,478.7 L1410.5,478.3 L1411,477.9 L1411.5,477.6 L1412,477.2 L1412.5,476.8 L1413,476.5 L1413.5,476.2 L1414,475.8 L1414.5,475.5 L1415,475.2 L1415.5,474.9 L1416,474.6 L1416.5,474.3 L1417,474.1 L1417.5,473.8 L1418,473.5 L1418.5,473.3 L1419,473.1 L1419.5,472.9 L1420,472.7 L1420.5,472.5 L1421,472.3 L1421.5,472.1 L1422,471.9 L1422.5,471.8 L1423,471.6 L1423.5,471.5 L1424,471.4 L1424.5,471.3 L1425,471.2 L1425.5,471.1 L1426,471.1 L1426.5,471 L1427,471 L1427.5,471 L1428,471.6 L1428.5,472.3 L1429,472.9 L1429.5,473.6 L1430,474.3 L1430.5,474.9 L1431,475.6 L1431.5,476.3 L1432,476.9 L1432.5,477.6 L1433,478.2 L1433.5,478.9 L1434,479.6 L1434.5,480.2 L1435,479.7 L1435.5,479.3 L1436,478.8 L1436.5,478.4 L1437,477.9 L1437.5,477.5 L1438,477.1 L1438.5,476.7 L1439,476.3 L1439.5,475.9 L1440,475.5 L1440.5,475.1 L1441,474.8 L1441.5,474.4 L1442,474.1 L1442.5,473.8 L1443,473.5 L1443.5,473.2 L1444,472.9 L1444.5,472.7 L1445,472.4 L1445.5,472.2 L1446,472 L1446.5,471.8 L1447,471.6 L1447.5,471.4 L1448,471.2 L1448.5,471.1 L1449,470.9 L1449.5,470.8 L1450,470.7 L1450.5,470.6 L1451,470.5 L1451.5,470.4 L1452,470.4 L1452.5,470.4 L1453,471 L1453.5,471.7 L1454,472.3 L1454.5,473 L1455,473.6 L1455.5,474.3 L1456,474.9 L1456.5,475.5 L1457,476.2 L1457.5,476.8 L1458,477.5 L1458.5,478.1 L1459,478.8 L1459.5,479.2 L1460,478.8 L1460.5,478.3 L1461,477.9 L1461.5,477.5 L1462,477.1 L1462.5,476.7 L1463,476.3 L1463.5,476 L1464,475.6 L1464.5,475.3 L1465,475 L1465.5,474.6 L1466,474.3 L1466.5,474 L1467,473.8 L1467.5,473.5 L1468,473.2 L1468.5,473 L1469,472.7 L1469.5,472.5 L1470,472.3 L1470.5,472.1 L1471,471.9 L1471.5,471.8 L1472,471.6 L1472.5,471.5 L1473,471.4 L1473.5,471.3 L1474,471.2 L1474.5,471.1 L1475,471 L1475.5,471 L1476,471 L1476.5,471.5 L1477,472.2 L1477.5,472.8 L1478,473.5 L1478.5,474.2 L1479,474.9 L1479.5,475.5 L1480,476.2 L1480.5,476.9 L1481,477.5 L1481.5,478.2 L1482,478.9 L1482.5,479.6 L1483,480.2 L1483.5,479.7 L1484,479.3 L1484.5,478.8 L1485,478.3 L1485.5,477.9 L1486,477.5 L1486.5,477 L1487,476.6 L1487.5,476.2 L1488,475.8 L1488.5,475.5 L1489,475.1 L1489.5,474.8 L1490,474.4 L1490.5,474.1 L1491,473.8 L1491.5,473.5 L1492,473.3 L1492.5,473 L1493,472.8 L1493.5,472.5 L1494,472.3 L1494.5,472.1 L1495,471.9 L1495.5,471.7 L1496,471.6 L1496.5,471.4 L1497,471.3 L1497.5,471.2 L1498,471.1 L1498.5,471 L1499,471 L1499.5,471 L1500,471.5 L1500.5,472.3 L1501,473.2 L1501.5,474 L1502,474.8 L1502.5,475.7 L1503,476.5 L1503.5,477.4 L1504,478.2 L1504.5,479.1 L1505,479.9 L1505.5,479.9 L1506,479.3 L1506.5,478.7 L1507,478.2 L1507.5,477.7 L1508,477.1 L1508.5,476.7 L1509,476.2 L1509.5,475.7 L1510,475.3 L1510.5,474.9 L1511,474.5 L1511.5,474.1 L1512,473.7 L1512.5,473.4 L1513,473.1 L1513.5,472.8 L1514,472.5 L1514.5,472.2 L1515,472 L1515.5,471.8 L1516,471.6 L1516.5,471.4 L1517,471.3 L1517.5,471.2 L1518,471.1 L1518.5,471 L1519,471 L1519.5,471.5 L1520,472.2 L1520.5,472.8 L1521,473.5 L1521.5,474.2 L1522,474.9 L1522.5,475.5 L1523,476.2 L1523.5,476.9 L1524,477.5 L1524.5,478.2 L1525,478.9 L1525.5,479.6 L1526,480.2 L1526.5,479.7 L1527,479.1 L1527.5,478.5 L1528,478 L1528.5,477.5 L1529,477 L1529.5,476.5 L1530,476.1 L1530.5,475.6 L1531,475.2 L1531.5,474.8 L1532,474.4 L1532.5,474.1 L1533,473.7 L1533.5,473.4 L1534,473.1 L1534.5,472.8 L1535,472.5 L1535.5,472.3 L1536,472.1 L1536.5,471.9 L1537,471.7 L1537.5,471.5 L1538,471.4 L1538.5,471.3 L1539,471.2 L1539.5,471.2 L1540,471.3 L1540.5,471.9 L1541,472.6 L1541.5,473.3 L1542,473.9 L1542.5,474.6 L1543,475.2 L1543.5,475.9 L1544,476.5 L1544.5,477.2 L1545,477.9 L1545.5,478.5 L1546,479.2 L1546.5,479.8 L1547,480 L1547.5,479.5 L1548,479 L1548.5,478.5 L1549,478 L1549.5,477.5 L1550,477 L1550.5,476.6 L1551,476.2 L1551.5,475.7 L1552,475.4 L1552.5,475 L1553,474.6 L1553.5,474.2 L1554,473.9 L1554.5,473.6 L1555,473.3 L1555.5,473 L1556,472.7 L1556.5,472.5 L1557,472.2 L1557.5,472 L1558,471.8 L1558.5,471.6 L1559,471.5 L1559.5,471.3 L1560,471.2 L1560.5,471.1 L1561,471 L1561.5,471 L1562,471 L1562.5,471.5 L1563,472.2 L1563.5,472.8 L1564,473.5 L1564.5,474.2 L1565,474.9 L1565.5,475.5 L1566,476.2 L1566.5,476.9 L1567,477.5 L1567.5,478.2 L1568,478.9 L1568.5,479.6 L1569,480.2 L1569.5,479.7 L1570,479.2 L1570.5,478.6 L1571,478.2 L1571.5,477.7 L1572,477.2 L1572.5,476.8 L1573,476.3 L1573.5,475.9 L1574,475.5 L1574.5,475.2 L1575,474.8 L1575.5,474.5 L1576,474.1 L1576.5,473.8 L1577,473.5 L1577.5,473.3 L1578,473 L1578.5,472.8 L1579,472.6 L1579.5,472.4 L1580,472.2 L1580.5,472.1 L1581,472 L1581.5,471.9 L1582,471.8 L1582.5,471.7 L1583,471.9 L1583.5,472.6 L1584,473.4 L1584.5,474.2 L1585,474.9 L1585.5,475.7 L1586,476.4 L1586.5,477.2 L1587,478 L1587.5,478.7 L1588,479.5 L1588.5,480.2 L1589,479.7 L1589.5,479.2 L1590,478.7 L1590.5,478.2 L1591,477.7 L1591.5,477.3 L1592,476.8 L1592.5,476.4 L1593,476 L1593.5,475.6 L1594,475.2 L1594.5,474.8 L1595,474.5 L1595.5,474.1 L1596,473.8 L1596.5,473.5 L1597,473.2 L1597.5,473 L1598,472.7 L1598.5,472.5 L1599,472.2 L1599.5,472 L1600,471.9 L1600.5,471.7 L1601,471.6 L1601.5,471.4 L1602,471.3 L1602.5,471.2 L1603,471.2 L1603.5,471.2 L1604,471.6 L1604.5,472.4 L1605,473.3 L1605.5,474.1 L1606,474.9 L1606.5,475.7 L1607,476.5 L1607.5,477.3 L1608,478.1 L1608.5,478.9 L1609,479.7 L1609.5,480 L1610,479.5 L1610.5,479.1 L1611,478.6 L1611.5,478.1 L1612,477.7 L1612.5,477.3 L1613,476.9 L1613.5,476.5 L1614,476.1 L1614.5,475.7 L1615,475.4 L1615.5,475 L1616,474.7 L1616.5,474.4 L1617,474.1 L1617.5,473.8 L1618,473.6 L1618.5,473.3 L1619,473.1 L1619.5,472.9 L1620,472.7 L1620.5,472.5 L1621,472.3 L1621.5,472.2 L1622,472 L1622.5,471.9 L1623,471.9 L1623.5,471.8 L1624,471.7 L1624.5,471.7 L1625,472.3 L1625.5,472.9 L1626,473.5 L1626.5,474.1 L1627,474.6 L1627.5,475.2 L1628,475.8 L1628.5,476.4 L1629,477 L1629.5,477.6 L1630,478.1 L1630.5,477.4 L1631,476.7 L1631.5,476.1 L1632,475.4 L1632.5,474.8 L1633,474.3 L1633.5,473.7 L1634,473.2 L1634.5,472.7 L1635,472.2 L1635.5,471.8 L1636,471.4 L1636.5,471 L1637,470.6 L1637.5,470.3 L1638,470 L1638.5,469.8 L1639,469.6 L1639.5,469.4 L1640,469.2 L1640.5,469.1 L1641,469.1 L1641.5,469.3 L1642,469.8 L1642.5,470.3 L1643,470.7 L1643.5,471.2 L1644,471.6 L1644.5,472.1 L1645,472.5 L1645.5,473 L1646,473.5 L1646.5,473.9 L1647,474.4 L1647.5,473.9 L1648,473.5 L1648.5,473.1 L1649,472.7 L1649.5,472.4 L1650,472 L1650.5,471.7 L1651,471.4 L1651.5,471.1 L1652,470.8 L1652.5,470.5 L1653,470.3 L1653.5,470.1 L1654,469.9 L1654.5,469.7 L1655,469.5 L1655.5,469.4 L1656,469.3 L1656.5,469.2 L1657,469.1 L1657.5,469.1 L1658,469.2 L1658.5,469.5 L1659,469.9 L1659.5,470.2 L1660,470.5 L1660.5,470.9 L1661,471.2 L1661.5,471.5 L1662,471.9 L1662.5,472.2 L1663,472.5 L1663.5,472.9 L1664,473.2 L1664.5,473.6 L1665,473.9 L1665.5,474.2 L1666,474.6 L1666.5,474.4 L1667,474.4 L1667,489.5 Z" fill="#ab6c3e" stroke="none"/>
<path d="M1209.5,474.6 L1210,474 L1210.5,473.4 L1211,472.8 L1211.5,472.3 L1212,471.8 L1212.5,471.3 L1213,470.9 L1213.5,470.4 L1214,470 L1214.5,469.6 L1215,469.3 L1215.5,468.9 L1216,468.6 L1216.5,468.3 L1217,468.1 L1217.5,467.8 L1218,467.6 L1218.5,467.4 L1219,467.3 L1219.5,467.1 L1220,467.1 L1220.5,467 L1221,467.2 L1221.5,467.7 L1222,468.1 L1222.5,468.6 L1223,469.1 L1223.5,469.6 L1224,470.1 L1224.5,470.6 L1225,471 L1225.5,471.5 L1226,472 L1226.5,472.5 L1227,473 L1227.5,473.5 L1228,473.9 L1228.5,474.4 L1229,474.9 L1229.5,475.4 L1230,475.9 L1230.5,475.5 L1231,475.1 L1231.5,474.8 L1232,474.4 L1232.5,474.1 L1233,473.7 L1233.5,473.4 L1234,473 L1234.5,472.7 L1235,472.4 L1235.5,472.1 L1236,471.8 L1236.5,471.5 L1237,471.2 L1237.5,471 L1238,470.7 L1238.5,470.4 L1239,470.2 L1239.5,469.9 L1240,469.7 L1240.5,469.5 L1241,469.3 L1241.5,469 L1242,468.8 L1242.5,468.6 L1243,468.5 L1243.5,468.3 L1244,468.1 L1244.5,468 L1245,467.8 L1245.5,467.7 L1246,467.5 L1246.5,467.4 L1247,467.3 L1247.5,467.2 L1248,467.1 L1248.5,467 L1249,467 L1249.5,466.9 L1250,466.9 L1250.5,466.8 L1251,466.8 L1251.5,467.1 L1252,467.8 L1252.5,468.5 L1253,469.1 L1253.5,469.8 L1254,470.5 L1254.5,471.2 L1255,471.9 L1255.5,472.6 L1256,473.3 L1256.5,474 L1257,474.7 L1257.5,475.3 L1258,476 L1258.5,476.3 L1259,476 L1259.5,475.7 L1260,475.4 L1260.5,475.1 L1261,474.8 L1261.5,474.5 L1262,474.3 L1262.5,474 L1263,473.8 L1263.5,473.5 L1264,473.3 L1264.5,473.1 L1265,472.9 L1265.5,472.7 L1266,472.5 L1266.5,472.3 L1267,472.2 L1267.5,472 L1268,471.8 L1268.5,471.7 L1269,471.6 L1269.5,471.5 L1270,471.4 L1270.5,471.3 L1271,471.2 L1271.5,471.1 L1272,471 L1272.5,471 L1273,471 L1273.5,471 L1274,471.7 L1274.5,472.4 L1275,473.1 L1275.5,473.8 L1276,474.5 L1276.5,475.2 L1277,475.9 L1277.5,476.6 L1278,477.3 L1278.5,478.1 L1279,478.8 L1279.5,479.5 L1280,480.2 L1280.5,480.9 L1281,481.6 L1281.5,482.3 L1282,482.8 L1282.5,482.2 L1283,481.7 L1283.5,481.2 L1284,480.8 L1284.5,480.4 L1285,480 L1285.5,479.6 L1286,479.3 L1286.5,479 L1287,478.7 L1287.5,478.4 L1288,478.2 L1288.5,478.1 L1289,477.9 L1289.5,477.8 L1290,477.8 L1290.5,478.2 L1291,478.9 L1291.5,479.6 L1292,480.3 L1292.5,481 L1293,481.7 L1293.5,482.4 L1294,483.1 L1294.5,483.8 L1295,484.6 L1295.5,485.3 L1296,486 L1296.5,486.7 L1297,487.4 L1297.5,488.1 L1298,488.8 L1298.5,489.5 L1299,489.5 L1299.5,489.5 L1300,489.5 L1300.5,489.5 L1301,489.5 L1301.5,489.5 L1302,489.5 L1302.5,489.5 L1303,489.5 L1303.5,489.5 L1304,489.5 L1304.5,489.5 L1305,489.5 L1305.5,489.5 L1306,489.5 L1306.5,489.5 L1307,489.4 L1307.5,489 L1308,488.6 L1308.5,488.3 L1309,487.9 L1309.5,487.5 L1310,487.2 L1310.5,486.8 L1311,486.5 L1311.5,486.1 L1312,485.8 L1312.5,485.4 L1313,485.1 L1313.5,484.8 L1314,484.4 L1314.5,484.1 L1315,483.8 L1315.5,483.4 L1316,483.1 L1316.5,482.8 L1317,482.5 L1317.5,482.2 L1318,481.8 L1318.5,481.5 L1319,481.2 L1319.5,480.9 L1320,480.6 L1320.5,480.3 L1321,480 L1321.5,479.7 L1322,479.4 L1322.5,479.1 L1323,478.8 L1323.5,478.6 L1324,478.3 L1324.5,478 L1325,477.7 L1325.5,477.5 L1326,477.2 L1326.5,476.9 L1327,476.6 L1327.5,476.4 L1328,476.1 L1328.5,475.9 L1329,475.6 L1329.5,475.4 L1330,475.1 L1330.5,474.9 L1331,474.6 L1331.5,474.4 L1332,474.1 L1332.5,473.9 L1333,473.7 L1333.5,473.5 L1334,473.2 L1334.5,473 L1335,472.8 L1335.5,472.6 L1336,472.4 L1336.5,472.1 L1337,471.9 L1337.5,471.7 L1338,471.5 L1338.5,471.3 L1339,471.1 L1339.5,470.9 L1340,470.7 L1340.5,470.6 L1341,470.4 L1341.5,470.2 L1342,470 L1342.5,469.8 L1343,469.7 L1343.5,469.5 L1344,469.3 L1344.5,469.2 L1345,469 L1345.5,468.9 L1346,468.7 L1346.5,468.5 L1347,468.4 L1347.5,468.3 L1348,468.1 L1348.5,468 L1349,467.8 L1349.5,467.7 L1350,467.6 L1350.5,467.5 L1351,467.3 L1351.5,467.2 L1352,467.1 L1352.5,467 L1353,466.9 L1353.5,466.8 L1354,466.7 L1354.5,466.6 L1355,466.5 L1355.5,466.4 L1356,466.3 L1356.5,466.2 L1357,466.2 L1357.5,466.1 L1358,466 L1358.5,466 L1359,465.9 L1359.5,465.8 L1360,465.8 L1360.5,465.7 L1361,465.7 L1361.5,465.6 L1362,465.6 L1362.5,465.6 L1363,465.5 L1363.5,465.5 L1364,465.5 L1364.5,465.5 L1365,465.5 L1365.5,466.1 L1366,467 L1366.5,467.8 L1367,468.6 L1367.5,469.5 L1368,470.3 L1368.5,471.1 L1369,472 L1369.5,472.8 L1370,473.6 L1370.5,474.5 L1371,475.3 L1371.5,476.1 L1372,477 L1372.5,477.8 L1373,478.6 L1373.5,479.2 L1374,479 L1374.5,478.8 L1375,478.5 L1375.5,478.3 L1376,478.1 L1376.5,477.8 L1377,477.6 L1377.5,477.4 L1378,477.2 L1378.5,477 L1379,476.8 L1379.5,476.6 L1380,476.4 L1380.5,476.2 L1381,476 L1381.5,475.8 L1382,475.7 L1382.5,475.5 L1383,475.3 L1383.5,475.2 L1384,475 L1384.5,474.9 L1385,474.7 L1385.5,474.6 L1386,474.4 L1386.5,474.3 L1387,474.2 L1387.5,474 L1388,473.9 L1388.5,473.8 L1389,473.7 L1389.5,473.6 L1390,473.5 L1390.5,473.4 L1391,473.3 L1391.5,473.2 L1392,473.1 L1392.5,473.1 L1393,473 L1393.5,472.9 L1394,472.9 L1394.5,472.8 L1395,472.8 L1395.5,472.7 L1396,472.7 L1396.5,472.7 L1397,472.7 L1397.5,472.7 L1398,473.1 L1398.5,473.5 L1399,474 L1399.5,474.5 L1400,475 L1400.5,475.5 L1401,476 L1401.5,476.5 L1402,477 L1402.5,477.5 L1403,477.9 L1403.5,478.4 L1404,478.9 L1404.5,479.4 L1405,479.9 L1405.5,480.4 L1406,480.9 L1406.5,481.4 L1407,481.3 L1407.5,480.8 L1408,480.4 L1408.5,480 L1409,479.5 L1409.5,479.1 L1410,478.7 L1410.5,478.3 L1411,477.9 L1411.5,477.6 L1412,477.2 L1412.5,476.8 L1413,476.5 L1413.5,476.2 L1414,475.8 L1414.5,475.5 L1415,475.2 L1415.5,474.9 L1416,474.6 L1416.5,474.3 L1417,474.1 L1417.5,473.8 L1418,473.5 L1418.5,473.3 L1419,473.1 L1419.5,472.9 L1420,472.7 L1420.5,472.5 L1421,472.3 L1421.5,472.1 L1422,471.9 L1422.5,471.8 L1423,471.6 L1423.5,471.5 L1424,471.4 L1424.5,471.3 L1425,471.2 L1425.5,471.1 L1426,471.1 L1426.5,471 L1427,471 L1427.5,471 L1428,471.6 L1428.5,472.3 L1429,472.9 L1429.5,473.6 L1430,474.3 L1430.5,474.9 L1431,475.6 L1431.5,476.3 L1432,476.9 L1432.5,477.6 L1433,478.2 L1433.5,478.9 L1434,479.6 L1434.5,480.2 L1435,479.7 L1435.5,479.3 L1436,478.8 L1436.5,478.4 L1437,477.9 L1437.5,477.5 L1438,477.1 L1438.5,476.7 L1439,476.3 L1439.5,475.9 L1440,475.5 L1440.5,475.1 L1441,474.8 L1441.5,474.4 L1442,474.1 L1442.5,473.8 L1443,473.5 L1443.5,473.2 L1444,472.9 L1444.5,472.7 L1445,472.4 L1445.5,472.2 L1446,472 L1446.5,471.8 L1447,471.6 L1447.5,471.4 L1448,471.2 L1448.5,471.1 L1449,470.9 L1449.5,470.8 L1450,470.7 L1450.5,470.6 L1451,470.5 L1451.5,470.4 L1452,470.4 L1452.5,470.4 L1453,471 L1453.5,471.7 L1454,472.3 L1454.5,473 L1455,473.6 L1455.5,474.3 L1456,474.9 L1456.5,475.5 L1457,476.2 L1457.5,476.8 L1458,477.5 L1458.5,478.1 L1459,478.8 L1459.5,479.2 L1460,478.8 L1460.5,478.3 L1461,477.9 L1461.5,477.5 L1462,477.1 L1462.5,476.7 L1463,476.3 L1463.5,476 L1464,475.6 L1464.5,475.3 L1465,475 L1465.5,474.6 L1466,474.3 L1466.5,474 L1467,473.8 L1467.5,473.5 L1468,473.2 L1468.5,473 L1469,472.7 L1469.5,472.5 L1470,472.3 L1470.5,472.1 L1471,471.9 L1471.5,471.8 L1472,471.6 L1472.5,471.5 L1473,471.4 L1473.5,471.3 L1474,471.2 L1474.5,471.1 L1475,471 L1475.5,471 L1476,471 L1476.5,471.5 L1477,472.2 L1477.5,472.8 L1478,473.5 L1478.5,474.2 L1479,474.9 L1479.5,475.5 L1480,476.2 L1480.5,476.9 L1481,477.5 L1481.5,478.2 L1482,478.9 L1482.5,479.6 L1483,480.2 L1483.5,479.7 L1484,479.3 L1484.5,478.8 L1485,478.3 L1485.5,477.9 L1486,477.5 L1486.5,477 L1487,476.6 L1487.5,476.2 L1488,475.8 L1488.5,475.5 L1489,475.1 L1489.5,474.8 L1490,474.4 L1490.5,474.1 L1491,473.8 L1491.5,473.5 L1492,473.3 L1492.5,473 L1493,472.8 L1493.5,472.5 L1494,472.3 L1494.5,472.1 L1495,471.9 L1495.5,471.7 L1496,471.6 L1496.5,471.4 L1497,471.3 L1497.5,471.2 L1498,471.1 L1498.5,471 L1499,471 L1499.5,471 L1500,471.5 L1500.5,472.3 L1501,473.2 L1501.5,474 L1502,474.8 L1502.5,475.7 L1503,476.5 L1503.5,477.4 L1504,478.2 L1504.5,479.1 L1505,479.9 L1505.5,479.9 L1506,479.3 L1506.5,478.7 L1507,478.2 L1507.5,477.7 L1508,477.1 L1508.5,476.7 L1509,476.2 L1509.5,475.7 L1510,475.3 L1510.5,474.9 L1511,474.5 L1511.5,474.1 L1512,473.7 L1512.5,473.4 L1513,473.1 L1513.5,472.8 L1514,472.5 L1514.5,472.2 L1515,472 L1515.5,471.8 L1516,471.6 L1516.5,471.4 L1517,471.3 L1517.5,471.2 L1518,471.1 L1518.5,471 L1519,471 L1519.5,471.5 L1520,472.2 L1520.5,472.8 L1521,473.5 L1521.5,474.2 L1522,474.9 L1522.5,475.5 L1523,476.2 L1523.5,476.9 L1524,477.5 L1524.5,478.2 L1525,478.9 L1525.5,479.6 L1526,480.2 L1526.5,479.7 L1527,479.1 L1527.5,478.5 L1528,478 L1528.5,477.5 L1529,477 L1529.5,476.5 L1530,476.1 L1530.5,475.6 L1531,475.2 L1531.5,474.8 L1532,474.4 L1532.5,474.1 L1533,473.7 L1533.5,473.4 L1534,473.1 L1534.5,472.8 L1535,472.5 L1535.5,472.3 L1536,472.1 L1536.5,471.9 L1537,471.7 L1537.5,471.5 L1538,471.4 L1538.5,471.3 L1539,471.2 L1539.5,471.2 L1540,471.3 L1540.5,471.9 L1541,472.6 L1541.5,473.3 L1542,473.9 L1542.5,474.6 L1543,475.2 L1543.5,475.9 L1544,476.5 L1544.5,477.2 L1545,477.9 L1545.5,478.5 L1546,479.2 L1546.5,479.8 L1547,480 L1547.5,479.5 L1548,479 L1548.5,478.5 L1549,478 L1549.5,477.5 L1550,477 L1550.5,476.6 L1551,476.2 L1551.5,475.7 L1552,475.4 L1552.5,475 L1553,474.6 L1553.5,474.2 L1554,473.9 L1554.5,473.6 L1555,473.3 L1555.5,473 L1556,472.7 L1556.5,472.5 L1557,472.2 L1557.5,472 L1558,471.8 L1558.5,471.6 L1559,471.5 L1559.5,471.3 L1560,471.2 L1560.5,471.1 L1561,471 L1561.5,471 L1562,471 L1562.5,471.5 L1563,472.2 L1563.5,472.8 L1564,473.5 L1564.5,474.2 L1565,474.9 L1565.5,475.5 L1566,476.2 L1566.5,476.9 L1567,477.5 L1567.5,478.2 L1568,478.9 L1568.5,479.6 L1569,480.2 L1569.5,479.7 L1570,479.2 L1570.5,478.6 L1571,478.2 L1571.5,477.7 L1572,477.2 L1572.5,476.8 L1573,476.3 L1573.5,475.9 L1574,475.5 L1574.5,475.2 L1575,474.8 L1575.5,474.5 L1576,474.1 L1576.5,473.8 L1577,473.5 L1577.5,473.3 L1578,473 L1578.5,472.8 L1579,472.6 L1579.5,472.4 L1580,472.2 L1580.5,472.1 L1581,472 L1581.5,471.9 L1582,471.8 L1582.5,471.7 L1583,471.9 L1583.5,472.6 L1584,473.4 L1584.5,474.2 L1585,474.9 L1585.5,475.7 L1586,476.4 L1586.5,477.2 L1587,478 L1587.5,478.7 L1588,479.5 L1588.5,480.2 L1589,479.7 L1589.5,479.2 L1590,478.7 L1590.5,478.2 L1591,477.7 L1591.5,477.3 L1592,476.8 L1592.5,476.4 L1593,476 L1593.5,475.6 L1594,475.2 L1594.5,474.8 L1595,474.5 L1595.5,474.1 L1596,473.8 L1596.5,473.5 L1597,473.2 L1597.5,473 L1598,472.7 L1598.5,472.5 L1599,472.2 L1599.5,472 L1600,471.9 L1600.5,471.7 L1601,471.6 L1601.5,471.4 L1602,471.3 L1602.5,471.2 L1603,471.2 L1603.5,471.2 L1604,471.6 L1604.5,472.4 L1605,473.3 L1605.5,474.1 L1606,474.9 L1606.5,475.7 L1607,476.5 L1607.5,477.3 L1608,478.1 L1608.5,478.9 L1609,479.7 L1609.5,480 L1610,479.5 L1610.5,479.1 L1611,478.6 L1611.5,478.1 L1612,477.7 L1612.5,477.3 L1613,476.9 L1613.5,476.5 L1614,476.1 L1614.5,475.7 L1615,475.4 L1615.5,475 L1616,474.7 L1616.5,474.4 L1617,474.1 L1617.5,473.8 L1618,473.6 L1618.5,473.3 L1619,473.1 L1619.5,472.9 L1620,472.7 L1620.5,472.5 L1621,472.3 L1621.5,472.2 L1622,472 L1622.5,471.9 L1623,471.9 L1623.5,471.8 L1624,471.7 L1624.5,471.7 L1625,472.3 L1625.5,472.9 L1626,473.5 L1626.5,474.1 L1627,474.6 L1627.5,475.2 L1628,475.8 L1628.5,476.4 L1629,477 L1629.5,477.6 L1630,478.1 L1630.5,477.4 L1631,476.7 L1631.5,476.1 L1632,475.4 L1632.5,474.8 L1633,474.3 L1633.5,473.7 L1634,473.2 L1634.5,472.7 L1635,472.2 L1635.5,471.8 L1636,471.4 L1636.5,471 L1637,470.6 L1637.5,470.3 L1638,470 L1638.5,469.8 L1639,469.6 L1639.5,469.4 L1640,469.2 L1640.5,469.1 L1641,469.1 L1641.5,469.3 L1642,469.8 L1642.5,470.3 L1643,470.7 L1643.5,471.2 L1644,471.6 L1644.5,472.1 L1645,472.5 L1645.5,473 L1646,473.5 L1646.5,473.9 L1647,474.4 L1647.5,473.9 L1648,473.5 L1648.5,473.1 L1649,472.7 L1649.5,472.4 L1650,472 L1650.5,471.7 L1651,471.4 L1651.5,471.1 L1652,470.8 L1652.5,470.5 L1653,470.3 L1653.5,470.1 L1654,469.9 L1654.5,469.7 L1655,469.5 L1655.5,469.4 L1656,469.3 L1656.5,469.2 L1657,469.1 L1657.5,469.1 L1658,469.2 L1658.5,469.5 L1659,469.9 L1659.5,470.2 L1660,470.5 L1660.5,470.9 L1661,471.2 L1661.5,471.5 L1662,471.9 L1662.5,472.2 L1663,472.5 L1663.5,472.9 L1664,473.2 L1664.5,473.6 L1665,473.9 L1665.5,474.2 L1666,474.6 L1666.5,474.4 L1667,474.4" fill="none" stroke="#2b1a0e" stroke-width="1.1" stroke-linejoin="round"/>
<path d="M1209.5,489.5 L1209.5,474.4 L1247.6,474.4 L1247.6,489.5" fill="#808080" stroke="#000" stroke-width="1.5"/>
<path d="M1628.9,489.5 L1628.9,474.4 L1667,474.4 L1667,489.5" fill="#808080" stroke="#000" stroke-width="1.5"/>
<polyline points="1210,462.6 1210.6,462 1211.2,460.6 1211.8,461.4 1212.4,463.6 1213,457.5 1213.6,461.6 1214.2,460.1 1214.8,456.2 1215.4,457.1 1216,452.6 1216.6,450.4 1217.2,451.5 1217.8,451.1 1218.4,453.1 1219,454 1219.6,454.3 1220.2,445 1220.8,441.8 1221.4,452.9 1222,450 1222.6,455.6 1223.2,453.7 1223.8,460.3 1224.4,465.1 1225,458.8 1225.6,461.8 1226.2,462.4 1226.8,456.8 1227.4,463 1228,462.6 1228.6,462.2 1229.2,461 1229.8,471.7 1230.4,460.3 1231,457.9 1231.6,458.5 1232.2,462.1 1232.8,461.4 1233.4,462.7 1234,458.5 1234.6,462.9 1235.2,459.1 1235.8,458.6 1236.4,458 1237,459.5 1237.6,460.6 1238.2,460.1 1238.8,455.8 1239.4,456.3 1240,454.7 1240.6,458.2 1241.2,451.2 1241.8,453.5 1242.4,456.5 1243,450.7 1243.6,455.1 1244.2,453.2 1244.8,451.8 1245.4,453.5 1246,453.8 1246.6,453.1 1247.2,450.6 1247.8,452.6 1248.4,459.2 1249,449.1 1249.6,450.7 1250.2,449 1250.8,435.3 1251.4,449.3 1252,451.5 1252.6,455.4 1253.2,459.5 1253.8,458.3 1254.4,461.9 1255,462.4 1255.6,460.8 1256.2,460.3 1256.8,456.6 1257.4,463.8 1258,465.9 1258.6,465.8 1259.2,462.9 1259.8,457.6 1260.4,464.2 1261,460 1261.6,462.3 1262.2,467 1262.8,458.3 1263.4,462.2 1264,460.4 1264.6,460.2 1265.2,455.4 1265.8,458.1 1266.4,454.2 1267,461.4 1267.6,460.5 1268.2,453.4 1268.8,455.1 1269.4,455.8 1270,450.9 1270.6,449.5 1271.2,451.5 1271.8,452.9 1272.4,448.3 1273,443.2 1273.6,455.9 1274.2,452.8 1274.8,452.6 1275.4,459.2 1276,461.1 1276.6,456.8 1277.2,459.7 1277.8,465.4 1278.4,458.9 1279,461.9 1279.6,462.7 1280.2,464.9 1280.8,457.8 1281.4,457.5 1282,459.5 1282.6,462.2 1283.2,456.4 1283.8,454.7 1284.4,460.8 1285,461.6 1285.6,458.3 1286.2,458 1286.8,459.8 1287.4,460.1 1288,457.7 1288.6,457 1289.2,456.9 1289.8,453.9 1290.4,452.5 1291,455.7 1291.6,456.3 1292.2,456.5 1292.8,460.4 1293.4,458.7 1294,462.1 1294.6,456.7 1295.2,462.8 1295.8,461 1296.4,459.2 1297,461.9 1297.6,465.5 1298.2,463.5 1298.8,456.3 1299.4,454.3 1300,458.5 1300.6,458.2 1301.2,465.5 1301.8,457.3 1302.4,456.3 1303,459.6 1303.6,459.9 1304.2,460.3 1304.8,462.2 1305.4,466.4 1306,459.2 1306.6,455.9 1307.2,451 1307.8,457 1308.4,457.7 1309,455 1309.6,458.8 1310.2,457.6 1310.8,460.7 1311.4,458.8 1312,457 1312.6,458.8 1313.2,455.9 1313.8,455.2 1314.4,459.4 1315,462.2 1315.6,462.6 1316.2,458.2 1316.8,453.8 1317.4,452.4 1318,456.7 1318.6,456.2 1319.2,454.5 1319.8,459.3 1320.4,458.6 1321,452.7 1321.6,458.2 1322.2,457.8 1322.8,454.5 1323.4,455.4 1324,460 1324.6,459.8 1325.2,460.2 1325.8,451.5 1326.4,452 1327,456.5 1327.6,451.6 1328.2,452.1 1328.8,448.1 1329.4,456.9 1330,455.9 1330.6,455 1331.2,455 1331.8,452.5 1332.4,452.1 1333,453 1333.6,447.1 1334.2,451.8 1334.8,446.8 1335.4,447.5 1336,451.8 1336.6,450.1 1337.2,451.4 1337.8,450.1 1338.4,444 1339,450.7 1339.6,443.2 1340.2,449.7 1340.8,443.8 1341.4,444.6 1342,450.8 1342.6,450.3 1343.2,448.2 1343.8,442 1344.4,447 1345,441.4 1345.6,444.4 1346.2,446.7 1346.8,447.4 1347.4,452 1348,446 1348.6,450.7 1349.2,449.3 1349.8,441.8 1350.4,442.1 1351,443.5 1351.6,441.3 1352.2,441.1 1352.8,433.2 1353.4,439 1354,437.5 1354.6,435.2 1355.2,429.8 1355.8,438 1356.4,441 1357,448.8 1357.6,448.7 1358.2,453 1358.8,451 1359.4,453.8 1360,442.3 1360.6,444.4 1361.2,444.4 1361.8,435.4 1362.4,435.4 1363,425.4 1363.6,425.7 1364.2,422.3 1364.8,429.5 1365.4,436.4 1366,442.9 1366.6,447.7 1367.2,459.1 1367.8,460 1368.4,460.9 1369,469.3 1369.6,469.5 1370.2,470.1 1370.8,473 1371.4,463.2 1372,467.4 1372.6,465.4 1373.2,462.8 1373.8,463 1374.4,452.8 1375,459 1375.6,463.7 1376.2,456.3 1376.8,461.1 1377.4,463.1 1378,465.2 1378.6,466.2 1379.2,457 1379.8,460.1 1380.4,462.1 1381,455.7 1381.6,457.4 1382.2,461.8 1382.8,459.3 1383.4,456.9 1384,447.5 1384.6,455.2 1385.2,455.2 1385.8,456.8 1386.4,458.4 1387,469.1 1387.6,457.9 1388.2,453.4 1388.8,456.4 1389.4,455 1390,455.9 1390.6,454.2 1391.2,457.1 1391.8,454 1392.4,450.8 1393,450.5 1393.6,451.9 1394.2,449.6 1394.8,454.8 1395.4,453.7 1396,449.1 1396.6,443.1 1397.2,458.4 1397.8,454.4 1398.4,452.4 1399,455.8 1399.6,454.2 1400.2,452 1400.8,459.2 1401.4,460.5 1402,462.4 1402.6,460.7 1403.2,462.3 1403.8,461.3 1404.4,462.3 1405,463.9 1405.6,462.2 1406.2,465.7 1406.8,456.4 1407.4,458.2 1408,463.3 1408.6,465 1409.2,461.4 1409.8,458.2 1410.4,457.5 1411,459.3 1411.6,463.2 1412.2,455 1412.8,459.1 1413.4,456.9 1414,456.7 1414.6,454 1415.2,458.8 1415.8,451.8 1416.4,459 1417,454.7 1417.6,451.4 1418.2,456 1418.8,453.3 1419.4,449.1 1420,457.8 1420.6,449 1421.2,449.8 1421.8,452 1422.4,441.8 1423,451.3 1423.6,445.9 1424.2,445.3 1424.8,442 1425.4,445.7 1426,444.7 1426.6,436.5 1427.2,447.5 1427.8,446 1428.4,454.6 1429,449.3 1429.6,451.4 1430.2,455.7 1430.8,459.2 1431.4,464.7 1432,463.3 1432.6,460.6 1433.2,459.8 1433.8,461.9 1434.4,465.4 1435,465 1435.6,459.2 1436.2,453.6 1436.8,462.9 1437.4,460.1 1438,459 1438.6,462.5 1439.2,460.7 1439.8,456.7 1440.4,456.3 1441,453.5 1441.6,452.3 1442.2,450.3 1442.8,455.7 1443.4,456.8 1444,450.3 1444.6,451.2 1445.2,446.5 1445.8,451.9 1446.4,451.1 1447,447.1 1447.6,443.9 1448.2,449.3 1448.8,445.5 1449.4,449.2 1450,444.1 1450.6,447.1 1451.2,444.3 1451.8,432.5 1452.4,445.2 1453,448.4 1453.6,452.3 1454.2,451.5 1454.8,451 1455.4,455.9 1456,460.5 1456.6,466.5 1457.2,467.1 1457.8,463.8 1458.4,461.9 1459,463.9 1459.6,462.9 1460.2,461.4 1460.8,459.1 1461.4,464.9 1462,459.1 1462.6,461.3 1463.2,460.6 1463.8,459.8 1464.4,458.9 1465,456.1 1465.6,454.2 1466.2,458.4 1466.8,452.2 1467.4,457 1468,456.3 1468.6,456.7 1469.2,457.1 1469.8,454.3 1470.4,453.7 1471,451.1 1471.6,450.6 1472.2,450.8 1472.8,443.7 1473.4,448.4 1474,447.5 1474.6,449.3 1475.2,437.3 1475.8,448.2 1476.4,447.2 1477,448.2 1477.6,449.6 1478.2,456.9 1478.8,462.8 1479.4,460.6 1480,463 1480.6,459.7 1481.2,466.7 1481.8,461.6 1482.4,467.9 1483,465.7 1483.6,462.6 1484.2,465.8 1484.8,460.4 1485.4,460.3 1486,460.4 1486.6,460.5 1487.2,458.3 1487.8,459.2 1488.4,454.7 1489,456.1 1489.6,455.7 1490.2,453.7 1490.8,455 1491.4,455 1492,455.2 1492.6,456.9 1493.2,446.4 1493.8,452.5 1494.4,446.5 1495,449.6 1495.6,447.6 1496.2,442 1496.8,443.9 1497.4,449.9 1498,448.9 1498.6,447.4 1499.2,437.4 1499.8,452.2 1500.4,448.4 1501,449.3 1501.6,457.3 1502.2,456.4 1502.8,456.8 1503.4,463.8 1504,462.2 1504.6,463.7 1505.2,462 1505.8,457.4 1506.4,462.2 1507,461.6 1507.6,460 1508.2,458.7 1508.8,462.5 1509.4,457.9 1510,459.1 1510.6,459.5 1511.2,457.5 1511.8,454.4 1512.4,457.8 1513,457.6 1513.6,454.9 1514.2,457 1514.8,453.6 1515.4,454.9 1516,455.5 1516.6,448.5 1517.2,452.5 1517.8,451.3 1518.4,442.4 1519,451 1519.6,451.8 1520.2,449.1 1520.8,458.5 1521.4,458.5 1522,460.3 1522.6,461.8 1523.2,466.3 1523.8,464.1 1524.4,457.7 1525,462.3 1525.6,463.8 1526.2,461.7 1526.8,461 1527.4,460.2 1528,457.8 1528.6,458.8 1529.2,460.5 1529.8,463 1530.4,463 1531,460.7 1531.6,459.8 1532.2,457 1532.8,454 1533.4,455.4 1534,455.6 1534.6,453.8 1535.2,453.4 1535.8,452.5 1536.4,448.9 1537,445.5 1537.6,447 1538.2,447.1 1538.8,447.2 1539.4,442 1540,449.5 1540.6,448.7 1541.2,452.4 1541.8,449.3 1542.4,448.1 1543,451.4 1543.6,465.3 1544.2,458.4 1544.8,465 1545.4,464.9 1546,461.4 1546.6,466.9 1547.2,467.5 1547.8,462.1 1548.4,464.3 1549,460.7 1549.6,458.1 1550.2,462 1550.8,457.2 1551.4,452.8 1552,452.1 1552.6,461.6 1553.2,454.9 1553.8,454.8 1554.4,452.5 1555,454 1555.6,453.1 1556.2,451.6 1556.8,447.1 1557.4,445.5 1558,446.2 1558.6,449.8 1559.2,454.3 1559.8,451.1 1560.4,453.9 1561,450.4 1561.6,437.5 1562.2,443.4 1562.8,447.4 1563.4,444.8 1564,453.2 1564.6,460.4 1565.2,458.3 1565.8,463.4 1566.4,461.7 1567,459.8 1567.6,460.8 1568.2,460.5 1568.8,463.8 1569.4,466.3 1570,456.9 1570.6,457.4 1571.2,456.1 1571.8,458.5 1572.4,457.4 1573,463.3 1573.6,462.9 1574.2,460.3 1574.8,454.8 1575.4,456.1 1576,452.3 1576.6,456.7 1577.2,450.7 1577.8,451.9 1578.4,453.4 1579,453 1579.6,452.9 1580.2,451.4 1580.8,458.6 1581.4,451.9 1582,436.3 1582.6,452.8 1583.2,447.3 1583.8,451.9 1584.4,453.7 1585,460.3 1585.6,461 1586.2,461.6 1586.8,461.4 1587.4,463 1588,465.9 1588.6,457.3 1589.2,462.3 1589.8,459.2 1590.4,459.7 1591,456.1 1591.6,464.1 1592.2,457.2 1592.8,457.9 1593.4,456.1 1594,450.9 1594.6,451.9 1595.2,448.6 1595.8,453.7 1596.4,456.2 1597,456.4 1597.6,455.7 1598.2,451.4 1598.8,455 1599.4,450 1600,447.7 1600.6,448.7 1601.2,447.2 1601.8,447.6 1602.4,445 1603,434.8 1603.6,447.5 1604.2,447.3 1604.8,450 1605.4,450.3 1606,452.4 1606.6,458 1607.2,460.8 1607.8,464.2 1608.4,454.8 1609,463.7 1609.6,465 1610.2,467.5 1610.8,462.6 1611.4,458.5 1612,464.5 1612.6,459 1613.2,455.9 1613.8,457.4 1614.4,460.8 1615,459.7 1615.6,457.1 1616.2,452.3 1616.8,461.2 1617.4,452.7 1618,455.2 1618.6,451.1 1619.2,455.1 1619.8,452.7 1620.4,454.3 1621,453.9 1621.6,453.3 1622.2,451.7 1622.8,443.9 1623.4,450.3 1624,441.4 1624.6,444.8 1625.2,448.9 1625.8,452.3 1626.4,460.7 1627,457.4 1627.6,459.8 1628.2,457.5 1628.8,457.6 1629.4,458.5 1630,461.4 1630.6,459.7 1631.2,460.4 1631.8,461.9 1632.4,462.1 1633,460.7 1633.6,461.3 1634.2,457.9 1634.8,457.1 1635.4,458.9 1636,450.1 1636.6,456.4 1637.2,445 1637.8,451.5 1638.4,449 1639,456.6 1639.6,453.6 1640.2,447.1 1640.8,454.1 1641.4,451.1 1642,451.9 1642.6,454.4 1643.2,459.6 1643.8,461.1 1644.4,460.6 1645,456.5 1645.6,459.2 1646.2,460.4 1646.8,466.8 1647.4,462.8 1648,460.5 1648.6,462.8 1649.2,459.7 1649.8,460.5 1650.4,460.7 1651,456.3 1651.6,460.1 1652.2,457 1652.8,454.9 1653.4,451.9 1654,456.3 1654.6,457.9 1655.2,452.8 1655.8,451.6 1656.4,454.9 1657,437.3 1657.6,445.6 1658.2,451.7 1658.8,455.9 1659.4,456.9 1660,457.4 1660.6,458 1661.2,460.9 1661.8,460.9 1662.4,459 1663,462.2 1663.6,462.3 1664.2,464.6 1664.8,461.4 1665.4,451 1666,456.5 1666.6,459.5" fill="none" stroke="#0072BD" stroke-width="1.7" stroke-linejoin="round" />
<line x1="1208.9" y1="376" x2="1667.6" y2="376" stroke="#1a1a1a" stroke-width="1.3"/>
<line x1="1208.9" y1="489.5" x2="1667.6" y2="489.5" stroke="#1a1a1a" stroke-width="1.3"/>
<line x1="1209.5" y1="376" x2="1209.5" y2="489.5" stroke="#1668a6" stroke-width="1.3"/>
<line x1="1667" y1="376" x2="1667" y2="489.5" stroke="#a0714b" stroke-width="1.3"/>
<text x="1209.5" y="513.1" font-size="20" text-anchor="middle" fill="#111" stroke="#111" stroke-width="0.35" font-family='"Liberation Sans", sans-serif' >0</text>
<line x1="1285.8" y1="489.5" x2="1285.8" y2="485" stroke="#1a1a1a" stroke-width="1.2"/>
<line x1="1285.8" y1="376" x2="1285.8" y2="380.5" stroke="#1a1a1a" stroke-width="1.2"/>
<text x="1285.8" y="513.1" font-size="20" text-anchor="middle" fill="#111" stroke="#111" stroke-width="0.35" font-family='"Liberation Sans", sans-serif' >1000</text>
<line x1="1362" y1="489.5" x2="1362" y2="485" stroke="#1a1a1a" stroke-width="1.2"/>
<line x1="1362" y1="376" x2="1362" y2="380.5" stroke="#1a1a1a" stroke-width="1.2"/>
<text x="1362" y="513.1" font-size="20" text-anchor="middle" fill="#111" stroke="#111" stroke-width="0.35" font-family='"Liberation Sans", sans-serif' >2000</text>
<line x1="1438.2" y1="489.5" x2="1438.2" y2="485" stroke="#1a1a1a" stroke-width="1.2"/>
<line x1="1438.2" y1="376" x2="1438.2" y2="380.5" stroke="#1a1a1a" stroke-width="1.2"/>
<text x="1438.2" y="513.1" font-size="20" text-anchor="middle" fill="#111" stroke="#111" stroke-width="0.35" font-family='"Liberation Sans", sans-serif' >3000</text>
<line x1="1514.5" y1="489.5" x2="1514.5" y2="485" stroke="#1a1a1a" stroke-width="1.2"/>
<line x1="1514.5" y1="376" x2="1514.5" y2="380.5" stroke="#1a1a1a" stroke-width="1.2"/>
<text x="1514.5" y="513.1" font-size="20" text-anchor="middle" fill="#111" stroke="#111" stroke-width="0.35" font-family='"Liberation Sans", sans-serif' >4000</text>
<line x1="1590.8" y1="489.5" x2="1590.8" y2="485" stroke="#1a1a1a" stroke-width="1.2"/>
<line x1="1590.8" y1="376" x2="1590.8" y2="380.5" stroke="#1a1a1a" stroke-width="1.2"/>
<text x="1590.8" y="513.1" font-size="20" text-anchor="middle" fill="#111" stroke="#111" stroke-width="0.35" font-family='"Liberation Sans", sans-serif' >5000</text>
<text x="1667" y="513.1" font-size="20" text-anchor="middle" fill="#111" stroke="#111" stroke-width="0.35" font-family='"Liberation Sans", sans-serif' >6000</text>
<text x="1205.9" y="381" font-size="20" text-anchor="end" fill="#1668a6" stroke="#1668a6" stroke-width="0.35" font-family='"Liberation Sans", sans-serif' >140</text>
<line x1="1209.5" y1="404.4" x2="1214" y2="404.4" stroke="#1668a6" stroke-width="1.2"/>
<text x="1205.9" y="409.4" font-size="20" text-anchor="end" fill="#1668a6" stroke="#1668a6" stroke-width="0.35" font-family='"Liberation Sans", sans-serif' >95</text>
<line x1="1209.5" y1="432.8" x2="1214" y2="432.8" stroke="#1668a6" stroke-width="1.2"/>
<text x="1205.9" y="437.8" font-size="20" text-anchor="end" fill="#1668a6" stroke="#1668a6" stroke-width="0.35" font-family='"Liberation Sans", sans-serif' >50</text>
<line x1="1209.5" y1="461.1" x2="1214" y2="461.1" stroke="#1668a6" stroke-width="1.2"/>
<text x="1205.9" y="466.1" font-size="20" text-anchor="end" fill="#1668a6" stroke="#1668a6" stroke-width="0.35" font-family='"Liberation Sans", sans-serif' >5</text>
<text x="1205.9" y="494.5" font-size="20" text-anchor="end" fill="#1668a6" stroke="#1668a6" stroke-width="0.35" font-family='"Liberation Sans", sans-serif' >-40</text>
<text x="1672.8" y="382.8" font-size="20.5" text-anchor="start" fill="#a0714b" stroke="#a0714b" stroke-width="0.35" font-family='"Liberation Sans", sans-serif' >600</text>
<line x1="1667" y1="404.4" x2="1662.5" y2="404.4" stroke="#a0714b" stroke-width="1.2"/>
<text x="1672.8" y="411.2" font-size="20.5" text-anchor="start" fill="#a0714b" stroke="#a0714b" stroke-width="0.35" font-family='"Liberation Sans", sans-serif' >450</text>
<line x1="1667" y1="432.8" x2="1662.5" y2="432.8" stroke="#a0714b" stroke-width="1.2"/>
<text x="1672.8" y="439.6" font-size="20.5" text-anchor="start" fill="#a0714b" stroke="#a0714b" stroke-width="0.35" font-family='"Liberation Sans", sans-serif' >300</text>
<line x1="1667" y1="461.1" x2="1662.5" y2="461.1" stroke="#a0714b" stroke-width="1.2"/>
<text x="1672.8" y="467.9" font-size="20.5" text-anchor="start" fill="#a0714b" stroke="#a0714b" stroke-width="0.35" font-family='"Liberation Sans", sans-serif' >150</text>
<text x="1672.8" y="496.3" font-size="20.5" text-anchor="start" fill="#a0714b" stroke="#a0714b" stroke-width="0.35" font-family='"Liberation Sans", sans-serif' >0</text>
<text x="343.4" y="535.5" font-size="21.3" text-anchor="middle" fill="#111" stroke="#111" stroke-width="0.3" font-family='"Liberation Sans", sans-serif'>Distance (l<tspan font-size="12.5" dy="4">0</tspan><tspan dy="-4">)</tspan></text>
<text x="344.3" y="882" font-size="21.3" text-anchor="middle" fill="#111" stroke="#111" stroke-width="0.3" font-family='"Liberation Sans", sans-serif'>Distance (l<tspan font-size="12.5" dy="4">0</tspan><tspan dy="-4">)</tspan></text>
<text x="343.3" y="561.7" font-size="21.5" text-anchor="middle" fill="#111" stroke="#111" stroke-width="0.3" font-family='"Liberation Sans", sans-serif'>Hight (l<tspan font-size="12.5" dy="4">0</tspan><tspan dy="-4">)</tspan></text>
<text x="893.1" y="535.5" font-size="21.3" text-anchor="middle" fill="#111" stroke="#111" stroke-width="0.3" font-family='"Liberation Sans", sans-serif'>Distance (l<tspan font-size="12.5" dy="4">0</tspan><tspan dy="-4">)</tspan></text>
<text x="893.8" y="882" font-size="21.3" text-anchor="middle" fill="#111" stroke="#111" stroke-width="0.3" font-family='"Liberation Sans", sans-serif'>Distance (l<tspan font-size="12.5" dy="4">0</tspan><tspan dy="-4">)</tspan></text>
<text x="892.8" y="561.7" font-size="21.5" text-anchor="middle" fill="#111" stroke="#111" stroke-width="0.3" font-family='"Liberation Sans", sans-serif'>Hight (l<tspan font-size="12.5" dy="4">0</tspan><tspan dy="-4">)</tspan></text>
<text x="1443.2" y="535.5" font-size="21.3" text-anchor="middle" fill="#111" stroke="#111" stroke-width="0.3" font-family='"Liberation Sans", sans-serif'>Distance (l<tspan font-size="12.5" dy="4">0</tspan><tspan dy="-4">)</tspan></text>
<text x="1444" y="882" font-size="21.3" text-anchor="middle" fill="#111" stroke="#111" stroke-width="0.3" font-family='"Liberation Sans", sans-serif'>Distance (l<tspan font-size="12.5" dy="4">0</tspan><tspan dy="-4">)</tspan></text>
<text x="1443" y="561.7" font-size="21.5" text-anchor="middle" fill="#111" stroke="#111" stroke-width="0.3" font-family='"Liberation Sans", sans-serif'>Hight (l<tspan font-size="12.5" dy="4">0</tspan><tspan dy="-4">)</tspan></text>
<text transform="translate(62.3,96.8) rotate(-90)" font-size="20.3" text-anchor="middle" fill="#1668a6" stroke="#1668a6" stroke-width="0.3" font-family='"Liberation Sans", sans-serif'><tspan font-style="italic">T</tspan><tspan font-style="italic" font-size="17"> flat</tspan><tspan font-size="23">(</tspan><tspan font-style="italic">T</tspan><tspan font-style="italic" font-size="13" dy="4">0</tspan><tspan font-size="23" dy="-4">)</tspan></text>
<text transform="translate(59.5,263.8) rotate(-90)" font-size="21.4" text-anchor="middle" fill="#1668a6" stroke="#1668a6" stroke-width="0.3" font-family='"Liberation Sans", sans-serif'>Dune aspect ratio</text>
<text transform="translate(62,438.8) rotate(-90)" font-size="21.4" text-anchor="middle" fill="#1668a6" stroke="#1668a6" stroke-width="0.3" font-family='"Liberation Sans", sans-serif'>Shear stress (<tspan font-style="italic">τ</tspan><tspan font-style="italic" font-size="14" dy="5">0</tspan><tspan dy="-5">)</tspan></text>
<text transform="translate(63.7,716) rotate(-90)" font-size="21.4" text-anchor="middle" fill="#111" stroke="#111" stroke-width="0.3" font-family='"Liberation Sans", sans-serif'>Time (×10<tspan font-size="14" dy="-9">5</tspan><tspan dy="9"> t</tspan><tspan font-size="14" dy="5">0</tspan><tspan dy="-5">)</tspan></text>
<text transform="translate(612.9,716) rotate(-90)" font-size="21.4" text-anchor="middle" fill="#111" stroke="#111" stroke-width="0.3" font-family='"Liberation Sans", sans-serif'>Time (×10<tspan font-size="14" dy="-9">5</tspan><tspan dy="9"> t</tspan><tspan font-size="14" dy="5">0</tspan><tspan dy="-5">)</tspan></text>
<text transform="translate(1162.4,716) rotate(-90)" font-size="21.4" text-anchor="middle" fill="#111" stroke="#111" stroke-width="0.3" font-family='"Liberation Sans", sans-serif'>Time (×10<tspan font-size="14" dy="-9">5</tspan><tspan dy="9"> t</tspan><tspan font-size="14" dy="5">0</tspan><tspan dy="-5">)</tspan></text>
<text transform="translate(1723.5,100.5) rotate(-90)" font-size="21.4" text-anchor="middle" fill="#4f4f4f" stroke="#4f4f4f" stroke-width="0.3" font-family='"Liberation Sans", sans-serif'>Height (l<tspan font-size="14" dy="5">0</tspan><tspan dy="-5">)</tspan></text>
<text transform="translate(1724,263.7) rotate(-90)" font-size="21.4" text-anchor="middle" fill="#a0714b" stroke="#a0714b" stroke-width="0.3" font-family='"Liberation Sans", sans-serif'>Dune height (l<tspan font-size="14" dy="5">0</tspan><tspan dy="-5">)</tspan></text>
<text transform="translate(1724,437.8) rotate(-90)" font-size="21.4" text-anchor="middle" fill="#a0714b" stroke="#a0714b" stroke-width="0.3" font-family='"Liberation Sans", sans-serif'>Dune height (l<tspan font-size="14" dy="5">0</tspan><tspan dy="-5">)</tspan></text>
<rect x="164.8" y="586.2" width="348.6" height="8.8" fill="url(#cop)"/>
<text x="164.8" y="582.3" font-size="20" text-anchor="middle" fill="#111" stroke="#111" stroke-width="0.35" font-family='"Liberation Sans", sans-serif' >0</text>
<line x1="208.4" y1="586.2" x2="208.4" y2="588.5" stroke="#222" stroke-width="0.9"/>
<text x="208.4" y="582.3" font-size="20" text-anchor="middle" fill="#111" stroke="#111" stroke-width="0.35" font-family='"Liberation Sans", sans-serif' >25</text>
<line x1="252" y1="586.2" x2="252" y2="588.5" stroke="#222" stroke-width="0.9"/>
<text x="252" y="582.3" font-size="20" text-anchor="middle" fill="#111" stroke="#111" stroke-width="0.35" font-family='"Liberation Sans", sans-serif' >50</text>
<line x1="295.5" y1="586.2" x2="295.5" y2="588.5" stroke="#222" stroke-width="0.9"/>
<text x="295.5" y="582.3" font-size="20" text-anchor="middle" fill="#111" stroke="#111" stroke-width="0.35" font-family='"Liberation Sans", sans-serif' >75</text>
<line x1="339.1" y1="586.2" x2="339.1" y2="588.5" stroke="#222" stroke-width="0.9"/>
<text x="339.1" y="582.3" font-size="20" text-anchor="middle" fill="#111" stroke="#111" stroke-width="0.35" font-family='"Liberation Sans", sans-serif' >100</text>
<line x1="382.7" y1="586.2" x2="382.7" y2="588.5" stroke="#222" stroke-width="0.9"/>
<text x="382.7" y="582.3" font-size="20" text-anchor="middle" fill="#111" stroke="#111" stroke-width="0.35" font-family='"Liberation Sans", sans-serif' >125</text>
<line x1="426.3" y1="586.2" x2="426.3" y2="588.5" stroke="#222" stroke-width="0.9"/>
<text x="426.3" y="582.3" font-size="20" text-anchor="middle" fill="#111" stroke="#111" stroke-width="0.35" font-family='"Liberation Sans", sans-serif' >150</text>
<line x1="469.8" y1="586.2" x2="469.8" y2="588.5" stroke="#222" stroke-width="0.9"/>
<text x="469.8" y="582.3" font-size="20" text-anchor="middle" fill="#111" stroke="#111" stroke-width="0.35" font-family='"Liberation Sans", sans-serif' >175</text>
<text x="513.4" y="582.3" font-size="20" text-anchor="middle" fill="#111" stroke="#111" stroke-width="0.35" font-family='"Liberation Sans", sans-serif' >200</text>
<rect x="110.8" y="602.6" width="457" height="237.8" fill="none" stroke="#222" stroke-width="1.2"/>
<text x="110.8" y="860.9" font-size="20" text-anchor="middle" fill="#111" stroke="#111" stroke-width="0.35" font-family='"Liberation Sans", sans-serif' >0</text>
<line x1="187" y1="840.4" x2="187" y2="836.9" stroke="#222" stroke-width="1.0"/>
<text x="187" y="860.9" font-size="20" text-anchor="middle" fill="#111" stroke="#111" stroke-width="0.35" font-family='"Liberation Sans", sans-serif' >1000</text>
<line x1="263.1" y1="840.4" x2="263.1" y2="836.9" stroke="#222" stroke-width="1.0"/>
<text x="263.1" y="860.9" font-size="20" text-anchor="middle" fill="#111" stroke="#111" stroke-width="0.35" font-family='"Liberation Sans", sans-serif' >2000</text>
<line x1="339.3" y1="840.4" x2="339.3" y2="836.9" stroke="#222" stroke-width="1.0"/>
<text x="339.3" y="860.9" font-size="20" text-anchor="middle" fill="#111" stroke="#111" stroke-width="0.35" font-family='"Liberation Sans", sans-serif' >3000</text>
<line x1="415.5" y1="840.4" x2="415.5" y2="836.9" stroke="#222" stroke-width="1.0"/>
<text x="415.5" y="860.9" font-size="20" text-anchor="middle" fill="#111" stroke="#111" stroke-width="0.35" font-family='"Liberation Sans", sans-serif' >4000</text>
<line x1="491.6" y1="840.4" x2="491.6" y2="836.9" stroke="#222" stroke-width="1.0"/>
<text x="491.6" y="860.9" font-size="20" text-anchor="middle" fill="#111" stroke="#111" stroke-width="0.35" font-family='"Liberation Sans", sans-serif' >5000</text>
<text x="567.8" y="860.9" font-size="20" text-anchor="middle" fill="#111" stroke="#111" stroke-width="0.35" font-family='"Liberation Sans", sans-serif' >6000</text>
<line x1="110.8" y1="632.4" x2="114.3" y2="632.4" stroke="#222" stroke-width="1.0"/>
<text x="106.2" y="639.2" font-size="20" text-anchor="end" fill="#111" stroke="#111" stroke-width="0.35" font-family='"Liberation Sans", sans-serif' >2.0</text>
<line x1="110.8" y1="691" x2="114.3" y2="691" stroke="#222" stroke-width="1.0"/>
<text x="106.2" y="697.8" font-size="20" text-anchor="end" fill="#111" stroke="#111" stroke-width="0.35" font-family='"Liberation Sans", sans-serif' >6.0</text>
<line x1="110.8" y1="749.6" x2="114.3" y2="749.6" stroke="#222" stroke-width="1.0"/>
<text x="106.2" y="756.4" font-size="20" text-anchor="end" fill="#111" stroke="#111" stroke-width="0.35" font-family='"Liberation Sans", sans-serif' >10.0</text>
<line x1="110.8" y1="808.2" x2="114.3" y2="808.2" stroke="#222" stroke-width="1.0"/>
<text x="106.2" y="815" font-size="20" text-anchor="end" fill="#111" stroke="#111" stroke-width="0.35" font-family='"Liberation Sans", sans-serif' >14.0</text>
<rect x="714" y="586.2" width="348.6" height="8.8" fill="url(#cop)"/>
<text x="714" y="582.3" font-size="20" text-anchor="middle" fill="#111" stroke="#111" stroke-width="0.35" font-family='"Liberation Sans", sans-serif' >0</text>
<line x1="757.6" y1="586.2" x2="757.6" y2="588.5" stroke="#222" stroke-width="0.9"/>
<text x="757.6" y="582.3" font-size="20" text-anchor="middle" fill="#111" stroke="#111" stroke-width="0.35" font-family='"Liberation Sans", sans-serif' >25</text>
<line x1="801.1" y1="586.2" x2="801.1" y2="588.5" stroke="#222" stroke-width="0.9"/>
<text x="801.1" y="582.3" font-size="20" text-anchor="middle" fill="#111" stroke="#111" stroke-width="0.35" font-family='"Liberation Sans", sans-serif' >50</text>
<line x1="844.7" y1="586.2" x2="844.7" y2="588.5" stroke="#222" stroke-width="0.9"/>
<text x="844.7" y="582.3" font-size="20" text-anchor="middle" fill="#111" stroke="#111" stroke-width="0.35" font-family='"Liberation Sans", sans-serif' >75</text>
<line x1="888.3" y1="586.2" x2="888.3" y2="588.5" stroke="#222" stroke-width="0.9"/>
<text x="888.3" y="582.3" font-size="20" text-anchor="middle" fill="#111" stroke="#111" stroke-width="0.35" font-family='"Liberation Sans", sans-serif' >100</text>
<line x1="931.9" y1="586.2" x2="931.9" y2="588.5" stroke="#222" stroke-width="0.9"/>
<text x="931.9" y="582.3" font-size="20" text-anchor="middle" fill="#111" stroke="#111" stroke-width="0.35" font-family='"Liberation Sans", sans-serif' >125</text>
<line x1="975.4" y1="586.2" x2="975.4" y2="588.5" stroke="#222" stroke-width="0.9"/>
<text x="975.4" y="582.3" font-size="20" text-anchor="middle" fill="#111" stroke="#111" stroke-width="0.35" font-family='"Liberation Sans", sans-serif' >150</text>
<line x1="1019" y1="586.2" x2="1019" y2="588.5" stroke="#222" stroke-width="0.9"/>
<text x="1019" y="582.3" font-size="20" text-anchor="middle" fill="#111" stroke="#111" stroke-width="0.35" font-family='"Liberation Sans", sans-serif' >175</text>
<text x="1062.6" y="582.3" font-size="20" text-anchor="middle" fill="#111" stroke="#111" stroke-width="0.35" font-family='"Liberation Sans", sans-serif' >200</text>
<rect x="660" y="602.6" width="457.5" height="237.8" fill="none" stroke="#222" stroke-width="1.2"/>
<text x="660" y="860.9" font-size="20" text-anchor="middle" fill="#111" stroke="#111" stroke-width="0.35" font-family='"Liberation Sans", sans-serif' >0</text>
<line x1="736.2" y1="840.4" x2="736.2" y2="836.9" stroke="#222" stroke-width="1.0"/>
<text x="736.2" y="860.9" font-size="20" text-anchor="middle" fill="#111" stroke="#111" stroke-width="0.35" font-family='"Liberation Sans", sans-serif' >1000</text>
<line x1="812.5" y1="840.4" x2="812.5" y2="836.9" stroke="#222" stroke-width="1.0"/>
<text x="812.5" y="860.9" font-size="20" text-anchor="middle" fill="#111" stroke="#111" stroke-width="0.35" font-family='"Liberation Sans", sans-serif' >2000</text>
<line x1="888.8" y1="840.4" x2="888.8" y2="836.9" stroke="#222" stroke-width="1.0"/>
<text x="888.8" y="860.9" font-size="20" text-anchor="middle" fill="#111" stroke="#111" stroke-width="0.35" font-family='"Liberation Sans", sans-serif' >3000</text>
<line x1="965" y1="840.4" x2="965" y2="836.9" stroke="#222" stroke-width="1.0"/>
<text x="965" y="860.9" font-size="20" text-anchor="middle" fill="#111" stroke="#111" stroke-width="0.35" font-family='"Liberation Sans", sans-serif' >4000</text>
<line x1="1041.2" y1="840.4" x2="1041.2" y2="836.9" stroke="#222" stroke-width="1.0"/>
<text x="1041.2" y="860.9" font-size="20" text-anchor="middle" fill="#111" stroke="#111" stroke-width="0.35" font-family='"Liberation Sans", sans-serif' >5000</text>
<text x="1117.5" y="860.9" font-size="20" text-anchor="middle" fill="#111" stroke="#111" stroke-width="0.35" font-family='"Liberation Sans", sans-serif' >6000</text>
<line x1="660" y1="632.4" x2="663.5" y2="632.4" stroke="#222" stroke-width="1.0"/>
<text x="655.4" y="639.2" font-size="20" text-anchor="end" fill="#111" stroke="#111" stroke-width="0.35" font-family='"Liberation Sans", sans-serif' >2.0</text>
<line x1="660" y1="691" x2="663.5" y2="691" stroke="#222" stroke-width="1.0"/>
<text x="655.4" y="697.8" font-size="20" text-anchor="end" fill="#111" stroke="#111" stroke-width="0.35" font-family='"Liberation Sans", sans-serif' >6.0</text>
<line x1="660" y1="749.6" x2="663.5" y2="749.6" stroke="#222" stroke-width="1.0"/>
<text x="655.4" y="756.4" font-size="20" text-anchor="end" fill="#111" stroke="#111" stroke-width="0.35" font-family='"Liberation Sans", sans-serif' >10.0</text>
<line x1="660" y1="808.2" x2="663.5" y2="808.2" stroke="#222" stroke-width="1.0"/>
<text x="655.4" y="815" font-size="20" text-anchor="end" fill="#111" stroke="#111" stroke-width="0.35" font-family='"Liberation Sans", sans-serif' >14.0</text>
<rect x="1263.5" y="586.2" width="348.6" height="8.8" fill="url(#cop)"/>
<text x="1263.5" y="582.3" font-size="20" text-anchor="middle" fill="#111" stroke="#111" stroke-width="0.35" font-family='"Liberation Sans", sans-serif' >0</text>
<line x1="1307.1" y1="586.2" x2="1307.1" y2="588.5" stroke="#222" stroke-width="0.9"/>
<text x="1307.1" y="582.3" font-size="20" text-anchor="middle" fill="#111" stroke="#111" stroke-width="0.35" font-family='"Liberation Sans", sans-serif' >25</text>
<line x1="1350.7" y1="586.2" x2="1350.7" y2="588.5" stroke="#222" stroke-width="0.9"/>
<text x="1350.7" y="582.3" font-size="20" text-anchor="middle" fill="#111" stroke="#111" stroke-width="0.35" font-family='"Liberation Sans", sans-serif' >50</text>
<line x1="1394.2" y1="586.2" x2="1394.2" y2="588.5" stroke="#222" stroke-width="0.9"/>
<text x="1394.2" y="582.3" font-size="20" text-anchor="middle" fill="#111" stroke="#111" stroke-width="0.35" font-family='"Liberation Sans", sans-serif' >75</text>
<line x1="1437.8" y1="586.2" x2="1437.8" y2="588.5" stroke="#222" stroke-width="0.9"/>
<text x="1437.8" y="582.3" font-size="20" text-anchor="middle" fill="#111" stroke="#111" stroke-width="0.35" font-family='"Liberation Sans", sans-serif' >100</text>
<line x1="1481.4" y1="586.2" x2="1481.4" y2="588.5" stroke="#222" stroke-width="0.9"/>
<text x="1481.4" y="582.3" font-size="20" text-anchor="middle" fill="#111" stroke="#111" stroke-width="0.35" font-family='"Liberation Sans", sans-serif' >125</text>
<line x1="1524.9" y1="586.2" x2="1524.9" y2="588.5" stroke="#222" stroke-width="0.9"/>
<text x="1524.9" y="582.3" font-size="20" text-anchor="middle" fill="#111" stroke="#111" stroke-width="0.35" font-family='"Liberation Sans", sans-serif' >150</text>
<line x1="1568.5" y1="586.2" x2="1568.5" y2="588.5" stroke="#222" stroke-width="0.9"/>
<text x="1568.5" y="582.3" font-size="20" text-anchor="middle" fill="#111" stroke="#111" stroke-width="0.35" font-family='"Liberation Sans", sans-serif' >175</text>
<text x="1612.1" y="582.3" font-size="20" text-anchor="middle" fill="#111" stroke="#111" stroke-width="0.35" font-family='"Liberation Sans", sans-serif' >200</text>
<rect x="1209.5" y="602.6" width="459" height="237.8" fill="none" stroke="#222" stroke-width="1.2"/>
<text x="1209.5" y="860.9" font-size="20" text-anchor="middle" fill="#111" stroke="#111" stroke-width="0.35" font-family='"Liberation Sans", sans-serif' >0</text>
<line x1="1286" y1="840.4" x2="1286" y2="836.9" stroke="#222" stroke-width="1.0"/>
<text x="1286" y="860.9" font-size="20" text-anchor="middle" fill="#111" stroke="#111" stroke-width="0.35" font-family='"Liberation Sans", sans-serif' >1000</text>
<line x1="1362.5" y1="840.4" x2="1362.5" y2="836.9" stroke="#222" stroke-width="1.0"/>
<text x="1362.5" y="860.9" font-size="20" text-anchor="middle" fill="#111" stroke="#111" stroke-width="0.35" font-family='"Liberation Sans", sans-serif' >2000</text>
<line x1="1439" y1="840.4" x2="1439" y2="836.9" stroke="#222" stroke-width="1.0"/>
<text x="1439" y="860.9" font-size="20" text-anchor="middle" fill="#111" stroke="#111" stroke-width="0.35" font-family='"Liberation Sans", sans-serif' >3000</text>
<line x1="1515.5" y1="840.4" x2="1515.5" y2="836.9" stroke="#222" stroke-width="1.0"/>
<text x="1515.5" y="860.9" font-size="20" text-anchor="middle" fill="#111" stroke="#111" stroke-width="0.35" font-family='"Liberation Sans", sans-serif' >4000</text>
<line x1="1592" y1="840.4" x2="1592" y2="836.9" stroke="#222" stroke-width="1.0"/>
<text x="1592" y="860.9" font-size="20" text-anchor="middle" fill="#111" stroke="#111" stroke-width="0.35" font-family='"Liberation Sans", sans-serif' >5000</text>
<text x="1668.5" y="860.9" font-size="20" text-anchor="middle" fill="#111" stroke="#111" stroke-width="0.35" font-family='"Liberation Sans", sans-serif' >6000</text>
<line x1="1209.5" y1="632.4" x2="1213" y2="632.4" stroke="#222" stroke-width="1.0"/>
<text x="1204.9" y="639.2" font-size="20" text-anchor="end" fill="#111" stroke="#111" stroke-width="0.35" font-family='"Liberation Sans", sans-serif' >2.0</text>
<line x1="1209.5" y1="691" x2="1213" y2="691" stroke="#222" stroke-width="1.0"/>
<text x="1204.9" y="697.8" font-size="20" text-anchor="end" fill="#111" stroke="#111" stroke-width="0.35" font-family='"Liberation Sans", sans-serif' >6.0</text>
<line x1="1209.5" y1="749.6" x2="1213" y2="749.6" stroke="#222" stroke-width="1.0"/>
<text x="1204.9" y="756.4" font-size="20" text-anchor="end" fill="#111" stroke="#111" stroke-width="0.35" font-family='"Liberation Sans", sans-serif' >10.0</text>
<line x1="1209.5" y1="808.2" x2="1213" y2="808.2" stroke="#222" stroke-width="1.0"/>
<text x="1204.9" y="815" font-size="20" text-anchor="end" fill="#111" stroke="#111" stroke-width="0.35" font-family='"Liberation Sans", sans-serif' >14.0</text>
<line x1="296.3" y1="607" x2="383.1" y2="645.3" stroke="#e0141b" stroke-width="4.2" stroke-linecap="round"/>
<line x1="858.0" y1="605.5" x2="946.5" y2="629.5" stroke="#e0141b" stroke-width="4.2" stroke-linecap="round"/>
<line x1="1427.0" y1="605.5" x2="1515.3" y2="626.5" stroke="#e0141b" stroke-width="4.2" stroke-linecap="round"/>
<line x1="215.0" y1="721.5" x2="369.6" y2="837.8" stroke="#ffffff" stroke-width="3.2" stroke-linecap="round"/>
<line x1="852.6" y1="756.0" x2="893.7" y2="838.3" stroke="#ffffff" stroke-width="3.2" stroke-linecap="round"/>
<line x1="1482.6" y1="758.8" x2="1526.8" y2="838.3" stroke="#ffffff" stroke-width="3.2" stroke-linecap="round"/>
</svg>
</div>
<script>(function(){
function copper(t){ t=t<0?0:(t>1?1:t); return [Math.min(255,318.75*t), 199.2*t, 126.9*t]; }
function frac(x){ return x-Math.floor(x); }
function cl(x){ return x<0?0:(x>1?1:x); }
function ss(a,b,x){ var t=cl((x-a)/(b-a)); return t*t*(3-2*t); }
function L(arr, v){
  var n=arr.length;
  if(v<=arr[0][0]) return arr[0][1]+(n>1?(arr[1][1]-arr[0][1])/(arr[1][0]-arr[0][0])*(v-arr[0][0]):0);
  if(v>=arr[n-1][0]) return arr[n-1][1]+(arr[n-1][1]-arr[n-2][1])/(arr[n-1][0]-arr[n-2][0])*(v-arr[n-1][0]);
  var i=1; while(v>arr[i][0]) i++;
  var p1=arr[i-1], p2=arr[i], p0=i>1?arr[i-2]:p1, p3=i<n-1?arr[i+1]:p2;
  var h=p2[0]-p1[0], t=(v-p1[0])/h;
  var m1=(p0===p1)?(p2[1]-p1[1])/h:(p2[1]-p0[1])/(p2[0]-p0[0]);
  var m2=(p3===p2)?(p2[1]-p1[1])/h:(p3[1]-p1[1])/(p3[0]-p1[0]);
  var t2=t*t, t3=t2*t;
  return (2*t3-3*t2+1)*p1[1]+(t3-2*t2+t)*h*m1+(-2*t3+3*t2)*p2[1]+(t3-t2)*h*m2;
}
function C(pts){ return pts.map(function(p){return [p[1],p[0]];}); }
function cosp(p){ return 0.5+0.5*Math.cos(6.2831853*(p-0.4)); }
function pert(u,v){ return 0.10*Math.sin(u/60+v/45)+0.07*Math.sin(u/35-v/80+2.0)+0.05*Math.sin(u/23+v/97+4.0); }
function traj(W,H,lam,uStart,cf){
  var P=[]; var n=Math.ceil((W+40-uStart)/lam)+1;
  for(var i=0;i<n;i++){ var u=uStart+i*lam, r=new Float32Array(H+1);
    for(var v=0;v<=H;v++){ r[v]=u; u+=cf(u,v+0.5); } P.push(r); }
  return P;
}
function phase(P,u,v){
  var vi=v|0, lo=0, hi=P.length-1;
  if(u<P[0][vi]) return (u-P[0][vi])/Math.max(4,(P[1][vi]-P[0][vi]));
  if(u>=P[hi][vi]) return hi+(u-P[hi][vi])/Math.max(4,(P[hi][vi]-P[hi-1][vi]));
  while(hi-lo>1){ var m=(lo+hi)>>1; if(P[m][vi]<=u) lo=m; else hi=m; }
  return lo+(u-P[lo][vi])/(P[lo+1][vi]-P[lo][vi]);
}
function shape(s,pk,a,b){ return s<pk ? Math.pow(s/pk,a) : Math.pow((1-s)/(1-pk),b); }
function draw(id, fn){
  var cv=document.getElementById(id); if(!cv||!cv.getContext) return;
  var W=cv.width, H=cv.height, ctx=cv.getContext('2d');
  var img=ctx.createImageData(W,H), d=img.data;
  for(var v=0;v<H;v++) for(var u=0;u<W;u++){
    var t=fn(u+0.5,v+0.5), c=copper(t), k=(v*W+u)*4;
    d[k]=c[0]; d[k+1]=c[1]; d[k+2]=c[2]; d[k+3]=255;
  }
  ctx.putImageData(img,0,0);
}
/* banded renderer: rowfn(v) -> array of troughs {u,lo} and bands {hi,pk,a,b} (band i between trough i and i+1) */
function drawBands(id, rowfn, post){
  var cv=document.getElementById(id); if(!cv||!cv.getContext) return;
  var W=cv.width, H=cv.height, ctx=cv.getContext('2d');
  var img=ctx.createImageData(W,H), d=img.data;
  for(var v=0;v<H;v++){
    var R=rowfn(v+0.5), T=R.t, B=R.b, n=T.length;
    for(var u=0;u<W;u++){
      var uu=u+0.5, uw=uu+pert(uu,v+0.5)*R.pw+(R.sh?R.sh(uu):0);
      var j=0, lo=0, hi=n-1;
      if(uw<=T[0].u) j=0; else if(uw>=T[n-1].u) j=n-2; else { while(hi-lo>1){ var m=(lo+hi)>>1; if(T[m].u<=uw) lo=m; else hi=m; } j=lo; }
      var ta=T[j], tb=T[j+1], bd=B[j];
      var s=cl((uw-ta.u)/(tb.u-ta.u));
      var base=ta.lo*(1-s)+tb.lo*s;
      var sh=bd.e?Math.pow(Math.sin(3.14159265*s),bd.e):shape(s,bd.pk,bd.a,bd.b);
      var t=base+(bd.hi-base)*sh;
      if(post) t=post(uu,v+0.5,t);
      var c=copper(t), k=(v*W+u)*4;
      d[k]=c[0]; d[k+1]=c[1]; d[k+2]=c[2]; d[k+3]=255;
    }
  }
  ctx.putImageData(img,0,0);
}
var H=238;

/* ---------------- A ---------------- */
var PA=traj(457,H,20.3,-480,function(u,v){ return 1.2+1.75*Math.exp(-v/85); });
var PAf=traj(457,H,15,-900,function(u,v){ return 3.6+0.6*Math.exp(-v/60); });
function fnA(u,v){
  var p=pert(u,v);
  var pc=phase(PA,u,v)+p;
  var pf=phase(PAf,u,v)+p*0.5;
  var edge=30+u*0.03;
  var w=ss(edge-6,edge+8,v);
  var amp=0.235+0.035*Math.sin(u/47+v/31);
  var tc=0.26+amp*Math.pow(cosp(pc),0.8);
  var tf=0.31+0.14*cosp(pf);
  return tf*(1-w)+tc*w;
}

/* ---------------- B ---------------- */
var BD1=C([[14,0],[27,39],[41,67],[54,96],[64,121],[73,157],[84,195],[95,223],[103,240]]);
var BD2=C([[52,0],[80,37],[102,77],[127,117],[148,157],[167,197],[186,240]]);
var BE2=C([[80,0],[105,37],[135,77],[165,117],[195,153],[218,197],[240,240]]);
function cR(u,v){ var a=0.35+0.55*cl((u-180)/230); return a+(3.6-a)*Math.exp(-v/70); }
var PBr=traj(458,H,18,-330,cR);
var PBl=traj(458,H,24,-700,function(u,v){ return 1.45+1.6*Math.exp(-v/90); });
var SMB={hi:0.54,e:0.8}, RB={hi:0.5,e:1.0};
function rowB(v){
  var vi=v|0, T=[], B=[];
  var d1=L(BD1,v);
  for(var i=0;i<PBl.length;i++){ var u=PBl[i][vi]; if(u<d1-1.5){ T.push({u:u,lo:0.19}); B.push(SMB);} }
  T.push({u:d1,lo:0.2}); B.push(RB);
  for(var i=0;i<PBr.length;i++){ var u=PBr[i][vi]; if(u>d1+5){ T.push({u:u,lo:0.16}); B.push(RB); } }
  return {t:T,b:B,pw:10};
}
function bigB(u,v){
  var d1=L(BD1,v), d2=L(BD2,v), e2=L(BE2,v);
  if(u<d2){ var s=cl((u-d1)/(d2-d1)); var hi=0.55+0.17*ss(20,110,v);
    var lo=0.3-0.25*ss(60,200,v);
    return (lo*(1-s)+0.15*s)+(hi-(lo*(1-s)+0.15*s))*shape(s,0.86,0.4,0.7) + 0.03*cosp((u-2.2*v)/6)-0.015; }
  var s=cl((u-d2)/(e2-d2));
  return 0.15+(0.6-0.15)*shape(s,0.7,0.6,0.8);
}
function postB(u,v,t){
  var x=660+u;
  var d1=L(BD1,v), e2=L(BE2,v);
  if(u>d1){ var f=ss(e2-6,e2+12,u); t=bigB(u,v)*(1-f)+t*f; }
  var w1=2+v*0.045, dd=(u-d1)/w1;
  t*=1-(0.3+0.7*ss(60,190,v))*Math.exp(-dd*dd);
  if(u<d1) t*=1-0.45*ss(-30,0,u-d1)*ss(110,220,v);
  if(x>1045){
    var m;
    if(x<1067) m=t*(1-0.55*ss(1045,1066,x))+0.66*0.55*ss(1045,1066,x);
    else if(x<1087){ var ph=frac((v+(x-1076)*0.4)/13.5); var dash=ss(0.5,0.65,ph)*(1-ss(0.8,0.95,ph)); m=(x<1068.5?0.72:0.8)-0.08*dash*ss(1075,1078,x); }
    else if(x<1102) m=0.78*(1-ss(1086,1101,x));
    else m=0;
    if(x>1084&&x<1102&&v<24) m*=0.5+0.5*ss(4,24,v);
    t=m;
  }
  if(u<5&&v<14) t*=0.7;
  return t;
}

/* ---------------- C ---------------- */
var CD=C([[55,0],[68,27],[80,53],[89,82],[100,110],[110,135],[136,190],[155,240]]);
var CDW=[[0,6],[50,6],[90,8],[135,13],[190,17],[240,14]];
var CR=C([[82,0],[104,25],[148,80],[192,135],[228,190],[250,240]]);
function cRC(u,v){ var a=0.35+0.5*cl((u-200)/220); return a+(3.8-a)*Math.exp(-v/70); }
var PCr=traj(458,H,18,-330,cRC);
var PCl=traj(458,H,46,-1400,function(u,v){ var dc=L(CD,v); return (3.6+1.2*Math.exp(-v/80))*(1-0.55*ss(dc-70,dc,u)); });
var SMC={hi:0.63,e:0.9}, RC={hi:0.49,e:1.1};
function rowC(v){
  var vi=v|0, T=[], B=[];
  var dc=L(CD,v), w=L(CDW,v), e=dc+w*0.8;
  for(var i=0;i<PCl.length;i++){ var u=PCl[i][vi]; if(u<e-1.5){ T.push({u:u,lo:0.34}); B.push(SMC); } }
  T.push({u:e,lo:0.05}); B.push(RC);
  for(var i=0;i<PCr.length;i++){ var u=PCr[i][vi]; if(u>e+4){ T.push({u:u,lo:0.22}); B.push(RC); } }
  return {t:T,b:B,pw:10,sh:function(u){return u>420.6?9:0;}};
}
function postC(u,v,t){
  var dc=L(CD,v), w=L(CDW,v), xr=L(CR,v), e=dc+w*0.8;
  if(u>e-1){
    var s=cl((u-e)/(xr+8-e));
    var lb=0.05+(0.72-0.05)*shape(s,0.82,0.45,0.8)+0.03*cosp((u-2.2*v)/6)-0.015;
    if(s>=1) lb=0.2;
    var f=ss(xr+4,xr+16,u);
    t=lb*(1-f)+t*f;
  }
  var prof = u<dc ? Math.pow(ss(dc-w*2.4,dc-w*0.2,u),1.5) : 1-ss(dc+w*0.55,dc+w*0.9,u);
  t*=1-(0.45+0.53*ss(20,110,v))*prof;
  if(u<dc) t*=1-0.3*ss(-45,0,u-dc);
  if(u<dc) t=0.36+(t-0.36)*ss(3,18,v);
  if(u>420.6) t=t*1.06+0.02;
  t=t*(1-0.25*(1-ss(0,14,v)))+0.06*(1-ss(0,14,v));
  return t;
}
draw('hmA',fnA); drawBands('hmB',rowB,postB); drawBands('hmC',rowC,postC);
})();
</script>
</body></html>
